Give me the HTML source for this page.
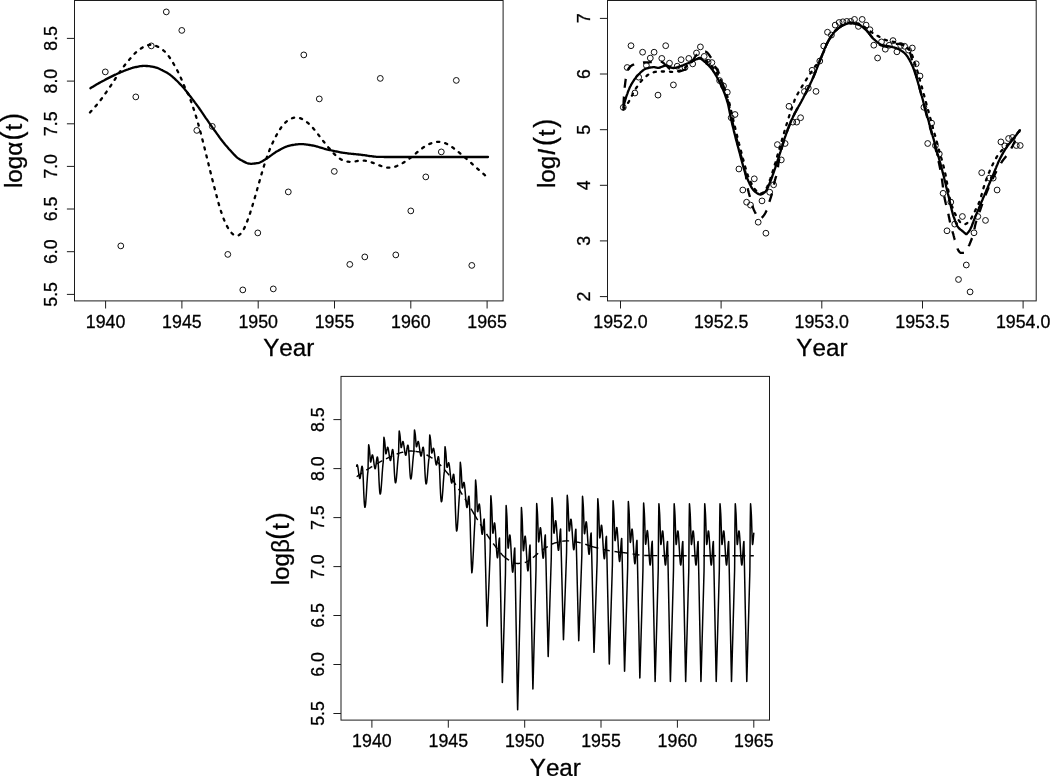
<!DOCTYPE html>
<html>
<head>
<meta charset="utf-8">
<title>Figure</title>
<style>
html,body{margin:0;padding:0;background:#fff;}
body{width:1050px;height:776px;overflow:hidden;}
svg{display:block;filter:grayscale(1);}
text{font-family:"Liberation Sans",sans-serif;fill:#000;font-kerning:none;stroke:#000;stroke-width:0.3px;}
</style>
</head>
<body>
<svg width="1050" height="776" viewBox="0 0 1050 776">
<rect x="0" y="0" width="1050" height="776" fill="#ffffff"/>
<rect x="74.5" y="0.5" width="428.6" height="300.4" fill="none" stroke="#1c1c1c" stroke-width="1.00"/>
<line x1="105.6" y1="300.9" x2="105.6" y2="308.5" stroke="#1c1c1c" stroke-width="1.00"/>
<text x="105.6" y="327.5" font-size="17.8" text-anchor="middle">1940</text>
<line x1="181.9" y1="300.9" x2="181.9" y2="308.5" stroke="#1c1c1c" stroke-width="1.00"/>
<text x="181.9" y="327.5" font-size="17.8" text-anchor="middle">1945</text>
<line x1="258.2" y1="300.9" x2="258.2" y2="308.5" stroke="#1c1c1c" stroke-width="1.00"/>
<text x="258.2" y="327.5" font-size="17.8" text-anchor="middle">1950</text>
<line x1="334.5" y1="300.9" x2="334.5" y2="308.5" stroke="#1c1c1c" stroke-width="1.00"/>
<text x="334.5" y="327.5" font-size="17.8" text-anchor="middle">1955</text>
<line x1="410.8" y1="300.9" x2="410.8" y2="308.5" stroke="#1c1c1c" stroke-width="1.00"/>
<text x="410.8" y="327.5" font-size="17.8" text-anchor="middle">1960</text>
<line x1="487.1" y1="300.9" x2="487.1" y2="308.5" stroke="#1c1c1c" stroke-width="1.00"/>
<text x="487.1" y="327.5" font-size="17.8" text-anchor="middle">1965</text>
<line x1="66.9" y1="294.4" x2="74.5" y2="294.4" stroke="#1c1c1c" stroke-width="1.00"/>
<text transform="translate(57.2 294.4) rotate(-90)" font-size="17.8" text-anchor="middle">5.5</text>
<line x1="66.9" y1="251.7" x2="74.5" y2="251.7" stroke="#1c1c1c" stroke-width="1.00"/>
<text transform="translate(57.2 251.7) rotate(-90)" font-size="17.8" text-anchor="middle">6.0</text>
<line x1="66.9" y1="209.0" x2="74.5" y2="209.0" stroke="#1c1c1c" stroke-width="1.00"/>
<text transform="translate(57.2 209.0) rotate(-90)" font-size="17.8" text-anchor="middle">6.5</text>
<line x1="66.9" y1="166.4" x2="74.5" y2="166.4" stroke="#1c1c1c" stroke-width="1.00"/>
<text transform="translate(57.2 166.4) rotate(-90)" font-size="17.8" text-anchor="middle">7.0</text>
<line x1="66.9" y1="123.8" x2="74.5" y2="123.8" stroke="#1c1c1c" stroke-width="1.00"/>
<text transform="translate(57.2 123.8) rotate(-90)" font-size="17.8" text-anchor="middle">7.5</text>
<line x1="66.9" y1="81.1" x2="74.5" y2="81.1" stroke="#1c1c1c" stroke-width="1.00"/>
<text transform="translate(57.2 81.1) rotate(-90)" font-size="17.8" text-anchor="middle">8.0</text>
<line x1="66.9" y1="38.4" x2="74.5" y2="38.4" stroke="#1c1c1c" stroke-width="1.00"/>
<text transform="translate(57.2 38.4) rotate(-90)" font-size="17.8" text-anchor="middle">8.5</text>
<text x="288.7" y="356.2" font-size="24.2" text-anchor="middle">Year</text>
<g transform="translate(22.10 188.00) rotate(-90)">
<text x="0" y="0" font-size="24.2">log</text>
<text x="32.29" y="0" font-size="24.2">α</text>
<text transform="translate(47.59 -0.50) scale(0.900 1)" font-size="30.0">(</text>
<text x="57.58" y="0" font-size="24.2">t</text>
<text transform="translate(66.01 -0.50) scale(0.900 1)" font-size="30.0">)</text>
</g>
<g fill="none" stroke="#111" stroke-width="1.00">
<circle cx="105.3" cy="71.9" r="2.90"/>
<circle cx="120.8" cy="245.9" r="2.90"/>
<circle cx="135.8" cy="96.9" r="2.90"/>
<circle cx="151.3" cy="45.9" r="2.90"/>
<circle cx="166.3" cy="11.9" r="2.90"/>
<circle cx="181.8" cy="30.4" r="2.90"/>
<circle cx="196.8" cy="130.4" r="2.90"/>
<circle cx="212.3" cy="126.4" r="2.90"/>
<circle cx="227.8" cy="254.4" r="2.90"/>
<circle cx="242.8" cy="289.9" r="2.90"/>
<circle cx="257.8" cy="232.9" r="2.90"/>
<circle cx="273.3" cy="288.9" r="2.90"/>
<circle cx="288.3" cy="191.9" r="2.90"/>
<circle cx="303.8" cy="54.9" r="2.90"/>
<circle cx="319.3" cy="98.9" r="2.90"/>
<circle cx="334.3" cy="171.4" r="2.90"/>
<circle cx="349.8" cy="264.4" r="2.90"/>
<circle cx="364.8" cy="256.9" r="2.90"/>
<circle cx="380.3" cy="78.4" r="2.90"/>
<circle cx="395.8" cy="254.9" r="2.90"/>
<circle cx="410.8" cy="210.9" r="2.90"/>
<circle cx="425.8" cy="176.9" r="2.90"/>
<circle cx="441.3" cy="151.9" r="2.90"/>
<circle cx="456.3" cy="80.4" r="2.90"/>
<circle cx="471.8" cy="265.4" r="2.90"/>
</g>
<path d="M90.4 88.2L91.4 87.6L92.4 87.0L93.4 86.4L94.4 85.8L95.4 85.2L96.4 84.6L97.4 84.0L98.4 83.4L99.4 82.9L100.4 82.3L101.4 81.8L102.4 81.2L103.4 80.7L104.4 80.2L105.3 79.6L106.3 79.1L107.3 78.6L108.3 78.1L109.3 77.6L110.3 77.1L111.3 76.6L112.3 76.1L113.3 75.6L114.3 75.1L115.3 74.6L116.3 74.2L117.3 73.7L118.3 73.3L119.3 72.9L120.3 72.4L121.3 72.0L122.3 71.6L123.3 71.2L124.3 70.8L125.3 70.4L126.3 70.0L127.3 69.6L128.3 69.3L129.3 68.9L130.3 68.6L131.3 68.2L132.3 67.9L133.2 67.6L134.2 67.4L135.2 67.2L136.2 67.0L137.2 66.8L138.2 66.6L139.2 66.4L140.2 66.2L141.2 66.1L142.2 66.0L143.2 65.9L144.2 65.9L145.2 65.9L146.2 66.0L147.2 66.0L148.2 66.1L149.2 66.2L150.2 66.3L151.2 66.5L152.2 66.6L153.2 66.8L154.2 67.0L155.2 67.3L156.2 67.6L157.2 67.9L158.2 68.3L159.2 68.7L160.2 69.2L161.2 69.7L162.1 70.1L163.1 70.7L164.1 71.2L165.1 71.7L166.1 72.2L167.1 72.8L168.1 73.4L169.1 74.1L170.1 74.8L171.1 75.6L172.1 76.4L173.1 77.3L174.1 78.2L175.1 79.1L176.1 80.1L177.1 81.0L178.1 82.0L179.1 83.1L180.1 84.1L181.1 85.1L182.1 86.2L183.1 87.3L184.1 88.4L185.1 89.7L186.1 90.9L187.1 92.2L188.1 93.5L189.1 94.8L190.0 96.1L191.0 97.3L192.0 98.6L193.0 99.9L194.0 101.2L195.0 102.6L196.0 103.9L197.0 105.3L198.0 106.6L199.0 108.0L200.0 109.5L201.0 110.9L202.0 112.4L203.0 113.8L204.0 115.3L205.0 116.8L206.0 118.3L207.0 119.7L208.0 121.2L209.0 122.7L210.0 124.1L211.0 125.5L212.0 126.9L213.0 128.3L214.0 129.7L215.0 131.0L216.0 132.4L217.0 133.8L218.0 135.2L218.9 136.5L219.9 137.9L220.9 139.2L221.9 140.5L222.9 141.8L223.9 143.0L224.9 144.3L225.9 145.5L226.9 146.6L227.9 147.7L228.9 148.9L229.9 150.0L230.9 151.1L231.9 152.2L232.9 153.3L233.9 154.4L234.9 155.4L235.9 156.4L236.9 157.3L237.9 158.1L238.9 158.8L239.9 159.4L240.9 160.0L241.9 160.5L242.9 161.1L243.9 161.6L244.9 162.1L245.9 162.6L246.8 163.0L247.8 163.3L248.8 163.6L249.8 163.7L250.8 163.8L251.8 163.8L252.8 163.7L253.8 163.7L254.8 163.5L255.8 163.4L256.8 163.2L257.8 163.1L258.8 162.9L259.8 162.5L260.8 162.0L261.8 161.5L262.8 160.9L263.8 160.3L264.8 159.7L265.8 159.1L266.8 158.5L267.8 157.8L268.8 157.1L269.8 156.3L270.8 155.6L271.8 154.9L272.8 154.1L273.8 153.4L274.8 152.8L275.7 152.1L276.7 151.5L277.7 151.0L278.7 150.4L279.7 149.9L280.7 149.3L281.7 148.8L282.7 148.3L283.7 147.8L284.7 147.3L285.7 146.9L286.7 146.5L287.7 146.2L288.7 145.9L289.7 145.6L290.7 145.4L291.7 145.2L292.7 145.0L293.7 144.8L294.7 144.7L295.7 144.5L296.7 144.4L297.7 144.3L298.7 144.2L299.7 144.1L300.7 144.1L301.7 144.1L302.7 144.2L303.6 144.2L304.6 144.3L305.6 144.4L306.6 144.6L307.6 144.7L308.6 144.9L309.6 145.0L310.6 145.2L311.6 145.4L312.6 145.5L313.6 145.7L314.6 145.9L315.6 146.2L316.6 146.5L317.6 146.7L318.6 147.0L319.6 147.3L320.6 147.6L321.6 147.9L322.6 148.2L323.6 148.5L324.6 148.8L325.6 149.1L326.6 149.3L327.6 149.6L328.6 149.8L329.6 150.0L330.6 150.2L331.6 150.5L332.5 150.7L333.5 150.9L334.5 151.1L335.5 151.3L336.5 151.5L337.5 151.7L338.5 151.9L339.5 152.1L340.5 152.3L341.5 152.5L342.5 152.6L343.5 152.8L344.5 152.9L345.5 153.1L346.5 153.2L347.5 153.3L348.5 153.5L349.5 153.6L350.5 153.7L351.5 153.8L352.5 153.9L353.5 154.0L354.5 154.1L355.5 154.2L356.5 154.3L357.5 154.4L358.5 154.5L359.5 154.6L360.4 154.7L361.4 154.9L362.4 155.0L363.4 155.1L364.4 155.2L365.4 155.4L366.4 155.5L367.4 155.7L368.4 155.8L369.4 156.0L370.4 156.1L371.4 156.2L372.4 156.4L373.4 156.5L374.4 156.6L375.4 156.7L376.4 156.8L377.4 156.8L378.4 156.9L379.4 156.9L380.4 156.9L381.4 156.9L382.4 156.9L383.4 156.9L384.4 157.0L385.4 157.0L386.4 157.0L387.4 157.0L388.4 157.0L389.3 157.0L390.3 157.0L391.3 157.0L392.3 157.0L393.3 157.0L394.3 157.0L395.3 157.0L396.3 157.0L397.3 157.0L398.3 157.0L399.3 157.0L400.3 157.0L401.3 157.0L402.3 157.0L403.3 157.0L404.3 157.0L405.3 157.0L406.3 157.0L407.3 157.0L408.3 157.0L409.3 157.0L410.3 157.0L411.3 157.0L412.3 157.0L413.3 157.0L414.3 157.0L415.3 157.0L416.3 157.0L417.2 157.0L418.2 157.0L419.2 157.0L420.2 157.0L421.2 157.0L422.2 157.0L423.2 157.0L424.2 157.0L425.2 157.0L426.2 157.0L427.2 157.0L428.2 157.0L429.2 157.0L430.2 157.0L431.2 157.0L432.2 157.0L433.2 157.0L434.2 157.0L435.2 157.0L436.2 157.0L437.2 157.0L438.2 157.0L439.2 157.0L440.2 157.0L441.2 157.0L442.2 157.0L443.2 157.0L444.2 157.0L445.2 157.0L446.1 157.0L447.1 157.0L448.1 157.0L449.1 157.0L450.1 157.0L451.1 157.0L452.1 157.0L453.1 157.0L454.1 157.0L455.1 157.0L456.1 157.0L457.1 157.0L458.1 157.0L459.1 157.0L460.1 157.0L461.1 157.0L462.1 157.0L463.1 157.0L464.1 157.0L465.1 157.0L466.1 157.0L467.1 157.0L468.1 157.0L469.1 157.0L470.1 157.0L471.1 157.0L472.1 157.0L473.1 157.0L474.0 157.0L475.0 157.0L476.0 157.0L477.0 157.0L478.0 157.0L479.0 157.0L480.0 157.0L481.0 157.0L482.0 157.0L483.0 157.0L484.0 157.0L485.0 157.0L486.0 157.0L487.0 157.0L488.0 157.0" fill="none" stroke="#000" stroke-width="2.3" stroke-linejoin="round" stroke-linecap="round"/>
<path d="M90.0 112.5L90.8 111.6L91.6 110.7L92.4 109.8L93.2 108.9L94.0 108.0L94.8 107.1L95.6 106.2L96.4 105.2L97.2 104.3L98.0 103.3L98.8 102.3L99.6 101.3L100.4 100.3L101.2 99.2L102.0 98.2L102.8 97.1L103.6 96.0L104.3 94.9L105.1 93.8L105.9 92.7L106.7 91.6L107.5 90.4L108.3 89.3L109.1 88.1L109.9 87.0L110.7 85.8L111.5 84.6L112.3 83.4L113.1 82.2L113.9 80.9L114.7 79.7L115.5 78.5L116.3 77.2L117.1 76.0L117.9 74.7L118.7 73.5L119.5 72.3L120.3 71.2L121.1 70.1L121.9 69.0L122.7 67.9L123.5 66.8L124.3 65.8L125.1 64.8L125.9 63.8L126.7 62.8L127.5 61.8L128.3 60.9L129.1 59.9L129.9 58.9L130.7 58.0L131.5 57.1L132.3 56.2L133.0 55.3L133.8 54.5L134.6 53.7L135.4 52.9L136.2 52.1L137.0 51.4L137.8 50.8L138.6 50.1L139.4 49.5L140.2 49.0L141.0 48.4L141.8 47.9L142.6 47.4L143.4 47.0L144.2 46.6L145.0 46.2L145.8 45.9L146.6 45.6L147.4 45.3L148.2 45.1L149.0 45.0L149.8 44.8L150.6 44.8L151.4 44.8L152.2 44.9L153.0 45.0L153.8 45.2L154.6 45.4L155.4 45.7L156.2 46.0L157.0 46.3L157.8 46.7L158.6 47.1L159.4 47.5L160.2 48.0L161.0 48.5L161.7 49.0L162.5 49.6L163.3 50.3L164.1 51.0L164.9 51.7L165.7 52.6L166.5 53.4L167.3 54.4L168.1 55.4L168.9 56.4L169.7 57.6L170.5 58.8L171.3 60.0L172.1 61.3L172.9 62.6L173.7 64.0L174.5 65.4L175.3 66.9L176.1 68.3L176.9 69.8L177.7 71.3L178.5 72.8L179.3 74.5L180.1 76.2L180.9 78.0L181.7 79.9L182.5 81.8L183.3 83.7L184.1 85.6L184.9 87.5L185.7 89.2L186.5 90.9L187.3 92.5L188.1 94.1L188.9 95.8L189.6 97.7L190.4 99.7L191.2 101.8L192.0 104.1L192.8 106.4L193.6 108.8L194.4 111.2L195.2 113.7L196.0 116.3L196.8 119.0L197.6 121.7L198.4 124.5L199.2 127.4L200.0 130.3L200.8 133.3L201.6 136.4L202.4 139.5L203.2 142.6L204.0 145.8L204.8 149.0L205.6 152.3L206.4 155.5L207.2 158.8L208.0 162.0L208.8 165.3L209.6 168.5L210.4 171.7L211.2 174.9L212.0 178.1L212.8 181.3L213.6 184.4L214.4 187.5L215.2 190.6L216.0 193.6L216.8 196.6L217.6 199.5L218.3 202.4L219.1 205.1L219.9 207.8L220.7 210.4L221.5 212.8L222.3 215.2L223.1 217.4L223.9 219.4L224.7 221.4L225.5 223.1L226.3 224.8L227.1 226.4L227.9 227.8L228.7 229.1L229.5 230.3L230.3 231.4L231.1 232.4L231.9 233.3L232.7 234.0L233.5 234.6L234.3 235.1L235.1 235.5L235.9 235.7L236.7 235.7L237.5 235.6L238.3 235.4L239.1 235.0L239.9 234.4L240.7 233.6L241.5 232.7L242.3 231.6L243.1 230.4L243.9 228.9L244.7 227.4L245.5 225.6L246.3 223.8L247.0 221.8L247.8 219.7L248.6 217.5L249.4 215.2L250.2 212.8L251.0 210.3L251.8 207.8L252.6 205.1L253.4 202.5L254.2 199.7L255.0 197.0L255.8 194.2L256.6 191.4L257.4 188.5L258.2 185.7L259.0 182.9L259.8 180.1L260.6 177.3L261.4 174.5L262.2 171.8L263.0 169.1L263.8 166.5L264.6 163.9L265.4 161.4L266.2 159.1L267.0 156.8L267.8 154.6L268.6 152.4L269.4 150.4L270.2 148.4L271.0 146.6L271.8 144.8L272.6 143.0L273.4 141.3L274.2 139.7L274.9 138.1L275.7 136.6L276.5 135.1L277.3 133.7L278.1 132.3L278.9 131.0L279.7 129.7L280.5 128.5L281.3 127.3L282.1 126.3L282.9 125.3L283.7 124.3L284.5 123.4L285.3 122.6L286.1 121.9L286.9 121.2L287.7 120.6L288.5 120.1L289.3 119.6L290.1 119.1L290.9 118.8L291.7 118.4L292.5 118.1L293.3 117.9L294.1 117.7L294.9 117.6L295.7 117.5L296.5 117.5L297.3 117.5L298.1 117.7L298.9 117.8L299.7 118.0L300.5 118.3L301.3 118.6L302.1 119.0L302.9 119.4L303.6 119.9L304.4 120.4L305.2 120.9L306.0 121.5L306.8 122.1L307.6 122.7L308.4 123.4L309.2 124.1L310.0 124.9L310.8 125.7L311.6 126.5L312.4 127.3L313.2 128.2L314.0 129.2L314.8 130.1L315.6 131.1L316.4 132.1L317.2 133.2L318.0 134.2L318.8 135.3L319.6 136.3L320.4 137.4L321.2 138.4L322.0 139.5L322.8 140.5L323.6 141.5L324.4 142.5L325.2 143.5L326.0 144.5L326.8 145.5L327.6 146.4L328.4 147.4L329.2 148.3L330.0 149.2L330.8 150.2L331.5 151.1L332.3 151.9L333.1 152.8L333.9 153.6L334.7 154.4L335.5 155.2L336.3 155.9L337.1 156.6L337.9 157.3L338.7 157.9L339.5 158.4L340.3 159.0L341.1 159.4L341.9 159.9L342.7 160.3L343.5 160.6L344.3 160.9L345.1 161.2L345.9 161.4L346.7 161.5L347.5 161.7L348.3 161.7L349.1 161.8L349.9 161.8L350.7 161.8L351.5 161.8L352.3 161.7L353.1 161.6L353.9 161.5L354.7 161.4L355.5 161.3L356.3 161.2L357.1 161.0L357.9 160.9L358.7 160.8L359.5 160.7L360.2 160.6L361.0 160.5L361.8 160.5L362.6 160.5L363.4 160.5L364.2 160.6L365.0 160.7L365.8 160.8L366.6 160.9L367.4 161.1L368.2 161.3L369.0 161.5L369.8 161.8L370.6 162.0L371.4 162.3L372.2 162.6L373.0 162.9L373.8 163.2L374.6 163.5L375.4 163.8L376.2 164.1L377.0 164.5L377.8 164.8L378.6 165.1L379.4 165.4L380.2 165.7L381.0 166.0L381.8 166.3L382.6 166.5L383.4 166.8L384.2 167.0L385.0 167.2L385.8 167.4L386.6 167.5L387.4 167.6L388.2 167.7L388.9 167.7L389.7 167.7L390.5 167.6L391.3 167.5L392.1 167.4L392.9 167.2L393.7 167.0L394.5 166.8L395.3 166.6L396.1 166.3L396.9 166.0L397.7 165.6L398.5 165.3L399.3 164.9L400.1 164.5L400.9 164.1L401.7 163.6L402.5 163.2L403.3 162.7L404.1 162.2L404.9 161.7L405.7 161.2L406.5 160.7L407.3 160.1L408.1 159.6L408.9 159.0L409.7 158.4L410.5 157.8L411.3 157.1L412.1 156.5L412.9 155.9L413.7 155.2L414.5 154.5L415.3 153.9L416.1 153.2L416.8 152.5L417.6 151.9L418.4 151.2L419.2 150.6L420.0 149.9L420.8 149.3L421.6 148.7L422.4 148.1L423.2 147.5L424.0 147.0L424.8 146.5L425.6 146.0L426.4 145.5L427.2 145.1L428.0 144.7L428.8 144.3L429.6 143.9L430.4 143.6L431.2 143.3L432.0 143.0L432.8 142.7L433.6 142.5L434.4 142.3L435.2 142.1L436.0 142.0L436.8 141.9L437.6 141.8L438.4 141.8L439.2 141.8L440.0 141.9L440.8 142.0L441.6 142.1L442.4 142.3L443.2 142.5L444.0 142.7L444.8 143.0L445.5 143.3L446.3 143.7L447.1 144.0L447.9 144.5L448.7 144.9L449.5 145.4L450.3 145.9L451.1 146.4L451.9 146.9L452.7 147.5L453.5 148.1L454.3 148.7L455.1 149.3L455.9 149.9L456.7 150.6L457.5 151.2L458.3 151.9L459.1 152.5L459.9 153.2L460.7 153.9L461.5 154.5L462.3 155.2L463.1 155.9L463.9 156.6L464.7 157.3L465.5 158.0L466.3 158.7L467.1 159.4L467.9 160.1L468.7 160.8L469.5 161.5L470.3 162.2L471.1 162.9L471.9 163.6L472.7 164.4L473.5 165.1L474.2 165.8L475.0 166.5L475.8 167.2L476.6 167.9L477.4 168.6L478.2 169.3L479.0 170.0L479.8 170.7L480.6 171.4L481.4 172.1L482.2 172.8L483.0 173.5L483.8 174.2L484.6 174.9L485.4 175.6L486.2 176.3L487.0 177.0L487.8 177.7" fill="none" stroke="#000" stroke-width="2.3" stroke-dasharray="2.2 6.0" stroke-linecap="round" stroke-linejoin="round"/>
<rect x="607.5" y="0.5" width="428.7" height="300.4" fill="none" stroke="#1c1c1c" stroke-width="1.00"/>
<line x1="620.5" y1="300.9" x2="620.5" y2="308.5" stroke="#1c1c1c" stroke-width="1.00"/>
<text x="620.5" y="327.5" font-size="17.8" text-anchor="middle">1952.0</text>
<line x1="721.1" y1="300.9" x2="721.1" y2="308.5" stroke="#1c1c1c" stroke-width="1.00"/>
<text x="721.1" y="327.5" font-size="17.8" text-anchor="middle">1952.5</text>
<line x1="821.8" y1="300.9" x2="821.8" y2="308.5" stroke="#1c1c1c" stroke-width="1.00"/>
<text x="821.8" y="327.5" font-size="17.8" text-anchor="middle">1953.0</text>
<line x1="922.5" y1="300.9" x2="922.5" y2="308.5" stroke="#1c1c1c" stroke-width="1.00"/>
<text x="922.5" y="327.5" font-size="17.8" text-anchor="middle">1953.5</text>
<line x1="1023.1" y1="300.9" x2="1023.1" y2="308.5" stroke="#1c1c1c" stroke-width="1.00"/>
<text x="1023.1" y="327.5" font-size="17.8" text-anchor="middle">1954.0</text>
<line x1="599.9" y1="296.6" x2="607.5" y2="296.6" stroke="#1c1c1c" stroke-width="1.00"/>
<text transform="translate(590.3 296.6) rotate(-90)" font-size="17.8" text-anchor="middle">2</text>
<line x1="599.9" y1="240.9" x2="607.5" y2="240.9" stroke="#1c1c1c" stroke-width="1.00"/>
<text transform="translate(590.3 240.9) rotate(-90)" font-size="17.8" text-anchor="middle">3</text>
<line x1="599.9" y1="185.3" x2="607.5" y2="185.3" stroke="#1c1c1c" stroke-width="1.00"/>
<text transform="translate(590.3 185.3) rotate(-90)" font-size="17.8" text-anchor="middle">4</text>
<line x1="599.9" y1="129.7" x2="607.5" y2="129.7" stroke="#1c1c1c" stroke-width="1.00"/>
<text transform="translate(590.3 129.7) rotate(-90)" font-size="17.8" text-anchor="middle">5</text>
<line x1="599.9" y1="74.0" x2="607.5" y2="74.0" stroke="#1c1c1c" stroke-width="1.00"/>
<text transform="translate(590.3 74.0) rotate(-90)" font-size="17.8" text-anchor="middle">6</text>
<line x1="599.9" y1="18.4" x2="607.5" y2="18.4" stroke="#1c1c1c" stroke-width="1.00"/>
<text transform="translate(590.3 18.4) rotate(-90)" font-size="17.8" text-anchor="middle">7</text>
<text x="821.9" y="356.2" font-size="24.2" text-anchor="middle">Year</text>
<g transform="translate(555.40 188.00) rotate(-90)">
<text x="0" y="0" font-size="24.2">log</text>
<text x="32.59" y="0" font-size="24.2" font-style="italic">I</text>
<text transform="translate(41.89 -0.50) scale(0.900 1)" font-size="30.0">(</text>
<text x="51.88" y="0" font-size="24.2">t</text>
<text transform="translate(60.31 -0.50) scale(0.900 1)" font-size="30.0">)</text>
</g>
<g fill="none" stroke="#111" stroke-width="1.00">
<circle cx="623.3" cy="107.4" r="2.90"/>
<circle cx="627.2" cy="67.5" r="2.90"/>
<circle cx="631.0" cy="45.7" r="2.90"/>
<circle cx="634.9" cy="93.0" r="2.90"/>
<circle cx="638.7" cy="77.2" r="2.90"/>
<circle cx="642.6" cy="52.2" r="2.90"/>
<circle cx="646.4" cy="65.5" r="2.90"/>
<circle cx="650.3" cy="58.1" r="2.90"/>
<circle cx="654.1" cy="52.2" r="2.90"/>
<circle cx="658.0" cy="95.1" r="2.90"/>
<circle cx="661.8" cy="58.4" r="2.90"/>
<circle cx="665.7" cy="45.7" r="2.90"/>
<circle cx="669.5" cy="63.2" r="2.90"/>
<circle cx="673.4" cy="84.9" r="2.90"/>
<circle cx="677.2" cy="66.2" r="2.90"/>
<circle cx="681.1" cy="59.7" r="2.90"/>
<circle cx="685.0" cy="67.5" r="2.90"/>
<circle cx="688.8" cy="58.4" r="2.90"/>
<circle cx="692.7" cy="63.9" r="2.90"/>
<circle cx="696.5" cy="53.0" r="2.90"/>
<circle cx="700.4" cy="46.9" r="2.90"/>
<circle cx="704.2" cy="56.4" r="2.90"/>
<circle cx="708.1" cy="62.2" r="2.90"/>
<circle cx="711.9" cy="62.6" r="2.90"/>
<circle cx="715.8" cy="70.5" r="2.90"/>
<circle cx="719.6" cy="80.6" r="2.90"/>
<circle cx="723.5" cy="85.9" r="2.90"/>
<circle cx="727.3" cy="92.3" r="2.90"/>
<circle cx="731.2" cy="117.7" r="2.90"/>
<circle cx="735.0" cy="114.5" r="2.90"/>
<circle cx="738.9" cy="169.0" r="2.90"/>
<circle cx="742.8" cy="190.0" r="2.90"/>
<circle cx="746.6" cy="202.2" r="2.90"/>
<circle cx="750.5" cy="205.1" r="2.90"/>
<circle cx="754.3" cy="178.8" r="2.90"/>
<circle cx="758.2" cy="222.2" r="2.90"/>
<circle cx="762.0" cy="200.9" r="2.90"/>
<circle cx="765.9" cy="233.2" r="2.90"/>
<circle cx="769.7" cy="192.2" r="2.90"/>
<circle cx="773.6" cy="184.8" r="2.90"/>
<circle cx="777.4" cy="144.6" r="2.90"/>
<circle cx="781.3" cy="159.9" r="2.90"/>
<circle cx="785.1" cy="143.5" r="2.90"/>
<circle cx="789.0" cy="106.3" r="2.90"/>
<circle cx="792.8" cy="122.1" r="2.90"/>
<circle cx="796.7" cy="122.1" r="2.90"/>
<circle cx="800.6" cy="117.7" r="2.90"/>
<circle cx="804.4" cy="91.5" r="2.90"/>
<circle cx="808.3" cy="88.2" r="2.90"/>
<circle cx="812.1" cy="70.3" r="2.90"/>
<circle cx="816.0" cy="91.4" r="2.90"/>
<circle cx="819.8" cy="61.0" r="2.90"/>
<circle cx="823.7" cy="46.0" r="2.90"/>
<circle cx="827.5" cy="32.2" r="2.90"/>
<circle cx="831.4" cy="35.1" r="2.90"/>
<circle cx="835.2" cy="25.1" r="2.90"/>
<circle cx="839.1" cy="22.5" r="2.90"/>
<circle cx="842.9" cy="21.8" r="2.90"/>
<circle cx="846.8" cy="21.4" r="2.90"/>
<circle cx="850.7" cy="21.4" r="2.90"/>
<circle cx="854.5" cy="19.4" r="2.90"/>
<circle cx="858.4" cy="26.4" r="2.90"/>
<circle cx="862.2" cy="19.4" r="2.90"/>
<circle cx="866.1" cy="25.1" r="2.90"/>
<circle cx="869.9" cy="29.7" r="2.90"/>
<circle cx="873.8" cy="45.2" r="2.90"/>
<circle cx="877.6" cy="58.0" r="2.90"/>
<circle cx="881.5" cy="41.9" r="2.90"/>
<circle cx="885.3" cy="49.2" r="2.90"/>
<circle cx="889.2" cy="45.3" r="2.90"/>
<circle cx="893.0" cy="40.6" r="2.90"/>
<circle cx="896.9" cy="51.8" r="2.90"/>
<circle cx="900.7" cy="45.5" r="2.90"/>
<circle cx="904.6" cy="46.3" r="2.90"/>
<circle cx="908.5" cy="50.1" r="2.90"/>
<circle cx="912.3" cy="48.0" r="2.90"/>
<circle cx="916.2" cy="63.8" r="2.90"/>
<circle cx="920.0" cy="76.0" r="2.90"/>
<circle cx="923.9" cy="107.3" r="2.90"/>
<circle cx="927.7" cy="143.5" r="2.90"/>
<circle cx="931.6" cy="123.1" r="2.90"/>
<circle cx="935.4" cy="145.5" r="2.90"/>
<circle cx="939.3" cy="153.9" r="2.90"/>
<circle cx="943.1" cy="193.3" r="2.90"/>
<circle cx="947.0" cy="230.8" r="2.90"/>
<circle cx="950.8" cy="202.1" r="2.90"/>
<circle cx="954.7" cy="224.1" r="2.90"/>
<circle cx="958.5" cy="279.5" r="2.90"/>
<circle cx="962.4" cy="216.5" r="2.90"/>
<circle cx="966.3" cy="265.0" r="2.90"/>
<circle cx="970.1" cy="291.9" r="2.90"/>
<circle cx="974.0" cy="232.8" r="2.90"/>
<circle cx="977.8" cy="216.5" r="2.90"/>
<circle cx="981.7" cy="172.7" r="2.90"/>
<circle cx="985.5" cy="220.4" r="2.90"/>
<circle cx="989.4" cy="178.1" r="2.90"/>
<circle cx="993.2" cy="178.1" r="2.90"/>
<circle cx="997.1" cy="190.0" r="2.90"/>
<circle cx="1000.9" cy="141.9" r="2.90"/>
<circle cx="1004.8" cy="145.9" r="2.90"/>
<circle cx="1008.6" cy="138.5" r="2.90"/>
<circle cx="1012.5" cy="137.5" r="2.90"/>
<circle cx="1016.3" cy="145.5" r="2.90"/>
<circle cx="1020.2" cy="145.5" r="2.90"/>
</g>
<path d="M623.3 107.4L623.9 105.1L624.4 103.0L625.0 100.9L625.6 98.9L626.1 97.1L626.7 95.4L627.3 93.8L627.8 92.3L628.4 90.8L629.0 89.4L629.5 88.1L630.1 86.8L630.7 85.7L631.2 84.6L631.8 83.6L632.4 82.7L632.9 81.8L633.5 80.9L634.1 80.0L634.6 79.2L635.2 78.4L635.8 77.6L636.3 76.9L636.9 76.2L637.5 75.6L638.1 75.0L638.6 74.4L639.2 73.8L639.8 73.3L640.3 72.7L640.9 72.2L641.5 71.7L642.0 71.2L642.6 70.7L643.2 70.3L643.7 69.8L644.3 69.5L644.9 69.1L645.4 68.8L646.0 68.6L646.6 68.4L647.1 68.3L647.7 68.1L648.3 68.0L648.8 67.9L649.4 67.7L650.0 67.6L650.5 67.5L651.1 67.4L651.7 67.4L652.2 67.3L652.8 67.2L653.4 67.2L653.9 67.2L654.5 67.2L655.1 67.3L655.6 67.4L656.2 67.6L656.8 67.7L657.3 67.8L657.9 67.9L658.5 67.9L659.0 67.8L659.6 67.6L660.2 67.5L660.7 67.2L661.3 67.0L661.9 66.8L662.4 66.5L663.0 66.3L663.6 66.1L664.2 65.9L664.7 65.7L665.3 65.6L665.9 65.6L666.4 65.6L667.0 65.8L667.6 65.9L668.1 66.1L668.7 66.4L669.3 66.6L669.8 66.9L670.4 67.2L671.0 67.4L671.5 67.6L672.1 67.8L672.7 67.9L673.2 68.0L673.8 68.0L674.4 67.9L674.9 67.9L675.5 67.8L676.1 67.6L676.6 67.5L677.2 67.3L677.8 67.1L678.3 66.9L678.9 66.7L679.5 66.5L680.0 66.3L680.6 66.1L681.2 65.9L681.7 65.7L682.3 65.5L682.9 65.3L683.4 65.1L684.0 64.9L684.6 64.7L685.1 64.4L685.7 64.2L686.3 64.0L686.8 63.7L687.4 63.5L688.0 63.2L688.5 63.0L689.1 62.7L689.7 62.5L690.3 62.2L690.8 61.9L691.4 61.6L692.0 61.3L692.5 61.0L693.1 60.7L693.7 60.4L694.2 60.1L694.8 59.9L695.4 59.6L695.9 59.4L696.5 59.2L697.1 59.1L697.6 58.9L698.2 58.7L698.8 58.6L699.3 58.5L699.9 58.5L700.5 58.7L701.0 58.9L701.6 59.3L702.2 59.7L702.7 60.1L703.3 60.6L703.9 61.1L704.4 61.5L705.0 62.0L705.6 62.4L706.1 62.9L706.7 63.5L707.3 64.0L707.8 64.6L708.4 65.2L709.0 65.8L709.5 66.4L710.1 67.0L710.7 67.7L711.2 68.4L711.8 69.1L712.4 69.9L712.9 70.6L713.5 71.5L714.1 72.3L714.6 73.2L715.2 74.1L715.8 75.1L716.4 76.1L716.9 77.1L717.5 78.1L718.1 79.2L718.6 80.3L719.2 81.5L719.8 82.6L720.3 83.8L720.9 85.0L721.5 86.2L722.0 87.4L722.6 88.7L723.2 90.0L723.7 91.4L724.3 92.8L724.9 94.3L725.4 95.9L726.0 97.5L726.6 99.2L727.1 101.1L727.7 103.0L728.3 105.3L728.8 107.9L729.4 110.8L730.0 113.7L730.5 116.5L731.1 119.2L731.7 121.7L732.2 124.1L732.8 126.5L733.4 128.8L733.9 131.1L734.5 133.4L735.1 135.6L735.6 137.9L736.2 140.1L736.8 142.2L737.3 144.4L737.9 146.5L738.5 148.6L739.0 150.7L739.6 152.8L740.2 154.9L740.7 157.1L741.3 159.3L741.9 161.4L742.5 163.6L743.0 165.7L743.6 167.7L744.2 169.7L744.7 171.5L745.3 173.3L745.9 175.0L746.4 176.5L747.0 177.9L747.6 179.2L748.1 180.5L748.7 181.8L749.3 183.0L749.8 184.2L750.4 185.3L751.0 186.4L751.5 187.4L752.1 188.3L752.7 189.2L753.2 189.9L753.8 190.5L754.4 191.1L754.9 191.5L755.5 192.0L756.1 192.4L756.6 192.9L757.2 193.3L757.8 193.6L758.3 193.9L758.9 194.2L759.5 194.3L760.0 194.5L760.6 194.5L761.2 194.4L761.7 194.3L762.3 194.0L762.9 193.7L763.4 193.3L764.0 192.9L764.6 192.4L765.1 191.8L765.7 191.3L766.3 190.6L766.8 189.7L767.4 188.6L768.0 187.3L768.5 185.9L769.1 184.5L769.7 183.1L770.3 181.8L770.8 180.3L771.4 178.8L772.0 177.3L772.5 175.7L773.1 174.1L773.7 172.4L774.2 170.8L774.8 169.1L775.4 167.4L775.9 165.6L776.5 163.9L777.1 162.2L777.6 160.5L778.2 158.8L778.8 157.0L779.3 155.2L779.9 153.4L780.5 151.6L781.0 149.7L781.6 147.9L782.2 146.0L782.7 144.2L783.3 142.4L783.9 140.6L784.4 138.9L785.0 137.2L785.6 135.6L786.1 134.0L786.7 132.5L787.3 130.9L787.8 129.4L788.4 128.0L789.0 126.5L789.5 125.1L790.1 123.7L790.7 122.3L791.2 120.9L791.8 119.6L792.4 118.3L792.9 117.1L793.5 115.9L794.1 114.7L794.6 113.5L795.2 112.4L795.8 111.4L796.4 110.3L796.9 109.3L797.5 108.3L798.1 107.3L798.6 106.3L799.2 105.3L799.8 104.3L800.3 103.3L800.9 102.3L801.5 101.2L802.0 100.1L802.6 99.1L803.2 98.0L803.7 96.9L804.3 95.8L804.9 94.7L805.4 93.6L806.0 92.5L806.6 91.3L807.1 90.2L807.7 89.1L808.3 88.0L808.8 86.8L809.4 85.6L810.0 84.5L810.5 83.3L811.1 82.1L811.7 80.8L812.2 79.6L812.8 78.3L813.4 77.0L813.9 75.7L814.5 74.3L815.1 72.9L815.6 71.5L816.2 70.1L816.8 68.6L817.3 67.2L817.9 65.7L818.5 64.3L819.0 62.9L819.6 61.4L820.2 60.0L820.7 58.6L821.3 57.2L821.9 55.8L822.5 54.3L823.0 52.9L823.6 51.4L824.2 50.0L824.7 48.5L825.3 47.2L825.9 45.9L826.4 44.6L827.0 43.5L827.6 42.4L828.1 41.4L828.7 40.4L829.3 39.4L829.8 38.4L830.4 37.5L831.0 36.6L831.5 35.8L832.1 34.9L832.7 34.2L833.2 33.4L833.8 32.7L834.4 32.1L834.9 31.5L835.5 30.9L836.1 30.3L836.6 29.8L837.2 29.3L837.8 28.8L838.3 28.3L838.9 27.9L839.5 27.4L840.0 27.0L840.6 26.7L841.2 26.3L841.7 26.0L842.3 25.7L842.9 25.4L843.4 25.2L844.0 24.9L844.6 24.6L845.1 24.4L845.7 24.1L846.3 23.9L846.8 23.7L847.4 23.5L848.0 23.3L848.6 23.2L849.1 23.1L849.7 23.0L850.3 23.0L850.8 23.0L851.4 23.0L852.0 23.1L852.5 23.1L853.1 23.2L853.7 23.3L854.2 23.4L854.8 23.5L855.4 23.7L855.9 23.8L856.5 24.0L857.1 24.1L857.6 24.3L858.2 24.4L858.8 24.6L859.3 24.9L859.9 25.2L860.5 25.5L861.0 25.9L861.6 26.3L862.2 26.7L862.7 27.2L863.3 27.6L863.9 28.1L864.4 28.6L865.0 29.1L865.6 29.6L866.1 30.1L866.7 30.7L867.3 31.3L867.8 31.9L868.4 32.6L869.0 33.3L869.5 34.1L870.1 34.8L870.7 35.6L871.2 36.3L871.8 37.0L872.4 37.7L872.9 38.3L873.5 38.8L874.1 39.3L874.7 39.9L875.2 40.4L875.8 40.9L876.4 41.4L876.9 41.9L877.5 42.3L878.1 42.8L878.6 43.2L879.2 43.6L879.8 44.0L880.3 44.3L880.9 44.6L881.5 44.8L882.0 45.0L882.6 45.1L883.2 45.3L883.7 45.4L884.3 45.5L884.9 45.6L885.4 45.7L886.0 45.8L886.6 45.9L887.1 46.0L887.7 46.1L888.3 46.2L888.8 46.3L889.4 46.4L890.0 46.5L890.5 46.7L891.1 46.8L891.7 46.9L892.2 47.0L892.8 47.2L893.4 47.3L893.9 47.4L894.5 47.6L895.1 47.8L895.6 47.9L896.2 48.1L896.8 48.3L897.3 48.5L897.9 48.8L898.5 49.0L899.0 49.3L899.6 49.6L900.2 50.0L900.7 50.3L901.3 50.7L901.9 51.1L902.5 51.5L903.0 51.9L903.6 52.4L904.2 52.8L904.7 53.3L905.3 53.9L905.9 54.5L906.4 55.2L907.0 55.9L907.6 56.7L908.1 57.6L908.7 58.6L909.3 59.6L909.8 60.6L910.4 61.7L911.0 62.8L911.5 64.0L912.1 65.2L912.7 66.4L913.2 67.8L913.8 69.3L914.4 70.9L914.9 72.6L915.5 74.3L916.1 76.2L916.6 78.0L917.2 79.9L917.8 81.9L918.3 83.8L918.9 85.7L919.5 87.6L920.0 89.6L920.6 91.6L921.2 93.7L921.7 95.8L922.3 98.0L922.9 100.1L923.4 102.3L924.0 104.5L924.6 106.6L925.1 108.7L925.7 110.8L926.3 112.8L926.8 114.9L927.4 117.0L928.0 119.0L928.6 121.0L929.1 123.1L929.7 125.1L930.3 127.2L930.8 129.2L931.4 131.2L932.0 133.3L932.5 135.3L933.1 137.3L933.7 139.4L934.2 141.4L934.8 143.5L935.4 145.5L935.9 147.6L936.5 149.6L937.1 151.6L937.6 153.6L938.2 155.7L938.8 157.7L939.3 159.7L939.9 161.8L940.5 163.9L941.0 165.9L941.6 168.1L942.2 170.2L942.7 172.4L943.3 174.6L943.9 176.8L944.4 179.1L945.0 181.5L945.6 183.8L946.1 186.2L946.7 188.6L947.3 191.0L947.8 193.3L948.4 195.6L949.0 198.0L949.5 200.4L950.1 202.9L950.7 205.4L951.2 207.8L951.8 210.1L952.4 212.4L952.9 214.4L953.5 216.3L954.1 217.9L954.7 219.5L955.2 221.1L955.8 222.6L956.4 224.0L956.9 225.2L957.5 226.3L958.1 227.2L958.6 227.9L959.2 228.5L959.8 229.0L960.3 229.5L960.9 229.9L961.5 230.3L962.0 230.8L962.6 231.2L963.2 231.7L963.7 232.2L964.3 232.7L964.9 233.1L965.4 233.6L966.0 234.1L966.6 234.2L967.1 233.6L967.7 232.9L968.3 232.3L968.8 231.6L969.4 230.8L970.0 229.8L970.5 228.8L971.1 227.5L971.7 226.2L972.2 224.7L972.8 223.2L973.4 221.7L973.9 220.2L974.5 218.7L975.1 217.3L975.6 216.0L976.2 214.6L976.8 213.2L977.3 211.9L977.9 210.5L978.5 209.1L979.0 207.8L979.6 206.4L980.2 205.1L980.8 203.7L981.3 202.4L981.9 201.0L982.5 199.7L983.0 198.3L983.6 197.0L984.2 195.6L984.7 194.3L985.3 193.0L985.9 191.7L986.4 190.3L987.0 189.0L987.6 187.7L988.1 186.4L988.7 185.1L989.3 183.8L989.8 182.5L990.4 181.2L991.0 179.9L991.5 178.6L992.1 177.2L992.7 175.9L993.2 174.6L993.8 173.2L994.4 171.8L994.9 170.4L995.5 169.0L996.1 167.6L996.6 166.2L997.2 164.9L997.8 163.5L998.3 162.2L998.9 161.0L999.5 159.8L1000.0 158.6L1000.6 157.5L1001.2 156.4L1001.7 155.4L1002.3 154.3L1002.9 153.3L1003.4 152.3L1004.0 151.4L1004.6 150.4L1005.1 149.5L1005.7 148.6L1006.3 147.8L1006.9 146.9L1007.4 146.1L1008.0 145.4L1008.6 144.6L1009.1 143.9L1009.7 143.2L1010.3 142.5L1010.8 141.9L1011.4 141.2L1012.0 140.5L1012.5 139.8L1013.1 139.1L1013.7 138.4L1014.2 137.7L1014.8 136.9L1015.4 136.2L1015.9 135.4L1016.5 134.7L1017.1 133.9L1017.6 133.2L1018.2 132.4L1018.8 131.6L1019.3 130.9L1019.9 130.1" fill="none" stroke="#000" stroke-width="2.3" stroke-linejoin="round" stroke-linecap="round"/>
<path d="M623.3 109.5L623.9 108.8L624.4 108.1L625.0 107.3L625.6 106.5L626.1 105.7L626.7 104.9L627.3 104.1L627.8 103.2L628.4 102.3L629.0 101.3L629.5 100.3L630.1 99.3L630.7 98.1L631.2 97.0L631.8 95.9L632.4 94.7L632.9 93.6L633.5 92.5L634.1 91.5L634.6 90.5L635.2 89.6L635.8 88.7L636.3 87.9L636.9 87.0L637.5 86.1L638.1 85.3L638.6 84.5L639.2 83.7L639.8 82.9L640.3 82.2L640.9 81.5L641.5 80.8L642.0 80.2L642.6 79.6L643.2 79.0L643.7 78.5L644.3 77.9L644.9 77.4L645.4 76.9L646.0 76.4L646.6 75.9L647.1 75.5L647.7 75.0L648.3 74.6L648.8 74.3L649.4 74.0L650.0 73.7L650.5 73.4L651.1 73.2L651.7 73.0L652.2 72.8L652.8 72.6L653.4 72.4L653.9 72.2L654.5 72.0L655.1 71.9L655.6 71.8L656.2 71.7L656.8 71.6L657.3 71.5L657.9 71.5L658.5 71.5L659.0 71.5L659.6 71.5L660.2 71.5L660.7 71.5L661.3 71.5L661.9 71.5L662.4 71.5L663.0 71.5L663.6 71.5L664.2 71.5L664.7 71.5L665.3 71.5L665.9 71.5L666.4 71.5L667.0 71.5L667.6 71.6L668.1 71.6L668.7 71.6L669.3 71.7L669.8 71.7L670.4 71.8L671.0 71.8L671.5 71.8L672.1 71.9L672.7 71.9L673.2 71.9L673.8 71.9L674.4 71.9L674.9 71.8L675.5 71.7L676.1 71.6L676.6 71.5L677.2 71.4L677.8 71.3L678.3 71.1L678.9 70.9L679.5 70.8L680.0 70.6L680.6 70.4L681.2 70.2L681.7 70.0L682.3 69.7L682.9 69.3L683.4 68.9L684.0 68.5L684.6 68.0L685.1 67.5L685.7 67.0L686.3 66.5L686.8 66.0L687.4 65.5L688.0 65.0L688.5 64.5L689.1 64.1L689.7 63.7L690.3 63.2L690.8 62.8L691.4 62.3L692.0 61.8L692.5 61.3L693.1 60.9L693.7 60.5L694.2 60.0L694.8 59.7L695.4 59.3L695.9 59.1L696.5 58.8L697.1 58.6L697.6 58.5L698.2 58.3L698.8 58.1L699.3 58.0L699.9 57.9L700.5 57.8L701.0 57.8L701.6 57.9L702.2 58.0L702.7 58.3L703.3 58.6L703.9 59.0L704.4 59.4L705.0 59.8L705.6 60.2L706.1 60.6L706.7 61.0L707.3 61.5L707.8 62.0L708.4 62.5L709.0 63.0L709.5 63.6L710.1 64.2L710.7 64.9L711.2 65.5L711.8 66.2L712.4 66.8L712.9 67.5L713.5 68.3L714.1 69.0L714.6 69.8L715.2 70.6L715.8 71.5L716.4 72.4L716.9 73.3L717.5 74.2L718.1 75.2L718.6 76.1L719.2 77.2L719.8 78.2L720.3 79.3L720.9 80.4L721.5 81.6L722.0 82.8L722.6 84.0L723.2 85.3L723.7 86.7L724.3 88.1L724.9 89.5L725.4 91.0L726.0 92.5L726.6 94.1L727.1 95.8L727.7 97.5L728.3 99.2L728.8 101.1L729.4 103.2L730.0 105.6L730.5 108.0L731.1 110.6L731.7 113.2L732.2 115.7L732.8 118.2L733.4 120.5L733.9 122.9L734.5 125.2L735.1 127.5L735.6 129.9L736.2 132.2L736.8 134.5L737.3 136.8L737.9 139.1L738.5 141.3L739.0 143.5L739.6 145.8L740.2 147.9L740.7 150.1L741.3 152.2L741.9 154.3L742.5 156.5L743.0 158.7L743.6 160.9L744.2 163.0L744.7 165.1L745.3 167.2L745.9 169.2L746.4 171.1L747.0 172.9L747.6 174.5L748.1 176.1L748.7 177.5L749.3 178.8L749.8 180.1L750.4 181.3L751.0 182.6L751.5 183.7L752.1 184.9L752.7 185.9L753.2 186.9L753.8 187.8L754.4 188.6L754.9 189.4L755.5 190.0L756.1 190.6L756.6 191.1L757.2 191.5L757.8 192.0L758.3 192.4L758.9 192.8L759.5 193.1L760.0 193.3L760.6 193.5L761.2 193.5L761.7 193.4L762.3 193.1L762.9 192.7L763.4 192.1L764.0 191.5L764.6 190.9L765.1 190.1L765.7 189.4L766.3 188.6L766.8 187.6L767.4 186.4L768.0 185.0L768.5 183.5L769.1 181.9L769.7 180.4L770.3 178.8L770.8 177.2L771.4 175.5L772.0 173.8L772.5 172.0L773.1 170.2L773.7 168.3L774.2 166.4L774.8 164.5L775.4 162.5L775.9 160.6L776.5 158.7L777.1 156.8L777.6 154.9L778.2 153.0L778.8 151.0L779.3 149.1L779.9 147.1L780.5 145.1L781.0 143.2L781.6 141.2L782.2 139.2L782.7 137.3L783.3 135.3L783.9 133.4L784.4 131.5L785.0 129.7L785.6 127.8L786.1 125.9L786.7 124.0L787.3 122.2L787.8 120.3L788.4 118.5L789.0 116.7L789.5 114.9L790.1 113.2L790.7 111.5L791.2 109.8L791.8 108.0L792.4 106.3L792.9 104.7L793.5 103.1L794.1 101.6L794.6 100.1L795.2 98.8L795.8 97.6L796.4 96.4L796.9 95.3L797.5 94.2L798.1 93.1L798.6 92.1L799.2 91.1L799.8 90.1L800.3 89.2L800.9 88.2L801.5 87.3L802.0 86.4L802.6 85.5L803.2 84.6L803.7 83.7L804.3 82.8L804.9 81.9L805.4 81.0L806.0 80.1L806.6 79.2L807.1 78.3L807.7 77.4L808.3 76.5L808.8 75.7L809.4 74.8L810.0 73.9L810.5 73.1L811.1 72.3L811.7 71.4L812.2 70.6L812.8 69.8L813.4 68.9L813.9 68.1L814.5 67.3L815.1 66.5L815.6 65.7L816.2 65.0L816.8 64.2L817.3 63.5L817.9 62.7L818.5 62.0L819.0 61.1L819.6 60.3L820.2 59.4L820.7 58.4L821.3 57.4L821.9 56.2L822.5 54.9L823.0 53.5L823.6 52.1L824.2 50.6L824.7 49.1L825.3 47.6L825.9 46.2L826.4 44.8L827.0 43.5L827.6 42.4L828.1 41.3L828.7 40.3L829.3 39.3L829.8 38.3L830.4 37.3L831.0 36.3L831.5 35.4L832.1 34.6L832.7 33.7L833.2 33.0L833.8 32.2L834.4 31.6L834.9 31.0L835.5 30.4L836.1 29.8L836.6 29.3L837.2 28.8L837.8 28.3L838.3 27.8L838.9 27.4L839.5 26.9L840.0 26.5L840.6 26.2L841.2 25.8L841.7 25.5L842.3 25.2L842.9 24.9L843.4 24.7L844.0 24.4L844.6 24.1L845.1 23.9L845.7 23.6L846.3 23.4L846.8 23.2L847.4 23.0L848.0 22.8L848.6 22.7L849.1 22.6L849.7 22.5L850.3 22.5L850.8 22.5L851.4 22.5L852.0 22.6L852.5 22.6L853.1 22.7L853.7 22.7L854.2 22.8L854.8 22.9L855.4 23.0L855.9 23.1L856.5 23.2L857.1 23.3L857.6 23.4L858.2 23.5L858.8 23.7L859.3 23.9L859.9 24.1L860.5 24.4L861.0 24.7L861.6 25.0L862.2 25.4L862.7 25.7L863.3 26.1L863.9 26.5L864.4 26.9L865.0 27.3L865.6 27.7L866.1 28.0L866.7 28.4L867.3 28.8L867.8 29.3L868.4 29.7L869.0 30.2L869.5 30.6L870.1 31.1L870.7 31.5L871.2 32.0L871.8 32.4L872.4 32.8L872.9 33.1L873.5 33.5L874.1 33.8L874.7 34.2L875.2 34.5L875.8 34.8L876.4 35.2L876.9 35.5L877.5 35.8L878.1 36.1L878.6 36.4L879.2 36.7L879.8 37.1L880.3 37.4L880.9 37.7L881.5 38.0L882.0 38.3L882.6 38.6L883.2 38.9L883.7 39.2L884.3 39.5L884.9 39.7L885.4 39.9L886.0 40.1L886.6 40.3L887.1 40.5L887.7 40.6L888.3 40.8L888.8 40.9L889.4 41.0L890.0 41.1L890.5 41.3L891.1 41.4L891.7 41.5L892.2 41.6L892.8 41.7L893.4 41.8L893.9 42.0L894.5 42.1L895.1 42.3L895.6 42.4L896.2 42.6L896.8 42.8L897.3 42.9L897.9 43.1L898.5 43.3L899.0 43.5L899.6 43.7L900.2 43.9L900.7 44.1L901.3 44.4L901.9 44.6L902.5 44.9L903.0 45.2L903.6 45.5L904.2 45.8L904.7 46.2L905.3 46.5L905.9 46.9L906.4 47.4L907.0 47.9L907.6 48.4L908.1 48.9L908.7 49.5L909.3 50.2L909.8 50.9L910.4 51.6L911.0 52.6L911.5 53.8L912.1 55.1L912.7 56.6L913.2 58.3L913.8 59.9L914.4 61.6L914.9 63.3L915.5 65.0L916.1 66.8L916.6 68.6L917.2 70.5L917.8 72.5L918.3 74.5L918.9 76.5L919.5 78.5L920.0 80.6L920.6 82.6L921.2 84.6L921.7 86.7L922.3 88.7L922.9 90.8L923.4 92.9L924.0 95.0L924.6 97.1L925.1 99.3L925.7 101.4L926.3 103.5L926.8 105.6L927.4 107.7L928.0 109.8L928.6 111.9L929.1 113.9L929.7 116.0L930.3 118.1L930.8 120.1L931.4 122.2L932.0 124.3L932.5 126.4L933.1 128.4L933.7 130.5L934.2 132.6L934.8 134.6L935.4 136.7L935.9 138.8L936.5 140.9L937.1 143.0L937.6 145.0L938.2 147.0L938.8 149.0L939.3 151.0L939.9 153.0L940.5 155.0L941.0 157.0L941.6 159.0L942.2 161.1L942.7 163.2L943.3 165.4L943.9 167.7L944.4 170.0L945.0 172.5L945.6 175.1L946.1 178.1L946.7 181.2L947.3 184.5L947.8 187.8L948.4 191.0L949.0 194.1L949.5 197.0L950.1 199.7L950.7 201.9L951.2 203.8L951.8 205.6L952.4 207.2L952.9 208.8L953.5 210.3L954.1 211.6L954.7 212.9L955.2 214.1L955.8 215.2L956.4 216.2L956.9 217.2L957.5 218.2L958.1 219.1L958.6 220.1L959.2 220.9L959.8 221.7L960.3 222.3L960.9 222.8L961.5 223.2L962.0 223.5L962.6 223.7L963.2 223.9L963.7 224.1L964.3 224.2L964.9 224.2L965.4 224.1L966.0 223.9L966.6 223.5L967.1 223.1L967.7 222.7L968.3 222.2L968.8 221.7L969.4 221.1L970.0 220.5L970.5 219.7L971.1 218.7L971.7 217.6L972.2 216.4L972.8 215.2L973.4 214.0L973.9 212.9L974.5 211.9L975.1 210.8L975.6 209.7L976.2 208.7L976.8 207.6L977.3 206.4L977.9 205.2L978.5 203.9L979.0 202.6L979.6 201.1L980.2 199.4L980.8 197.6L981.3 195.7L981.9 193.7L982.5 191.7L983.0 189.7L983.6 187.7L984.2 185.7L984.7 183.9L985.3 182.2L985.9 180.6L986.4 179.1L987.0 177.6L987.6 176.1L988.1 174.7L988.7 173.3L989.3 172.0L989.8 170.7L990.4 169.4L991.0 168.1L991.5 166.9L992.1 165.7L992.7 164.5L993.2 163.4L993.8 162.3L994.4 161.2L994.9 160.2L995.5 159.1L996.1 158.1L996.6 157.2L997.2 156.2L997.8 155.4L998.3 154.5L998.9 153.8L999.5 153.0L1000.0 152.3L1000.6 151.7L1001.2 151.1L1001.7 150.5L1002.3 149.9L1002.9 149.4L1003.4 148.9L1004.0 148.3L1004.6 147.8L1005.1 147.3L1005.7 146.7L1006.3 146.2L1006.9 145.6L1007.4 145.0L1008.0 144.3L1008.6 143.7L1009.1 143.1L1009.7 142.5L1010.3 141.8L1010.8 141.2L1011.4 140.5L1012.0 139.9L1012.5 139.2L1013.1 138.6L1013.7 137.9L1014.2 137.2L1014.8 136.5L1015.4 135.8L1015.9 135.1L1016.5 134.4L1017.1 133.7L1017.6 133.0L1018.2 132.3L1018.8 131.6L1019.3 130.8L1019.9 130.1" fill="none" stroke="#000" stroke-width="2.3" stroke-dasharray="2.2 6.0" stroke-linecap="round" stroke-linejoin="round"/>
<path d="M623.3 109.5L623.3 109.1L623.3 108.7L623.3 108.3L623.3 107.9L623.4 107.5L623.4 107.1L623.4 106.7L623.4 106.3L623.4 105.9L623.4 105.5L623.5 105.1L623.5 104.7L623.5 104.3L623.5 103.9L623.5 103.5L623.6 103.2L623.6 102.8L623.6 102.4L623.6 102.0L623.6 101.6L623.7 101.2L623.7 100.8L623.7 100.4L623.7 100.0L623.8 99.6L623.8 99.2L623.8 98.8L623.8 98.4L623.9 98.0L623.9 97.6L623.9 97.2L623.9 96.8L624.0 96.4L624.0 96.0L624.0 95.6L624.1 95.2L624.1 94.8L624.1 94.4L624.1 94.0L624.2 93.7L624.2 93.3L624.2 92.9L624.3 92.5L624.3 92.1L624.3 91.7L624.4 91.3L624.4 90.9L624.4 90.5L624.5 90.1L624.5 89.7L624.5 89.3L624.6 88.9L624.6 88.5L624.6 88.1L624.7 87.7L624.7 87.3L624.8 86.9L624.8 86.5L624.8 86.1L624.9 85.8L624.9 85.4L625.0 85.0L625.0 84.6L625.1 84.2L625.1 83.8L625.2 83.4L625.2 83.0L625.3 82.6L625.3 82.2L625.4 81.8L625.4 81.4L625.5 81.0L625.5 80.6L625.6 80.2L625.6 79.8L625.7 79.5L625.7 79.1L625.8 78.7L625.8 78.2L625.9 77.8L626.0 77.4L626.0 77.0L626.1 76.6L626.1 76.2L626.2 75.8L626.3 75.4L626.3 75.0L626.4 74.6L626.5 74.2L626.6 73.8L626.6 73.4L626.7 73.1L626.8 72.7L626.9 72.3L627.0 71.9L627.1 71.6L627.2 71.2L627.3 70.9L627.5 70.6L627.6 70.2L627.8 69.9L628.0 69.5L628.2 69.1L628.5 68.8L628.7 68.4L629.0 68.1L629.2 67.8L629.5 67.4L629.8 67.1L630.1 66.8L630.4 66.5L630.7 66.2L631.0 66.0L631.3 65.7L631.7 65.5L632.0 65.3L632.3 65.2L632.6 65.0L632.9 64.9L633.2 64.7L633.6 64.6L633.9 64.5L634.3 64.3L634.7 64.2L635.0 64.1L635.4 64.0L635.8 63.8L636.2 63.7L636.6 63.6L637.0 63.5L637.4 63.4L637.8 63.3L638.2 63.2L638.6 63.2L639.0 63.1L639.4 63.0L639.8 62.9L640.3 62.9L640.7 62.8L641.1 62.8L641.5 62.7L641.9 62.7L642.3 62.6L642.7 62.6L643.1 62.6L643.4 62.5L643.8 62.5L644.2 62.5L644.6 62.5L645.0 62.4L645.4 62.4L645.8 62.4L646.2 62.4L646.6 62.4L647.0 62.4L647.4 62.3L647.8 62.3L648.2 62.3L648.6 62.3L649.0 62.3L649.4 62.3L649.8 62.2L650.2 62.2L650.6 62.2L651.0 62.2L651.4 62.1L651.8 62.1L652.2 62.1L652.6 62.1L653.0 62.0L653.4 62.0L653.8 62.0L654.2 61.9L654.6 61.9L655.1 61.9L655.5 61.8L655.9 61.8L656.3 61.8L656.7 61.8L657.1 61.7L657.5 61.7L657.9 61.7L658.3 61.7L658.6 61.6L659.0 61.6L659.4 61.6L659.8 61.6L660.1 61.6L660.5 61.6L660.9 61.6L661.2 61.7L661.6 61.8L661.9 61.9L662.2 62.1L662.6 62.3L662.9 62.6L663.2 62.8L663.6 63.1L663.9 63.4L664.2 63.7L664.5 64.0L664.8 64.3L665.2 64.6L665.5 64.8L665.8 65.1" fill="none" stroke="#000" stroke-width="2.3" stroke-dasharray="8.9 9.1" stroke-dashoffset="13.97" stroke-linecap="butt" stroke-linejoin="round"/>
<path d="M665.8 65.1L666.1 65.3L666.4 65.6L666.7 65.9L667.0 66.1L667.2 66.4L667.5 66.7L667.8 67.0L668.1 67.3L668.3 67.6L668.6 67.9L668.9 68.2L669.2 68.5L669.5 68.8L669.7 69.0L670.0 69.3L670.3 69.5L670.7 69.8L671.0 70.0L671.3 70.2L671.6 70.4L672.0 70.6L672.3 70.8L672.7 71.0L673.1 71.3L673.4 71.4L673.8 71.6L674.2 71.8L674.5 71.9L674.9 72.0L675.3 72.1L675.7 72.2L676.1 72.2L676.4 72.2L676.8 72.1L677.2 72.1L677.6 72.0L678.0 71.9L678.4 71.8L678.8 71.7L679.1 71.6L679.5 71.5L679.9 71.3L680.3 71.2L680.7 71.1L681.1 71.0L681.4 70.9L681.8 70.7L682.2 70.6L682.6 70.5L683.0 70.3L683.4 70.2L683.8 70.0L684.2 69.9L684.5 69.7L684.9 69.6L685.3 69.4L685.6 69.2L686.0 69.0L686.3 68.8L686.6 68.7L686.9 68.5L687.2 68.2L687.5 68.0L687.8 67.8L688.0 67.5L688.3 67.2L688.5 67.0L688.8 66.7L689.0 66.3L689.2 66.0L689.5 65.7L689.7 65.3L689.9 65.0L690.1 64.6L690.3 64.2L690.5 63.9L690.7 63.5L690.9 63.2L691.2 62.8L691.4 62.5L691.6 62.1L691.8 61.8L692.0 61.4L692.3 61.1L692.5 60.8L692.7 60.5L692.9 60.1L693.1 59.8L693.4 59.4L693.6 59.1L693.8 58.8L694.0 58.4L694.2 58.1L694.4 57.7L694.7 57.4L694.9 57.1L695.1 56.8L695.3 56.4L695.6 56.1L695.8 55.8L696.1 55.5L696.3 55.2L696.6 54.9L696.8 54.6L697.1 54.4L697.4 54.0L697.7 53.7L698.0 53.4L698.3 53.1L698.6 52.8L698.9 52.5L699.2 52.2L699.6 52.0L699.9 51.8L700.3 51.7L700.6 51.6L701.0 51.6L701.3 51.6L701.7 51.6L702.1 51.5L702.6 51.5L703.0 51.5L703.4 51.5L703.8 51.5L704.2 51.5L704.6 51.5L704.9 51.5L705.2 51.5L705.6 51.6L705.9 51.8L706.2 51.9L706.5 52.1L706.8 52.4L707.2 52.6L707.5 52.9L707.8 53.2L708.0 53.5L708.3 53.9L708.6 54.2L708.9 54.6L709.1 55.0L709.4 55.3L709.7 55.7L709.9 56.1L710.1 56.5L710.4 56.8L710.6 57.2L710.8 57.5L711.0 57.8L711.2 58.1L711.4 58.5L711.5 58.8L711.7 59.2L711.9 59.5L712.0 59.9L712.2 60.3L712.3 60.6L712.5 61.0L712.6 61.4L712.8 61.8L712.9 62.1L713.1 62.5L713.2 62.9L713.4 63.3L713.6 63.6L713.7 64.0L713.9 64.4L714.1 64.7L714.2 65.1L714.4 65.4L714.6 65.8L714.8 66.1L715.0 66.5L715.2 66.8L715.4 67.1L715.6 67.5L715.8 67.8L716.0 68.2L716.3 68.5L716.5 68.8L716.7 69.2L716.9 69.5L717.1 69.8L717.3 70.2L717.5 70.5L717.7 70.9L717.9 71.2L718.1 71.5L718.3 71.9L718.5 72.2L718.7 72.6L718.9 72.9L719.1 73.3L719.2 73.6L719.4 74.0L719.6 74.4L719.7 74.7L719.9 75.1L720.0 75.4L720.2 75.8L720.3 76.2L720.4 76.5L720.6 76.9L720.7 77.3L720.8 77.7L721.0 78.0L721.1 78.4L721.2 78.8L721.3 79.2L721.5 79.5L721.6 79.9L721.7 80.3L721.8 80.7L721.9 81.1L722.0 81.4L722.2 81.8L722.3 82.2L722.4 82.6L722.5 83.0L722.6 83.4L722.7 83.7L722.8 84.1L722.9 84.5L723.1 84.9L723.2 85.3L723.3 85.7L723.4 86.0L723.5 86.4L723.6 86.8L723.7 87.2L723.9 87.6L724.0 87.9L724.1 88.3L724.2 88.7L724.3 89.1L724.5 89.5L724.6 89.8L724.7 90.2L724.8 90.6L724.9 91.0L725.1 91.3L725.2 91.7L725.3 92.1L725.4 92.5L725.5 92.9L725.7 93.2L725.8 93.6L725.9 94.0L726.0 94.4L726.1 94.8L726.3 95.1L726.4 95.5L726.5 95.9L726.6 96.3L726.7 96.6L726.8 97.0L727.0 97.4L727.1 97.8L727.2 98.2L727.3 98.6L727.4 98.9L727.5 99.3L727.6 99.7L727.7 100.1L727.8 100.5L727.9 100.8L728.0 101.2L728.1 101.6L728.2 102.0L728.3 102.4L728.4 102.8L728.5 103.1L728.6 103.5L728.7 103.9L728.8 104.3L728.9 104.7L729.0 105.1L729.1 105.4L729.2 105.8L729.3 106.2L729.3 106.6L729.4 107.0L729.5 107.4L729.6 107.8L729.7 108.2L729.8 108.5L729.8 108.9L729.9 109.3L730.0 109.7L730.1 110.1L730.2 110.5L730.2 110.9L730.3 111.3L730.4 111.7L730.5 112.1L730.5 112.4L730.6 112.8L730.7 113.2L730.8 113.6L730.8 114.0L730.9 114.4L731.0 114.8L731.1 115.2L731.2 115.6L731.2 115.9L731.3 116.3L731.4 116.7L731.5 117.1L731.5 117.5L731.6 117.9L731.7 118.3L731.8 118.7L731.9 119.1L732.0 119.4L732.0 119.8L732.1 120.2L732.2 120.6L732.3 121.0" fill="none" stroke="#000" stroke-width="2.3" stroke-dasharray="8.9 9.1" stroke-dashoffset="2.89" stroke-linecap="butt" stroke-linejoin="round"/>
<path d="M732.3 121.0L732.4 121.4L732.5 121.8L732.6 122.2L732.7 122.5L732.7 122.9L732.8 123.3L732.9 123.7L733.0 124.1L733.1 124.5L733.2 124.9L733.3 125.2L733.4 125.6L733.5 126.0L733.5 126.4L733.6 126.8L733.7 127.2L733.8 127.6L733.9 127.9L734.0 128.3L734.1 128.7L734.2 129.1L734.3 129.5L734.4 129.9L734.5 130.3L734.6 130.6L734.7 131.0L734.8 131.4L734.8 131.8L734.9 132.2L735.0 132.6L735.1 133.0L735.2 133.3L735.3 133.7L735.4 134.1L735.5 134.5L735.6 134.9L735.7 135.3L735.8 135.7L735.9 136.0L736.0 136.4L736.1 136.8L736.2 137.2L736.3 137.6L736.4 138.0L736.5 138.3L736.6 138.7L736.7 139.1L736.8 139.5L736.9 139.9L737.0 140.3L737.1 140.7L737.2 141.0L737.2 141.4L737.3 141.8L737.4 142.2L737.5 142.6L737.6 143.0L737.7 143.3L737.8 143.7L737.9 144.1L738.0 144.5L738.1 144.9L738.2 145.3L738.3 145.7L738.4 146.0L738.5 146.4L738.6 146.8L738.7 147.2L738.8 147.6L738.9 148.0L739.0 148.3L739.1 148.7L739.2 149.1L739.3 149.5L739.4 149.9L739.5 150.3L739.6 150.6L739.7 151.0L739.8 151.4L739.9 151.8L740.0 152.2L740.1 152.6L740.2 153.0L740.3 153.3L740.4 153.7L740.5 154.1L740.6 154.5L740.7 154.9L740.8 155.3L741.0 155.6L741.1 156.0L741.2 156.4L741.3 156.8L741.4 157.2L741.5 157.5L741.6 157.9L741.7 158.3L741.8 158.7L742.0 159.1L742.1 159.4L742.2 159.8L742.3 160.2L742.4 160.6L742.5 161.0L742.6 161.4L742.7 161.7L742.9 162.1L743.0 162.5L743.1 162.9L743.2 163.3L743.3 163.6L743.4 164.0L743.5 164.4L743.6 164.8L743.7 165.2L743.8 165.6L743.9 165.9L744.0 166.3L744.1 166.7L744.2 167.1L744.3 167.5L744.4 167.9L744.5 168.2L744.6 168.6L744.7 169.0L744.8 169.4L744.9 169.8L744.9 170.2L745.0 170.6L745.1 170.9L745.2 171.3L745.2 171.7L745.3 172.1L745.4 172.5L745.4 172.9L745.5 173.3L745.6 173.7L745.6 174.1L745.7 174.5L745.8 174.9L745.8 175.2L745.9 175.6L745.9 176.0L746.0 176.4L746.0 176.8L746.1 177.2L746.1 177.6L746.2 178.0L746.2 178.4L746.3 178.8L746.3 179.2L746.4 179.6L746.4 180.0L746.5 180.4L746.6 180.8L746.6 181.2L746.7 181.5L746.7 181.9L746.8 182.3L746.8 182.7L746.9 183.1L746.9 183.5L747.0 183.9L747.0 184.3L747.1 184.7L747.2 185.1L747.2 185.5L747.3 185.9L747.3 186.3L747.4 186.7L747.5 187.0L747.5 187.4L747.6 187.8L747.7 188.2L747.8 188.6L747.8 189.0L747.9 189.4L748.0 189.8L748.1 190.1L748.2 190.5L748.3 190.9L748.4 191.3L748.5 191.7L748.6 192.1L748.7 192.5L748.8 192.8L748.9 193.2L749.0 193.6L749.1 194.0L749.2 194.4L749.3 194.7L749.4 195.1L749.5 195.5L749.7 195.9L749.8 196.3L749.9 196.7L750.0 197.0L750.1 197.4L750.2 197.8L750.3 198.2L750.4 198.6L750.5 199.0L750.6 199.3L750.7 199.7L750.8 200.1L750.9 200.5L751.0 200.9L751.1 201.3L751.2 201.7L751.3 202.0L751.4 202.4L751.5 202.8L751.6 203.2L751.7 203.6L751.8 204.0L751.9 204.3L752.0 204.7L752.1 205.1L752.3 205.5L752.4 205.8L752.5 206.2L752.6 206.6L752.8 207.0L752.9 207.3L753.0 207.7L753.2 208.1L753.3 208.5L753.5 208.8L753.6 209.2L753.8 209.6L753.9 209.9L754.1 210.3L754.3 210.7L754.4 211.0L754.6 211.4L754.8 211.8L755.0 212.1L755.1 212.5L755.3 212.8L755.5 213.2L755.7 213.5L755.9 213.9L756.1 214.2L756.3 214.5L756.5 214.9L756.7 215.2L756.9 215.6L757.1 216.0L757.4 216.4L757.6 216.8L757.9 217.2L758.1 217.6L758.4 217.9L758.7 218.3L758.9 218.5L759.2 218.7L759.5 218.9L759.8 219.0L760.0 219.0L760.3 218.9L760.7 218.7L761.0 218.5L761.3 218.2L761.7 217.9L762.0 217.6L762.3 217.2L762.6 216.9L762.8 216.7L763.1 216.4L763.3 216.1L763.5 215.8L763.8 215.4L764.0 215.1L764.2 214.8L764.5 214.5L764.7 214.1L764.9 213.8L765.1 213.4L765.3 213.1L765.5 212.7L765.7 212.4L765.9 212.0L766.1 211.6L766.2 211.3L766.4 210.9L766.6 210.5L766.8 210.2L766.9 209.8L767.1 209.5L767.2 209.1L767.4 208.7L767.5 208.4L767.6 208.0L767.8 207.6L767.9 207.3L768.0 206.9L768.1 206.5L768.3 206.1L768.4 205.7L768.5 205.4L768.6 205.0L768.7 204.6L768.8 204.2L768.9 203.8L769.0 203.4L769.1 203.0L769.2 202.7L769.3 202.3L769.4 201.9L769.5 201.5L769.6 201.1L769.7 200.7L769.9 200.4L770.0 200.0L770.1 199.6L770.2 199.2L770.3 198.8L770.5 198.5L770.6 198.1L770.7 197.7L770.8 197.3L771.0 197.0L771.1 196.6L771.2 196.2L771.3 195.8L771.4 195.4L771.6 195.1L771.7 194.7L771.8 194.3L771.9 193.9L772.0 193.6L772.2 193.2L772.3 192.8L772.4 192.4L772.5 192.0L772.6 191.6L772.7 191.3L772.7 190.9L772.8 190.5L772.9 190.1L773.0 189.7L773.1 189.3L773.2 188.9L773.2 188.5L773.3 188.2L773.4 187.8L773.4 187.4L773.5 187.0L773.6 186.6L773.7 186.2L773.7 185.8L773.8 185.4L773.9 185.0L773.9 184.6L774.0 184.2L774.1 183.9L774.2 183.5L774.2 183.1L774.3 182.7L774.4 182.3L774.5 181.9L774.6 181.5L774.7 181.1L774.8 180.8L774.9 180.4L775.0 180.0L775.1 179.6L775.2 179.2L775.3 178.9L775.4 178.5L775.6 178.1L775.7 177.7L775.8 177.3L775.9 177.0L776.0 176.6L776.2 176.2L776.3 175.8L776.4 175.4L776.5 175.1L776.6 174.7L776.7 174.3L776.8 173.9L776.9 173.5L777.0 173.1L777.0 172.7L777.1 172.4L777.2 172.0L777.2 171.6L777.3 171.2L777.4 170.8L777.4 170.4L777.5 170.0L777.6 169.6L777.6 169.2L777.7 168.8L777.7 168.4L777.8 168.1L777.8 167.7L777.9 167.3L778.0 166.9L778.0 166.5L778.1 166.1L778.1 165.7L778.2 165.3L778.2 164.9L778.3 164.5L778.3 164.1L778.4 163.7L778.4 163.3L778.5 162.9L778.6 162.5L778.6 162.1L778.7 161.8L778.8 161.4L778.8 161.0L778.9 160.6L779.0 160.2L779.0 159.8L779.1 159.4L779.2 159.0L779.3 158.6L779.3 158.3L779.4 157.9L779.5 157.5L779.6 157.1L779.7 156.7L779.8 156.3L779.8 155.9L779.9 155.5L780.0 155.2L780.1 154.8L780.2 154.4L780.3 154.0L780.4 153.6L780.5 153.2L780.6 152.8L780.7 152.5L780.8 152.1L780.9 151.7L781.0 151.3L781.1 150.9L781.2 150.5L781.3 150.1L781.4 149.8L781.5 149.4L781.6 149.0L781.7 148.6L781.8 148.2L781.9 147.8L782.0 147.5L782.1 147.1L782.2 146.7L782.3 146.3L782.4 145.9L782.5 145.5L782.6 145.2L782.7 144.8L782.8 144.4L783.0 144.0L783.1 143.6L783.2 143.2L783.3 142.9L783.4 142.5L783.5 142.1L783.6 141.7L783.8 141.3L783.9 141.0L784.0 140.6L784.1 140.2L784.2 139.8L784.3 139.4L784.5 139.1L784.6 138.7L784.7 138.3L784.8 137.9L784.9 137.6L785.1 137.2L785.2 136.8L785.3 136.4L785.4 136.1L785.5 135.7L785.7 135.3L785.8 134.9L785.9 134.6L786.0 134.2L786.2 133.8L786.3 133.4L786.4 133.1L786.6 132.7L786.7 132.3L786.8 131.9L787.0 131.6L787.1 131.2L787.2 130.8L787.4 130.4L787.5 130.1L787.6 129.7L787.8 129.3L787.9 129.0L788.1 128.6L788.2 128.2L788.4 127.8L788.5 127.5L788.6 127.1L788.8 126.7L788.9 126.4L789.1 126.0L789.2 125.6L789.4 125.3L789.5 124.9L789.7 124.5L789.8 124.2L790.0 123.8L790.2 123.4L790.3 123.0L790.5 122.7L790.6 122.3L790.8 122.0L790.9 121.6L791.1 121.2L791.3 120.9L791.4 120.5L791.6 120.1L791.7 119.8L791.9 119.4L792.1 119.0L792.2 118.7L792.4 118.3L792.5 118.0L792.7 117.6L792.9 117.2L793.0 116.9L793.2 116.5L793.4 116.2L793.5 115.8L793.7 115.4L793.9 115.1L794.1 114.7L794.2 114.4L794.4 114.0L794.6 113.7L794.8 113.3L794.9 113.0L795.1 112.6L795.3 112.3L795.5 111.9L795.7 111.6L795.9 111.2L796.1 110.9L796.3 110.5L796.4 110.2L796.6 109.8L796.8 109.5L797.0 109.1L797.2 108.8L797.4 108.4L797.6 108.1L797.8 107.8L798.0 107.4L798.2 107.1L798.4 106.7L798.6 106.4L798.8 106.0L799.0 105.7L799.2 105.3L799.4 105.0L799.6 104.6L799.8 104.3L800.0 103.9L800.2 103.6L800.3 103.3L800.5 102.9L800.7 102.6L800.9 102.2L801.1 101.9L801.3 101.5L801.5 101.2L801.7 100.8L801.9 100.5L802.0 100.1" fill="none" stroke="#000" stroke-width="2.3" stroke-dasharray="8.9 9.1" stroke-dashoffset="2.71" stroke-linecap="butt" stroke-linejoin="round"/>
<path d="M802.0 100.1L802.2 99.8L802.4 99.4L802.6 99.1L802.8 98.7L803.0 98.3L803.1 98.0L803.3 97.6L803.5 97.3L803.7 96.9L803.9 96.6L804.1 96.2L804.2 95.9L804.4 95.5L804.6 95.2L804.8 94.8L805.0 94.5L805.1 94.1L805.3 93.8L805.5 93.4L805.7 93.1L805.9 92.7L806.0 92.3L806.2 92.0L806.4 91.6L806.6 91.3L806.8 90.9L806.9 90.6L807.1 90.2L807.3 89.9L807.5 89.5L807.7 89.2L807.8 88.8L808.0 88.5L808.2 88.1L808.4 87.7L808.5 87.4L808.7 87.0L808.9 86.7L809.1 86.3L809.2 86.0L809.4 85.6L809.6 85.2L809.8 84.9L809.9 84.5L810.1 84.2L810.3 83.8L810.4 83.5L810.6 83.1L810.8 82.7L811.0 82.4L811.1 82.0L811.3 81.7L811.5 81.3L811.6 80.9L811.8 80.6L812.0 80.2L812.1 79.9L812.3 79.5L812.4 79.1L812.6 78.8L812.8 78.4L812.9 78.1L813.1 77.7L813.2 77.3L813.4 77.0L813.5 76.6L813.7 76.2L813.9 75.9L814.0 75.5L814.2 75.1L814.3 74.8L814.5 74.4L814.6 74.0L814.8 73.7L814.9 73.3L815.1 72.9L815.2 72.6L815.4 72.2L815.5 71.8L815.7 71.5L815.8 71.1L816.0 70.7L816.1 70.4L816.2 70.0L816.4 69.6L816.5 69.3L816.7 68.9L816.8 68.5L817.0 68.1L817.1 67.8L817.3 67.4L817.4 67.0L817.6 66.7L817.7 66.3L817.8 65.9L818.0 65.6L818.1 65.2L818.3 64.8L818.4 64.4L818.6 64.1L818.7 63.7L818.9 63.3L819.0 63.0L819.1 62.6L819.3 62.2L819.4 61.9L819.6 61.5L819.7 61.1L819.9 60.8L820.0 60.4L820.2 60.0L820.3 59.7L820.5 59.3L820.6 58.9L820.8 58.6L820.9 58.2L821.1 57.8L821.2 57.4L821.4 57.1L821.5 56.7L821.7 56.3L821.8 56.0L822.0 55.6L822.1 55.2L822.2 54.8L822.4 54.5L822.5 54.1L822.7 53.7L822.8 53.4L823.0 53.0L823.1 52.6L823.2 52.2L823.4 51.9L823.5 51.5L823.7 51.1L823.8 50.7L824.0 50.4L824.1 50.0L824.3 49.6L824.4 49.3L824.6 48.9L824.7 48.5L824.9 48.2L825.0 47.8L825.2 47.4L825.3 47.1L825.5 46.7L825.6 46.3L825.8 46.0L826.0 45.6L826.1 45.3L826.3 44.9L826.5 44.6L826.6 44.2L826.8 43.9L827.0 43.5L827.2 43.2L827.3 42.8L827.5 42.5L827.7 42.1L827.9 41.8L828.1 41.4L828.3 41.1L828.5 40.7L828.7 40.4L828.9 40.0L829.1 39.7L829.3 39.3L829.5 39.0L829.7 38.6L829.9 38.3L830.1 37.9L830.3 37.6L830.5 37.2L830.8 36.9L831.0 36.6L831.2 36.2L831.4 35.9L831.6 35.6L831.9 35.2L832.1 34.9L832.3 34.6L832.6 34.3L832.8 34.0L833.1 33.6L833.3 33.3L833.6 33.0L833.8 32.7L834.1 32.4L834.3 32.1L834.6 31.9L834.8 31.6L835.1 31.3L835.4 31.0L835.6 30.7L835.9 30.5L836.2 30.2L836.5 29.9L836.8 29.6L837.1 29.4L837.4 29.1L837.7 28.8L838.0 28.6L838.3 28.3L838.6 28.1L839.0 27.8L839.3 27.6L839.6 27.3L840.0 27.1L840.3 26.9L840.6 26.7L841.0 26.4L841.3 26.2L841.6 26.0L842.0 25.9L842.3 25.7L842.7 25.5L843.0 25.4L843.4 25.2L843.7 25.0L844.1 24.8L844.5 24.7L844.8 24.5L845.2 24.3L845.6 24.2L846.0 24.0L846.3 23.9L846.7 23.7L847.1 23.6L847.5 23.5L847.9 23.4L848.3 23.3L848.7 23.2L849.1 23.1L849.4 23.1L849.8 23.0L850.2 23.0L850.6 23.0L851.0 23.0L851.4 23.0L851.8 23.1L852.2 23.1L852.6 23.1L853.0 23.2L853.4 23.3L853.8 23.3L854.2 23.4L854.6 23.5L855.0 23.6L855.4 23.7L855.8 23.8L856.2 23.9L856.5 24.0L856.9 24.1L857.3 24.2L857.7 24.3L858.0 24.4L858.4 24.5L858.7 24.6L859.1 24.8L859.4 24.9L859.8 25.1L860.1 25.3L860.5 25.5L860.8 25.7L861.1 25.9L861.5 26.1L861.8 26.4L862.1 26.6L862.4 26.9L862.8 27.1L863.1 27.4L863.4 27.7L863.7 27.9L864.0 28.2L864.3 28.5L864.6 28.8L864.9 29.0L865.2 29.3L865.5 29.6L865.8 29.8L866.1 30.1L866.4 30.4L866.7 30.6L866.9 30.9L867.2 31.2L867.5 31.5L867.7 31.8L868.0 32.1L868.3 32.4L868.5 32.7L868.8 33.0L869.0 33.3L869.3 33.6L869.5 34.0L869.7 34.3L870.0 34.6L870.2 34.9L870.5 35.2L870.7 35.6L871.0 35.9L871.2 36.2L871.5 36.5L871.7 36.8L872.0 37.1L872.2 37.4L872.5 37.7L872.7 38.0L873.0 38.3L873.3 38.6L873.6 38.9L873.8 39.1L874.1 39.4L874.4 39.7L874.7 40.0L875.0 40.3L875.3 40.6L875.6 40.9L875.9 41.2L876.1 41.5L876.4 41.8L876.7 42.1L877.0 42.4L877.3 42.7L877.6 42.9L877.9 43.2L878.3 43.5L878.6 43.7L878.9 44.0L879.2 44.2L879.5 44.4L879.8 44.7L880.2 44.9L880.5 45.0L880.8 45.2L881.2 45.4L881.5 45.5L881.9 45.6L882.2 45.7L882.6 45.8L882.9 46.0L883.3 46.1L883.7 46.2L884.1 46.3L884.5 46.4L884.9 46.5L885.3 46.6L885.7 46.6L886.1 46.7L886.5 46.8L886.9 46.9L887.3 46.9L887.7 46.9L888.1 47.0L888.5 47.0L888.9 47.0L889.3 47.0L889.6 46.9L890.0 46.8L890.4 46.7L890.8 46.6L891.2 46.4L891.5 46.3L891.9 46.1L892.3 45.9L892.6 45.8L893.0 45.6L893.4 45.4L893.7 45.2L894.1 45.0L894.4 44.8L894.8 44.5L895.1 44.3L895.5 44.1L895.8 44.0L896.2 43.9L896.6 43.8L896.9 43.8L897.3 43.8L897.7 43.8L898.1 43.9L898.5 43.9L898.9 43.9L899.3 44.0L899.7 44.0L900.1 44.1L900.5 44.2L900.9 44.2L901.3 44.3L901.7 44.3L902.1 44.4L902.5 44.5L902.9 44.6L903.3 44.7L903.7 44.8L904.1 44.9L904.5 45.1L904.9 45.2L905.3 45.4L905.7 45.5L906.0 45.7L906.3 45.9L906.6 46.1L906.9 46.3L907.1 46.5L907.3 46.7L907.6 47.0L907.8 47.3L908.0 47.7L908.2 48.1L908.4 48.4L908.5 48.8L908.7 49.2L908.9 49.6L909.0 50.0L909.2 50.4L909.3 50.8L909.5 51.2L909.6 51.6L909.8 51.9L909.9 52.3L910.0 52.7L910.1 53.0L910.3 53.4L910.4 53.8L910.5 54.2L910.6 54.5L910.7 54.9L910.8 55.3L910.9 55.7L911.0 56.1L911.1 56.5L911.2 56.9L911.3 57.2L911.4 57.6L911.5 58.0L911.6 58.4L911.7 58.8L911.7 59.2L911.8 59.6L911.9 60.0L912.0 60.4L912.1 60.7L912.2 61.1L912.3 61.5L912.4 61.9L912.5 62.3L912.6 62.7L912.7 63.1L912.8 63.4L912.9 63.8L913.0 64.2L913.1 64.6L913.2 65.0L913.3 65.3L913.5 65.7L913.6 66.1L913.7 66.5L913.8 66.9L913.9 67.3L914.0 67.6L914.1 68.0L914.2 68.4L914.3 68.8L914.4 69.2L914.5 69.6L914.6 69.9L914.7 70.3L914.8 70.7L914.9 71.1L915.0 71.5L915.1 71.8L915.2 72.2L915.3 72.6L915.5 73.0L915.6 73.4L915.7 73.8L915.8 74.1L915.9 74.5L916.0 74.9L916.1 75.3L916.2 75.7L916.3 76.1L916.4 76.4L916.5 76.8L916.6 77.2L916.7 77.6L916.8 78.0L916.9 78.4L917.0 78.7L917.1 79.1L917.2 79.5L917.3 79.9L917.5 80.3L917.6 80.6L917.7 81.0L917.8 81.4L917.9 81.8L918.0 82.2L918.1 82.6L918.2 82.9L918.3 83.3L918.4 83.7L918.5 84.1L918.6 84.5L918.7 84.9L918.8 85.2L918.9 85.6L919.0 86.0L919.1 86.4L919.2 86.8L919.3 87.2L919.4 87.5L919.5 87.9L919.6 88.3L919.7 88.7L919.8 89.1L919.9 89.5L920.0 89.8L920.1 90.2L920.2 90.6L920.3 91.0L920.4 91.4L920.5 91.8L920.6 92.1L920.7 92.5L920.8 92.9L920.9 93.3L921.0 93.7L921.1 94.1L921.2 94.5L921.3 94.8L921.4 95.2L921.5 95.6L921.6 96.0L921.7 96.4L921.8 96.8L921.9 97.1L922.0 97.5L922.1 97.9L922.2 98.3L922.3 98.7L922.4 99.1L922.5 99.4L922.6 99.8L922.7 100.2L922.8 100.6L922.9 101.0L923.0 101.4L923.1 101.8L923.2 102.1L923.3 102.5L923.4 102.9L923.5 103.3L923.6 103.7L923.7 104.1L923.8 104.4L923.9 104.8L924.0 105.2L924.1 105.6L924.2 106.0L924.3 106.4L924.4 106.7L924.5 107.1L924.6 107.5L924.7 107.9L924.8 108.3L924.9 108.7L925.0 109.0L925.1 109.4L925.2 109.8L925.3 110.2L925.4 110.6L925.5 111.0" fill="none" stroke="#000" stroke-width="2.3" stroke-dasharray="8.9 9.1" stroke-dashoffset="11.94" stroke-linecap="butt" stroke-linejoin="round"/>
<path d="M925.5 111.0L925.6 111.3L925.7 111.7L925.8 112.1L925.9 112.5L926.0 112.9L926.1 113.3L926.2 113.6L926.3 114.0L926.4 114.4L926.5 114.8L926.6 115.2L926.7 115.6L926.8 115.9L926.9 116.3L927.0 116.7L927.1 117.1L927.3 117.5L927.4 117.9L927.5 118.2L927.6 118.6L927.7 119.0L927.8 119.4L927.9 119.8L928.0 120.2L928.1 120.5L928.2 120.9L928.3 121.3L928.4 121.7L928.5 122.1L928.6 122.4L928.7 122.8L928.8 123.2L929.0 123.6L929.1 124.0L929.2 124.4L929.3 124.7L929.4 125.1L929.5 125.5L929.6 125.9L929.7 126.3L929.8 126.7L929.9 127.0L930.0 127.4L930.1 127.8L930.2 128.2L930.3 128.6L930.4 128.9L930.5 129.3L930.7 129.7L930.8 130.1L930.9 130.5L931.0 130.9L931.1 131.2L931.2 131.6L931.3 132.0L931.4 132.4L931.5 132.8L931.6 133.2L931.7 133.5L931.8 133.9L931.9 134.3L932.0 134.7L932.1 135.1L932.2 135.5L932.3 135.8L932.4 136.2L932.5 136.6L932.6 137.0L932.7 137.4L932.8 137.8L932.9 138.1L933.0 138.5L933.1 138.9L933.2 139.3L933.3 139.7L933.4 140.1L933.5 140.4L933.6 140.8L933.7 141.2L933.8 141.6L933.9 142.0L934.0 142.4L934.1 142.7L934.2 143.1L934.3 143.5L934.4 143.9L934.5 144.3L934.6 144.7L934.7 145.1L934.8 145.4L934.9 145.8L935.0 146.2L935.1 146.6L935.2 147.0L935.3 147.4L935.3 147.7L935.4 148.1L935.5 148.5L935.6 148.9L935.7 149.3L935.8 149.7L935.9 150.1L936.0 150.4L936.1 150.8L936.2 151.2L936.3 151.6L936.4 152.0L936.5 152.4L936.6 152.8L936.7 153.2L936.7 153.5L936.8 153.9L936.9 154.3L937.0 154.7L937.1 155.1L937.2 155.5L937.3 155.9L937.4 156.2L937.5 156.6L937.6 157.0L937.7 157.4L937.8 157.8L937.9 158.2L937.9 158.6L938.0 158.9L938.1 159.3L938.2 159.7L938.3 160.1L938.4 160.5L938.5 160.9L938.6 161.3L938.7 161.7L938.7 162.0L938.8 162.4L938.9 162.8L939.0 163.2L939.1 163.6L939.2 164.0L939.3 164.4L939.3 164.8L939.4 165.1L939.5 165.5L939.6 165.9L939.7 166.3L939.7 166.7L939.8 167.1L939.9 167.5L940.0 167.9L940.1 168.3L940.1 168.6L940.2 169.0L940.3 169.4L940.4 169.8L940.5 170.2L940.5 170.6L940.6 171.0L940.7 171.4L940.8 171.8L940.8 172.1L940.9 172.5L941.0 172.9L941.0 173.3L941.1 173.7L941.2 174.1L941.2 174.5L941.3 174.9L941.4 175.3L941.4 175.7L941.5 176.0L941.6 176.4L941.6 176.8L941.7 177.2L941.8 177.6L941.8 178.0L941.9 178.4L941.9 178.8L942.0 179.2L942.0 179.6L942.1 180.0L942.1 180.4L942.2 180.8L942.2 181.1L942.3 181.5L942.3 181.9L942.4 182.3L942.4 182.7L942.5 183.1L942.5 183.5L942.6 183.9L942.6 184.3L942.7 184.7L942.7 185.1L942.8 185.5L942.8 185.9L942.9 186.3L942.9 186.7L943.0 187.1L943.0 187.5L943.1 187.9L943.1 188.2L943.2 188.6L943.2 189.0L943.2 189.4L943.3 189.8L943.3 190.2L943.4 190.6L943.5 191.0L943.5 191.4L943.6 191.8L943.6 192.2L943.7 192.6L943.7 193.0L943.8 193.4L943.8 193.8L943.9 194.1L944.0 194.5L944.0 194.9L944.1 195.3L944.1 195.7L944.2 196.1L944.3 196.5L944.4 196.9L944.4 197.3L944.5 197.7L944.6 198.0L944.7 198.4L944.7 198.8L944.8 199.2L944.9 199.6L945.0 200.0L945.1 200.4L945.2 200.8L945.2 201.1L945.3 201.5L945.4 201.9L945.5 202.3L945.6 202.7L945.7 203.1L945.8 203.5L945.9 203.8L946.0 204.2L946.1 204.6L946.2 205.0L946.3 205.4L946.4 205.8L946.5 206.2L946.6 206.5L946.6 206.9L946.7 207.3L946.8 207.7L946.9 208.1L947.0 208.5L947.1 208.9L947.2 209.2L947.3 209.6L947.4 210.0L947.5 210.4L947.6 210.8L947.7 211.2L947.8 211.6L947.9 211.9L948.0 212.3L948.0 212.7L948.1 213.1L948.2 213.5L948.3 213.9L948.4 214.3L948.5 214.7L948.6 215.0L948.6 215.4L948.7 215.8L948.8 216.2L948.9 216.6L949.0 217.0L949.0 217.4L949.1 217.8L949.2 218.2L949.3 218.5L949.4 218.9L949.4 219.3L949.5 219.7L949.6 220.1L949.7 220.5L949.8 220.9L949.8 221.3L949.9 221.6L950.0 222.0L950.1 222.4L950.2 222.8L950.3 223.2L950.4 223.6L950.5 224.0L950.6 224.3L950.7 224.7L950.8 225.1L950.9 225.5L951.0 225.9L951.1 226.3L951.2 226.6L951.3 227.0L951.4 227.4L951.5 227.8L951.6 228.2L951.7 228.6L951.8 228.9L951.9 229.3L952.0 229.7L952.1 230.1L952.2 230.5L952.3 230.9L952.4 231.2L952.5 231.6L952.6 232.0L952.7 232.4L952.8 232.8L952.9 233.2L953.1 233.5L953.2 233.9L953.3 234.3L953.4 234.7L953.5 235.1L953.6 235.5L953.7 235.8L953.8 236.2L953.9 236.6L954.0 237.0L954.1 237.4L954.2 237.8L954.3 238.1L954.4 238.5L954.5 238.9L954.6 239.3L954.7 239.7L954.9 240.0L955.0 240.4L955.1 240.8L955.2 241.2L955.3 241.6L955.4 242.0L955.5 242.4L955.6 242.8L955.7 243.2L955.8 243.5L955.9 243.9L956.0 244.3L956.1 244.7L956.2 245.1L956.3 245.5L956.4 245.9L956.6 246.3L956.7 246.6L956.8 247.0L956.9 247.4L957.1 247.7L957.2 248.1L957.4 248.4L957.5 248.8L957.7 249.1L957.9 249.5L958.1 249.9L958.3 250.3L958.5 250.7L958.8 251.1L959.1 251.4L959.3 251.8L959.6 252.1L959.9 252.4L960.2 252.6L960.5 252.8L960.8 252.9L961.1 252.9L961.5 252.9L961.9 252.9L962.3 252.9L962.8 252.9L963.2 252.9L963.7 252.9L964.1 252.9L964.5 252.9L964.8 252.9L965.1 252.9L965.4 252.9L965.6 252.8L965.9 252.7L966.1 252.5L966.3 252.2L966.5 251.9L966.7 251.6L966.9 251.2L967.1 250.9L967.3 250.4L967.4 250.0L967.6 249.5L967.8 249.1L967.9 248.6L968.1 248.2L968.2 247.7L968.4 247.2L968.5 246.8L968.7 246.4L968.8 246.0L969.0 245.6L969.2 245.2L969.3 244.9L969.5 244.5L969.6 244.1L969.8 243.8L969.9 243.4L970.1 243.0L970.2 242.7L970.4 242.3L970.5 241.9L970.7 241.6L970.8 241.2L971.0 240.8L971.1 240.4L971.3 240.1L971.4 239.7L971.5 239.3L971.7 239.0L971.8 238.6L971.9 238.2L972.1 237.8L972.2 237.4L972.3 237.1L972.5 236.7L972.6 236.3L972.7 235.9L972.8 235.6L972.9 235.2L973.0 234.8L973.1 234.4L973.2 234.0L973.3 233.7L973.4 233.3L973.5 232.9L973.6 232.5L973.7 232.1L973.8 231.7L973.9 231.4L974.0 231.0L974.1 230.6L974.1 230.2L974.2 229.8L974.3 229.4L974.4 229.0L974.5 228.6L974.6 228.2L974.6 227.8L974.7 227.5L974.8 227.1L974.9 226.7L975.0 226.3L975.0 225.9L975.1 225.5L975.2 225.1L975.3 224.7L975.4 224.4L975.5 224.0L975.6 223.6L975.7 223.2L975.8 222.8L975.9 222.4L976.0 222.1L976.1 221.7L976.2 221.3L976.3 220.9L976.4 220.5L976.6 220.2L976.7 219.8L976.8 219.4L976.9 219.0L977.1 218.7L977.2 218.3L977.3 217.9L977.5 217.5L977.6 217.2L977.8 216.8L977.9 216.4L978.0 216.0L978.2 215.7L978.3 215.3L978.4 214.9L978.6 214.6L978.7 214.2L978.9 213.8L979.0 213.4L979.1 213.1L979.3 212.7L979.4 212.3L979.5 211.9L979.6 211.6L979.8 211.2L979.9 210.8L980.0 210.4L980.2 210.1L980.3 209.7L980.4 209.3L980.6 208.9L980.7 208.6L980.8 208.2L981.0 207.8L981.1 207.4L981.2 207.1L981.3 206.7L981.5 206.3L981.6 205.9L981.7 205.6L981.9 205.2L982.0 204.8L982.1 204.4L982.3 204.1L982.4 203.7L982.5 203.3L982.7 202.9L982.8 202.6L982.9 202.2L983.1 201.8L983.2 201.5L983.3 201.1L983.5 200.7L983.6 200.3L983.7 200.0L983.9 199.6L984.0 199.2L984.1 198.8L984.3 198.5L984.4 198.1L984.6 197.7L984.7 197.4L984.8 197.0L985.0 196.6L985.1 196.2L985.3 195.9L985.4 195.5L985.6 195.1L985.7 194.8L985.8 194.4L986.0 194.0L986.1 193.7L986.3 193.3L986.4 192.9L986.6 192.6L986.7 192.2L986.9 191.8L987.0 191.5L987.2 191.1L987.3 190.7L987.5 190.4L987.6 190.0L987.8 189.6L987.9 189.3L988.1 188.9L988.2 188.5L988.4 188.2L988.6 187.8L988.7 187.4L988.9 187.1L989.0 186.7L989.2 186.3L989.3 186.0L989.5 185.6L989.7 185.2L989.8 184.9L990.0 184.5L990.2 184.2L990.3 183.8L990.5 183.4L990.6 183.1L990.8 182.7L991.0 182.3L991.1 182.0L991.3 181.6L991.5 181.3L991.6 180.9L991.8 180.5L992.0 180.2L992.1 179.8L992.3 179.5L992.5 179.1L992.7 178.8L992.8 178.4L993.0 178.0L993.2 177.7L993.3 177.3L993.5 177.0L993.7 176.6L993.9 176.3L994.0 175.9L994.2 175.6L994.4 175.2L994.6 174.8L994.8 174.5L994.9 174.1L995.1 173.8L995.3 173.4L995.5 173.1L995.7 172.7L995.8 172.4L996.0 172.0L996.2 171.7L996.4 171.3L996.6 171.0L996.8 170.6L997.0 170.3L997.1 169.9L997.3 169.6L997.5 169.2L997.7 168.9L997.9 168.5L998.1 168.2L998.3 167.8L998.5 167.5L998.7 167.1L998.9 166.8L999.1 166.4L999.3 166.1L999.5 165.7L999.7 165.4L999.9 165.1L1000.1 164.7L1000.3 164.4L1000.5 164.0L1000.7 163.7L1000.9 163.4L1001.1 163.0L1001.3 162.7L1001.5 162.4L1001.8 162.0L1002.0 161.7L1002.2 161.4L1002.4 161.0L1002.6 160.7L1002.9 160.4L1003.1 160.1L1003.3 159.8L1003.6 159.4L1003.8 159.1L1004.1 158.8L1004.3 158.5L1004.6 158.2L1004.8 157.9L1005.1 157.6L1005.3 157.3L1005.6 157.0L1005.8 156.7L1006.1 156.4L1006.4 156.1L1006.6 155.7L1006.9 155.4L1007.1 155.1L1007.4 154.8L1007.6 154.5L1007.8 154.2L1008.1 153.9L1008.3 153.5L1008.5 153.2L1008.7 152.9L1008.9 152.5L1009.1 152.2L1009.3 151.9L1009.5 151.5L1009.7 151.2L1009.9 150.9L1010.1 150.5L1010.3 150.2L1010.5 149.8L1010.7 149.5L1010.9 149.1L1011.1 148.8L1011.3 148.4L1011.5 148.1L1011.6 147.7L1011.8 147.4L1012.0 147.0L1012.2 146.7L1012.4 146.3L1012.6 145.9L1012.7 145.6L1012.9 145.2L1013.1 144.9L1013.3 144.5L1013.4 144.2L1013.6 143.8L1013.8 143.4L1014.0 143.1L1014.1 142.7L1014.3 142.4L1014.5 142.0L1014.7 141.7L1014.8 141.3L1015.0 141.0L1015.2 140.6L1015.4 140.2L1015.5 139.9L1015.7 139.5L1015.9 139.2L1016.0 138.8L1016.2 138.4L1016.4 138.1L1016.5 137.7L1016.7 137.4L1016.9 137.0L1017.0 136.7L1017.2 136.3L1017.4 135.9L1017.5 135.6L1017.7 135.2L1017.9 134.8L1018.0 134.5L1018.2 134.1L1018.3 133.8L1018.5 133.4L1018.7 133.0L1018.8 132.7L1019.0 132.3L1019.1 131.9L1019.3 131.6L1019.4 131.2L1019.6 130.8L1019.7 130.5L1019.9 130.1" fill="none" stroke="#000" stroke-width="2.3" stroke-dasharray="8.9 9.1" stroke-dashoffset="2.22" stroke-linecap="butt" stroke-linejoin="round"/>
<rect x="341.0" y="376.4" width="428.5" height="343.7" fill="none" stroke="#1c1c1c" stroke-width="1.00"/>
<line x1="371.9" y1="720.1" x2="371.9" y2="727.7" stroke="#1c1c1c" stroke-width="1.00"/>
<text x="371.9" y="746.7" font-size="17.8" text-anchor="middle">1940</text>
<line x1="448.3" y1="720.1" x2="448.3" y2="727.7" stroke="#1c1c1c" stroke-width="1.00"/>
<text x="448.3" y="746.7" font-size="17.8" text-anchor="middle">1945</text>
<line x1="524.7" y1="720.1" x2="524.7" y2="727.7" stroke="#1c1c1c" stroke-width="1.00"/>
<text x="524.7" y="746.7" font-size="17.8" text-anchor="middle">1950</text>
<line x1="601.0" y1="720.1" x2="601.0" y2="727.7" stroke="#1c1c1c" stroke-width="1.00"/>
<text x="601.0" y="746.7" font-size="17.8" text-anchor="middle">1955</text>
<line x1="677.4" y1="720.1" x2="677.4" y2="727.7" stroke="#1c1c1c" stroke-width="1.00"/>
<text x="677.4" y="746.7" font-size="17.8" text-anchor="middle">1960</text>
<line x1="753.8" y1="720.1" x2="753.8" y2="727.7" stroke="#1c1c1c" stroke-width="1.00"/>
<text x="753.8" y="746.7" font-size="17.8" text-anchor="middle">1965</text>
<line x1="333.4" y1="713.5" x2="341.0" y2="713.5" stroke="#1c1c1c" stroke-width="1.00"/>
<text transform="translate(323.7 713.5) rotate(-90)" font-size="17.8" text-anchor="middle">5.5</text>
<line x1="333.4" y1="664.5" x2="341.0" y2="664.5" stroke="#1c1c1c" stroke-width="1.00"/>
<text transform="translate(323.7 664.5) rotate(-90)" font-size="17.8" text-anchor="middle">6.0</text>
<line x1="333.4" y1="615.5" x2="341.0" y2="615.5" stroke="#1c1c1c" stroke-width="1.00"/>
<text transform="translate(323.7 615.5) rotate(-90)" font-size="17.8" text-anchor="middle">6.5</text>
<line x1="333.4" y1="566.6" x2="341.0" y2="566.6" stroke="#1c1c1c" stroke-width="1.00"/>
<text transform="translate(323.7 566.6) rotate(-90)" font-size="17.8" text-anchor="middle">7.0</text>
<line x1="333.4" y1="517.6" x2="341.0" y2="517.6" stroke="#1c1c1c" stroke-width="1.00"/>
<text transform="translate(323.7 517.6) rotate(-90)" font-size="17.8" text-anchor="middle">7.5</text>
<line x1="333.4" y1="468.6" x2="341.0" y2="468.6" stroke="#1c1c1c" stroke-width="1.00"/>
<text transform="translate(323.7 468.6) rotate(-90)" font-size="17.8" text-anchor="middle">8.0</text>
<line x1="333.4" y1="419.6" x2="341.0" y2="419.6" stroke="#1c1c1c" stroke-width="1.00"/>
<text transform="translate(323.7 419.6) rotate(-90)" font-size="17.8" text-anchor="middle">8.5</text>
<text x="555.3" y="776.0" font-size="24.2" text-anchor="middle">Year</text>
<g transform="translate(288.70 585.30) rotate(-90)">
<text x="0" y="0" font-size="24.2">log</text>
<text x="32.29" y="0" font-size="24.2">β</text>
<text transform="translate(45.59 -0.50) scale(0.900 1)" font-size="30.0">(</text>
<text x="55.58" y="0" font-size="24.2">t</text>
<text transform="translate(64.01 -0.50) scale(0.900 1)" font-size="30.0">)</text>
</g>
<path d="M356.62 466.15L356.68 465.91L356.74 465.66L356.80 465.43L356.86 465.23L356.92 465.07L356.98 464.94L357.04 464.86L357.09 464.81L357.15 464.81L357.21 464.84L357.27 464.91L357.33 465.01L357.39 465.15L357.45 465.31L357.51 465.51L357.56 465.73L357.62 465.98L357.68 466.25L357.74 466.55L357.80 466.87L357.86 467.20L357.92 467.56L357.98 467.93L358.03 468.31L358.09 468.71L358.15 469.12L358.21 469.54L358.27 469.96L358.33 470.39L358.39 470.83L358.45 471.27L358.50 471.71L358.56 472.16L358.62 472.59L358.68 473.03L358.74 473.46L358.80 473.89L358.86 474.30L358.92 474.71L358.97 475.10L359.03 475.48L359.09 475.85L359.15 476.20L359.21 476.53L359.27 476.84L359.33 477.13L359.39 477.40L359.44 477.64L359.50 477.85L359.56 478.04L359.62 478.20L359.68 478.33L359.74 478.42L359.80 478.48L359.86 478.50L359.91 478.49L359.97 478.43L360.03 478.33L360.09 478.17L360.15 477.98L360.21 477.75L360.27 477.48L360.33 477.18L360.38 476.84L360.44 476.48L360.50 476.09L360.56 475.68L360.62 475.25L360.68 474.81L360.74 474.34L360.80 473.87L360.85 473.39L360.91 472.90L360.97 472.41L361.03 471.92L361.09 471.43L361.15 470.95L361.21 470.47L361.27 470.01L361.32 469.56L361.38 469.13L361.44 468.71L361.50 468.32L361.56 467.95L361.62 467.61L361.68 467.30L361.74 467.03L361.79 466.79L361.85 466.59L361.91 466.43L361.97 466.32L362.03 466.25L362.09 466.25L362.15 466.31L362.21 466.44L362.26 466.63L362.32 466.86L362.38 467.14L362.44 467.46L362.50 467.80L362.56 468.17L362.62 468.67L362.68 469.29L362.73 470.03L362.79 470.86L362.85 471.77L362.91 472.75L362.97 473.78L363.03 474.84L363.09 475.91L363.15 476.99L363.20 478.13L363.26 479.41L363.32 480.81L363.38 482.29L363.44 483.83L363.50 485.41L363.56 487.01L363.62 488.62L363.67 490.19L363.73 491.71L363.79 493.15L363.85 494.48L363.91 495.68L363.97 496.81L364.03 497.93L364.09 499.03L364.14 500.10L364.20 501.13L364.26 502.09L364.32 502.98L364.38 503.78L364.44 504.47L364.50 505.05L364.56 505.52L364.61 505.96L364.67 506.36L364.73 506.72L364.79 507.00L364.85 507.20L364.91 507.30L364.97 507.29L365.03 507.21L365.08 507.06L365.14 506.86L365.20 506.62L365.26 506.34L365.32 506.04L365.38 505.72L365.44 505.39L365.50 505.02L365.55 504.55L365.61 503.99L365.67 503.36L365.73 502.67L365.79 501.93L365.85 501.14L365.91 500.32L365.97 499.48L366.02 498.63L366.08 497.77L366.14 496.93L366.20 496.10L366.26 495.26L366.32 494.38L366.38 493.46L366.44 492.50L366.49 491.52L366.55 490.52L366.61 489.51L366.67 488.49L366.73 487.48L366.79 486.47L366.85 485.47L366.91 484.50L366.96 483.56L367.02 482.65L367.08 481.78L367.14 480.95L367.20 480.12L367.26 479.27L367.32 478.43L367.38 477.59L367.43 476.76L367.49 475.96L367.55 475.19L367.61 474.46L367.67 473.78L367.73 473.16L367.79 472.60L367.85 472.12L367.90 471.72L367.96 471.24L368.02 469.66L368.08 467.02L368.14 463.78L368.20 460.37L368.26 457.22L368.32 454.76L368.37 452.74L368.43 450.80L368.49 448.96L368.55 447.21L368.61 445.56L368.67 444.68L368.73 444.91L368.79 445.17L368.84 445.44L368.90 445.73L368.96 446.04L369.02 446.36L369.08 446.70L369.14 447.06L369.20 447.43L369.26 447.82L369.31 448.22L369.37 448.63L369.43 449.06L369.49 449.57L369.55 450.17L369.61 450.83L369.67 451.56L369.73 452.34L369.78 453.16L369.84 454.00L369.90 454.86L369.96 455.72L370.02 456.58L370.08 457.41L370.14 458.21L370.20 458.97L370.25 459.67L370.31 460.31L370.37 460.86L370.43 461.33L370.49 461.69L370.55 461.95L370.61 462.07L370.67 462.07L370.72 462.00L370.78 461.89L370.84 461.74L370.90 461.56L370.96 461.34L371.02 461.10L371.08 460.84L371.14 460.55L371.19 460.24L371.25 459.92L371.31 459.58L371.37 459.24L371.43 458.89L371.49 458.53L371.55 458.18L371.61 457.83L371.66 457.48L371.72 457.14L371.78 456.82L371.84 456.51L371.90 456.22L371.96 455.95L372.02 455.71L372.08 455.49L372.14 455.30L372.19 455.15L372.25 455.03L372.31 454.96L372.37 454.92L372.43 454.93L372.49 454.97L372.55 455.04L372.61 455.15L372.66 455.30L372.72 455.47L372.78 455.67L372.84 455.90L372.90 456.16L372.96 456.44L373.02 456.74L373.08 457.06L373.13 457.40L373.19 457.76L373.25 458.13L373.31 458.52L373.37 458.92L373.43 459.33L373.49 459.75L373.55 460.18L373.60 460.61L373.66 461.05L373.72 461.49L373.78 461.93L373.84 462.38L373.90 462.82L373.96 463.25L374.02 463.68L374.07 464.10L374.13 464.52L374.19 464.92L374.25 465.32L374.31 465.70L374.37 466.06L374.43 466.41L374.49 466.74L374.54 467.05L374.60 467.34L374.66 467.61L374.72 467.85L374.78 468.06L374.84 468.25L374.90 468.41L374.96 468.54L375.01 468.64L375.07 468.70L375.13 468.72L375.19 468.71L375.25 468.66L375.31 468.56L375.37 468.42L375.43 468.23L375.48 468.01L375.54 467.75L375.60 467.46L375.66 467.14L375.72 466.79L375.78 466.41L375.84 466.02L375.90 465.60L375.95 465.17L376.01 464.73L376.07 464.27L376.13 463.80L376.19 463.34L376.25 462.86L376.31 462.39L376.37 461.92L376.42 461.46L376.48 461.00L376.54 460.56L376.60 460.12L376.66 459.71L376.72 459.31L376.78 458.94L376.84 458.59L376.89 458.27L376.95 457.97L377.01 457.71L377.07 457.49L377.13 457.30L377.19 457.15L377.25 457.05L377.31 456.99L377.36 456.99L377.42 457.06L377.48 457.18L377.54 457.36L377.60 457.58L377.66 457.85L377.72 458.14L377.78 458.46L377.83 458.81L377.89 459.27L377.95 459.85L378.01 460.53L378.07 461.29L378.13 462.13L378.19 463.03L378.25 463.96L378.30 464.93L378.36 465.91L378.42 466.89L378.48 467.93L378.54 469.10L378.60 470.36L378.66 471.70L378.72 473.09L378.77 474.52L378.83 475.96L378.89 477.41L378.95 478.82L379.01 480.19L379.07 481.49L379.13 482.68L379.19 483.76L379.24 484.77L379.30 485.77L379.36 486.76L379.42 487.72L379.48 488.64L379.54 489.50L379.60 490.29L379.66 491.00L379.71 491.61L379.77 492.12L379.83 492.53L379.89 492.92L379.95 493.27L380.01 493.58L380.07 493.83L380.13 494.00L380.18 494.08L380.24 494.07L380.30 494.00L380.36 493.88L380.42 493.70L380.48 493.49L380.54 493.25L380.60 492.98L380.65 492.70L380.71 492.41L380.77 492.07L380.83 491.66L380.89 491.17L380.95 490.61L381.01 490.00L381.07 489.33L381.12 488.64L381.18 487.91L381.24 487.16L381.30 486.41L381.36 485.65L381.42 484.90L381.48 484.17L381.54 483.42L381.59 482.64L381.65 481.82L381.71 480.98L381.77 480.11L381.83 479.22L381.89 478.32L381.95 477.42L382.01 476.52L382.06 475.63L382.12 474.75L382.18 473.89L382.24 473.05L382.30 472.25L382.36 471.48L382.42 470.74L382.48 470.01L382.53 469.26L382.59 468.51L382.65 467.77L382.71 467.04L382.77 466.33L382.83 465.65L382.89 465.00L382.95 464.40L383.00 463.86L383.06 463.37L383.12 462.95L383.18 462.59L383.24 462.16L383.30 460.70L383.36 458.24L383.42 455.21L383.47 452.02L383.53 449.07L383.59 446.77L383.65 444.87L383.71 443.06L383.77 441.33L383.83 439.69L383.89 438.15L383.94 437.33L384.00 437.55L384.06 437.80L384.12 438.06L384.18 438.34L384.24 438.64L384.30 438.95L384.36 439.28L384.41 439.62L384.47 439.97L384.53 440.34L384.59 440.72L384.65 441.11L384.71 441.52L384.77 442.01L384.83 442.57L384.88 443.20L384.94 443.89L385.00 444.63L385.06 445.40L385.12 446.20L385.18 447.01L385.24 447.82L385.30 448.63L385.35 449.42L385.41 450.17L385.47 450.89L385.53 451.55L385.59 452.15L385.65 452.68L385.71 453.13L385.77 453.47L385.82 453.72L385.88 453.84L385.94 453.84L386.00 453.78L386.06 453.68L386.12 453.55L386.18 453.38L386.24 453.18L386.29 452.96L386.35 452.72L386.41 452.45L386.47 452.17L386.53 451.87L386.59 451.56L386.65 451.24L386.71 450.91L386.76 450.59L386.82 450.26L386.88 449.93L386.94 449.61L387.00 449.30L387.06 449.00L387.12 448.71L387.18 448.45L387.23 448.20L387.29 447.97L387.35 447.77L387.41 447.60L387.47 447.46L387.53 447.35L387.59 447.28L387.65 447.26L387.70 447.26L387.76 447.31L387.82 447.38L387.88 447.49L387.94 447.63L388.00 447.80L388.06 447.99L388.12 448.21L388.17 448.46L388.23 448.73L388.29 449.01L388.35 449.32L388.41 449.65L388.47 449.99L388.53 450.35L388.59 450.72L388.64 451.10L388.70 451.49L388.76 451.90L388.82 452.31L388.88 452.72L388.94 453.14L389.00 453.56L389.06 453.99L389.11 454.41L389.17 454.83L389.23 455.25L389.29 455.66L389.35 456.07L389.41 456.47L389.47 456.86L389.53 457.24L389.58 457.60L389.64 457.96L389.70 458.29L389.76 458.61L389.82 458.91L389.88 459.19L389.94 459.45L390.00 459.69L390.05 459.90L390.11 460.09L390.17 460.24L390.23 460.37L390.29 460.47L390.35 460.54L390.41 460.57L390.47 460.57L390.52 460.52L390.58 460.43L390.64 460.30L390.70 460.13L390.76 459.93L390.82 459.69L390.88 459.42L390.94 459.11L390.99 458.79L391.05 458.44L391.11 458.06L391.17 457.67L391.23 457.27L391.29 456.85L391.35 456.41L391.41 455.98L391.47 455.53L391.52 455.08L391.58 454.64L391.64 454.19L391.70 453.75L391.76 453.32L391.82 452.90L391.88 452.49L391.94 452.10L391.99 451.72L392.05 451.37L392.11 451.03L392.17 450.73L392.23 450.45L392.29 450.21L392.35 449.99L392.41 449.82L392.46 449.68L392.52 449.59L392.58 449.53L392.64 449.54L392.70 449.60L392.76 449.71L392.82 449.87L392.88 450.08L392.93 450.31L392.99 450.58L393.05 450.88L393.11 451.20L393.17 451.61L393.23 452.13L393.29 452.73L393.35 453.42L393.40 454.17L393.46 454.96L393.52 455.80L393.58 456.66L393.64 457.54L393.70 458.41L393.76 459.33L393.82 460.37L393.87 461.49L393.93 462.68L393.99 463.91L394.05 465.17L394.11 466.45L394.17 467.73L394.23 468.99L394.29 470.21L394.34 471.36L394.40 472.43L394.46 473.40L394.52 474.30L394.58 475.21L394.64 476.09L394.70 476.96L394.76 477.78L394.81 478.56L394.87 479.28L394.93 479.93L394.99 480.49L395.05 480.96L395.11 481.35L395.17 481.71L395.23 482.04L395.28 482.33L395.34 482.57L395.40 482.73L395.46 482.83L395.52 482.84L395.58 482.80L395.64 482.71L395.70 482.57L395.75 482.40L395.81 482.21L395.87 481.99L395.93 481.76L395.99 481.53L396.05 481.25L396.11 480.91L396.17 480.49L396.22 480.02L396.28 479.49L396.34 478.93L396.40 478.33L396.46 477.71L396.52 477.06L396.58 476.41L396.64 475.76L396.69 475.11L396.75 474.48L396.81 473.83L396.87 473.16L396.93 472.45L396.99 471.71L397.05 470.95L397.11 470.18L397.16 469.40L397.22 468.61L397.28 467.82L397.34 467.04L397.40 466.27L397.46 465.51L397.52 464.78L397.58 464.07L397.63 463.40L397.69 462.76L397.75 462.11L397.81 461.45L397.87 460.79L397.93 460.14L397.99 459.50L398.05 458.87L398.10 458.27L398.16 457.70L398.22 457.17L398.28 456.69L398.34 456.26L398.40 455.89L398.46 455.58L398.52 455.19L398.57 453.78L398.63 451.40L398.69 448.45L398.75 445.33L398.81 442.45L398.87 440.20L398.93 438.34L398.99 436.57L399.04 434.87L399.10 433.27L399.16 431.76L399.22 430.96L399.28 431.20L399.34 431.45L399.40 431.72L399.46 432.00L399.51 432.31L399.57 432.62L399.63 432.96L399.69 433.30L399.75 433.66L399.81 434.04L399.87 434.42L399.93 434.82L399.98 435.24L400.04 435.72L400.10 436.29L400.16 436.93L400.22 437.62L400.28 438.35L400.34 439.13L400.40 439.92L400.45 440.73L400.51 441.55L400.57 442.35L400.63 443.14L400.69 443.89L400.75 444.61L400.81 445.28L400.87 445.88L400.92 446.41L400.98 446.86L401.04 447.22L401.10 447.47L401.16 447.60L401.22 447.61L401.28 447.57L401.34 447.48L401.39 447.36L401.45 447.21L401.51 447.03L401.57 446.83L401.63 446.60L401.69 446.35L401.75 446.09L401.81 445.81L401.86 445.52L401.92 445.22L401.98 444.92L402.04 444.61L402.10 444.30L402.16 443.99L402.22 443.69L402.28 443.40L402.33 443.12L402.39 442.86L402.45 442.61L402.51 442.38L402.57 442.17L402.63 441.99L402.69 441.84L402.75 441.72L402.80 441.63L402.86 441.57L402.92 441.56L402.98 441.58L403.04 441.64L403.10 441.73L403.16 441.85L403.22 442.00L403.27 442.18L403.33 442.39L403.39 442.62L403.45 442.87L403.51 443.15L403.57 443.45L403.63 443.76L403.69 444.10L403.74 444.45L403.80 444.81L403.86 445.19L403.92 445.58L403.98 445.98L404.04 446.38L404.10 446.80L404.16 447.22L404.21 447.64L404.27 448.07L404.33 448.50L404.39 448.93L404.45 449.35L404.51 449.78L404.57 450.19L404.63 450.60L404.68 451.01L404.74 451.40L404.80 451.79L404.86 452.16L404.92 452.51L404.98 452.86L405.04 453.18L405.10 453.49L405.15 453.78L405.21 454.04L405.27 454.29L405.33 454.51L405.39 454.70L405.45 454.87L405.51 455.01L405.57 455.12L405.62 455.20L405.68 455.24L405.74 455.25L405.80 455.23L405.86 455.16L405.92 455.04L405.98 454.89L406.04 454.71L406.09 454.49L406.15 454.24L406.21 453.96L406.27 453.66L406.33 453.33L406.39 452.99L406.45 452.62L406.51 452.24L406.56 451.85L406.62 451.45L406.68 451.04L406.74 450.62L406.80 450.21L406.86 449.79L406.92 449.38L406.98 448.97L407.03 448.56L407.09 448.17L407.15 447.79L407.21 447.43L407.27 447.08L407.33 446.76L407.39 446.45L407.45 446.18L407.50 445.93L407.56 445.71L407.62 445.52L407.68 445.37L407.74 445.26L407.80 445.18L407.86 445.15L407.92 445.17L407.97 445.25L408.03 445.38L408.09 445.56L408.15 445.78L408.21 446.03L408.27 446.31L408.33 446.61L408.39 446.94L408.44 447.37L408.50 447.89L408.56 448.51L408.62 449.19L408.68 449.95L408.74 450.75L408.80 451.59L408.86 452.45L408.91 453.33L408.97 454.20L409.03 455.13L409.09 456.17L409.15 457.29L409.21 458.48L409.27 459.71L409.33 460.97L409.38 462.25L409.44 463.53L409.50 464.79L409.56 466.01L409.62 467.17L409.68 468.24L409.74 469.21L409.80 470.13L409.85 471.04L409.91 471.94L409.97 472.81L410.03 473.65L410.09 474.44L410.15 475.17L410.21 475.84L410.27 476.42L410.33 476.91L410.38 477.31L410.44 477.69L410.50 478.04L410.56 478.36L410.62 478.61L410.68 478.81L410.74 478.92L410.80 478.96L410.85 478.95L410.91 478.88L410.97 478.78L411.03 478.64L411.09 478.47L411.15 478.29L411.21 478.09L411.27 477.88L411.32 477.64L411.38 477.32L411.44 476.94L411.50 476.50L411.56 476.01L411.62 475.48L411.68 474.92L411.74 474.33L411.79 473.72L411.85 473.10L411.91 472.48L411.97 471.87L412.03 471.27L412.09 470.67L412.15 470.02L412.21 469.35L412.26 468.65L412.32 467.92L412.38 467.19L412.44 466.44L412.50 465.69L412.56 464.94L412.62 464.19L412.68 463.45L412.73 462.73L412.79 462.03L412.85 461.36L412.91 460.72L412.97 460.11L413.03 459.49L413.09 458.87L413.15 458.24L413.20 457.62L413.26 457.01L413.32 456.41L413.38 455.84L413.44 455.31L413.50 454.81L413.56 454.35L413.62 453.95L413.67 453.61L413.73 453.33L413.79 452.98L413.85 451.64L413.91 449.37L413.97 446.56L414.03 443.59L414.09 440.84L414.14 438.71L414.20 436.95L414.26 435.27L414.32 433.67L414.38 432.16L414.44 430.73L414.50 429.99L414.56 430.24L414.61 430.50L414.67 430.78L414.73 431.08L414.79 431.39L414.85 431.72L414.91 432.06L414.97 432.41L415.03 432.78L415.08 433.16L415.14 433.56L415.20 433.96L415.26 434.38L415.32 434.87L415.38 435.44L415.44 436.07L415.50 436.76L415.55 437.49L415.61 438.25L415.67 439.04L415.73 439.84L415.79 440.65L415.85 441.44L415.91 442.22L415.97 442.97L416.02 443.68L416.08 444.35L416.14 444.95L416.20 445.48L416.26 445.94L416.32 446.30L416.38 446.56L416.44 446.72L416.49 446.75L416.55 446.73L416.61 446.67L416.67 446.57L416.73 446.45L416.79 446.30L416.85 446.12L416.91 445.92L416.96 445.71L417.02 445.47L417.08 445.22L417.14 444.96L417.20 444.69L417.26 444.42L417.32 444.14L417.38 443.86L417.43 443.58L417.49 443.31L417.55 443.05L417.61 442.80L417.67 442.56L417.73 442.34L417.79 442.13L417.85 441.95L417.90 441.80L417.96 441.67L418.02 441.57L418.08 441.50L418.14 441.47L418.20 441.48L418.26 441.52L418.32 441.59L418.37 441.70L418.43 441.84L418.49 442.01L418.55 442.20L418.61 442.42L418.67 442.67L418.73 442.94L418.79 443.23L418.84 443.54L418.90 443.87L418.96 444.22L419.02 444.58L419.08 444.96L419.14 445.35L419.20 445.75L419.26 446.17L419.31 446.59L419.37 447.02L419.43 447.45L419.49 447.89L419.55 448.33L419.61 448.78L419.67 449.22L419.73 449.66L419.78 450.10L419.84 450.54L419.90 450.97L419.96 451.39L420.02 451.80L420.08 452.20L420.14 452.60L420.20 452.97L420.25 453.34L420.31 453.69L420.37 454.02L420.43 454.33L420.49 454.62L420.55 454.89L420.61 455.13L420.67 455.35L420.72 455.55L420.78 455.72L420.84 455.85L420.90 455.96L420.96 456.04L421.02 456.08L421.08 456.08L421.14 456.04L421.19 455.97L421.25 455.85L421.31 455.70L421.37 455.51L421.43 455.30L421.49 455.06L421.55 454.79L421.61 454.50L421.66 454.19L421.72 453.86L421.78 453.52L421.84 453.16L421.90 452.80L421.96 452.42L422.02 452.05L422.08 451.66L422.13 451.28L422.19 450.90L422.25 450.53L422.31 450.16L422.37 449.81L422.43 449.46L422.49 449.13L422.55 448.82L422.60 448.53L422.66 448.26L422.72 448.01L422.78 447.79L422.84 447.60L422.90 447.45L422.96 447.33L423.02 447.25L423.07 447.20L423.13 447.20L423.19 447.25L423.25 447.36L423.31 447.53L423.37 447.74L423.43 447.99L423.49 448.28L423.54 448.60L423.60 448.94L423.66 449.31L423.72 449.77L423.78 450.34L423.84 451.00L423.90 451.74L423.96 452.55L424.01 453.41L424.07 454.30L424.13 455.23L424.19 456.17L424.25 457.10L424.31 458.10L424.37 459.20L424.43 460.40L424.48 461.66L424.54 462.97L424.60 464.32L424.66 465.68L424.72 467.05L424.78 468.39L424.84 469.69L424.90 470.93L424.95 472.08L425.01 473.12L425.07 474.11L425.13 475.09L425.19 476.06L425.25 477.01L425.31 477.92L425.37 478.77L425.42 479.57L425.48 480.30L425.54 480.94L425.60 481.48L425.66 481.94L425.72 482.37L425.78 482.78L425.84 483.14L425.89 483.45L425.95 483.68L426.01 483.84L426.07 483.92L426.13 483.94L426.19 483.91L426.25 483.84L426.31 483.73L426.36 483.59L426.42 483.43L426.48 483.26L426.54 483.08L426.60 482.86L426.66 482.56L426.72 482.20L426.78 481.77L426.83 481.29L426.89 480.77L426.95 480.21L427.01 479.63L427.07 479.02L427.13 478.41L427.19 477.79L427.25 477.18L427.30 476.58L427.36 475.97L427.42 475.33L427.48 474.65L427.54 473.94L427.60 473.21L427.66 472.47L427.72 471.71L427.77 470.95L427.83 470.18L427.89 469.42L427.95 468.67L428.01 467.94L428.07 467.23L428.13 466.55L428.19 465.90L428.24 465.28L428.30 464.66L428.36 464.02L428.42 463.39L428.48 462.75L428.54 462.13L428.60 461.53L428.66 460.95L428.71 460.40L428.77 459.90L428.83 459.44L428.89 459.04L428.95 458.71L429.01 458.44L429.07 458.09L429.13 456.74L429.18 454.45L429.24 451.59L429.30 448.58L429.36 445.80L429.42 443.64L429.48 441.88L429.54 440.19L429.60 438.58L429.66 437.06L429.71 435.63L429.77 434.90L429.83 435.18L429.89 435.47L429.95 435.79L430.01 436.11L430.07 436.46L430.13 436.82L430.18 437.19L430.24 437.58L430.30 437.99L430.36 438.40L430.42 438.83L430.48 439.27L430.54 439.73L430.60 440.25L430.65 440.86L430.71 441.53L430.77 442.26L430.83 443.04L430.89 443.85L430.95 444.68L431.01 445.53L431.07 446.38L431.12 447.22L431.18 448.05L431.24 448.84L431.30 449.60L431.36 450.31L431.42 450.95L431.48 451.53L431.54 452.02L431.59 452.42L431.65 452.72L431.71 452.90L431.77 452.97L431.83 452.97L431.89 452.94L431.95 452.87L432.01 452.77L432.06 452.64L432.12 452.49L432.18 452.31L432.24 452.11L432.30 451.90L432.36 451.67L432.42 451.43L432.48 451.18L432.53 450.92L432.59 450.66L432.65 450.40L432.71 450.15L432.77 449.90L432.83 449.65L432.89 449.42L432.95 449.20L433.00 449.00L433.06 448.81L433.12 448.65L433.18 448.52L433.24 448.41L433.30 448.34L433.36 448.30L433.42 448.29L433.47 448.33L433.53 448.40L433.59 448.50L433.65 448.64L433.71 448.81L433.77 449.01L433.83 449.24L433.89 449.50L433.94 449.78L434.00 450.08L434.06 450.41L434.12 450.76L434.18 451.13L434.24 451.52L434.30 451.92L434.36 452.34L434.41 452.78L434.47 453.22L434.53 453.68L434.59 454.14L434.65 454.62L434.71 455.10L434.77 455.58L434.83 456.07L434.88 456.56L434.94 457.05L435.00 457.54L435.06 458.02L435.12 458.50L435.18 458.98L435.24 459.45L435.30 459.91L435.35 460.36L435.41 460.79L435.47 461.22L435.53 461.63L435.59 462.02L435.65 462.39L435.71 462.75L435.77 463.08L435.82 463.39L435.88 463.68L435.94 463.94L436.00 464.17L436.06 464.38L436.12 464.56L436.18 464.70L436.24 464.81L436.29 464.88L436.35 464.92L436.41 464.91L436.47 464.86L436.53 464.77L436.59 464.65L436.65 464.48L436.71 464.29L436.76 464.07L436.82 463.82L436.88 463.55L436.94 463.26L437.00 462.95L437.06 462.62L437.12 462.28L437.18 461.93L437.23 461.57L437.29 461.21L437.35 460.84L437.41 460.47L437.47 460.11L437.53 459.74L437.59 459.39L437.65 459.05L437.70 458.72L437.76 458.40L437.82 458.10L437.88 457.83L437.94 457.58L438.00 457.35L438.06 457.15L438.12 456.98L438.17 456.85L438.23 456.75L438.29 456.70L438.35 456.68L438.41 456.71L438.47 456.80L438.53 456.95L438.59 457.17L438.64 457.43L438.70 457.75L438.76 458.11L438.82 458.50L438.88 458.91L438.94 459.36L439.00 459.93L439.06 460.61L439.11 461.41L439.17 462.29L439.23 463.26L439.29 464.29L439.35 465.37L439.41 466.47L439.47 467.60L439.53 468.73L439.58 469.92L439.64 471.25L439.70 472.69L439.76 474.22L439.82 475.80L439.88 477.43L439.94 479.08L440.00 480.73L440.05 482.36L440.11 483.93L440.17 485.43L440.23 486.84L440.29 488.11L440.35 489.31L440.41 490.52L440.47 491.70L440.52 492.86L440.58 493.98L440.64 495.03L440.70 496.02L440.76 496.92L440.82 497.72L440.88 498.41L440.94 498.99L440.99 499.54L441.05 500.07L441.11 500.54L441.17 500.95L441.23 501.28L441.29 501.51L441.35 501.65L441.41 501.71L441.46 501.71L441.52 501.66L441.58 501.57L441.64 501.44L441.70 501.28L441.76 501.11L441.82 500.93L441.88 500.70L441.93 500.38L441.99 499.97L442.05 499.49L442.11 498.94L442.17 498.34L442.23 497.69L442.29 497.01L442.35 496.31L442.40 495.59L442.46 494.87L442.52 494.16L442.58 493.46L442.64 492.76L442.70 492.00L442.76 491.20L442.82 490.37L442.87 489.50L442.93 488.62L442.99 487.72L443.05 486.82L443.11 485.91L443.17 485.01L443.23 484.12L443.29 483.25L443.34 482.41L443.40 481.60L443.46 480.83L443.52 480.10L443.58 479.36L443.64 478.61L443.70 477.85L443.76 477.10L443.81 476.36L443.87 475.65L443.93 474.96L443.99 474.32L444.05 473.72L444.11 473.19L444.17 472.72L444.23 472.34L444.28 472.03L444.34 471.64L444.40 470.17L444.46 467.68L444.52 464.58L444.58 461.32L444.64 458.32L444.70 456.01L444.75 454.12L444.81 452.32L444.87 450.60L444.93 448.97L444.99 447.44L445.05 446.67L445.11 447.00L445.17 447.34L445.22 447.70L445.28 448.09L445.34 448.48L445.40 448.90L445.46 449.33L445.52 449.78L445.58 450.24L445.64 450.72L445.69 451.21L445.75 451.71L445.81 452.23L445.87 452.83L445.93 453.52L445.99 454.28L446.05 455.10L446.11 455.97L446.16 456.88L446.22 457.82L446.28 458.77L446.34 459.72L446.40 460.67L446.46 461.60L446.52 462.50L446.58 463.36L446.63 464.16L446.69 464.90L446.75 465.56L446.81 466.13L446.87 466.60L446.93 466.95L446.99 467.18L447.05 467.28L447.10 467.31L447.16 467.30L447.22 467.26L447.28 467.17L447.34 467.06L447.40 466.92L447.46 466.75L447.52 466.56L447.57 466.35L447.63 466.12L447.69 465.88L447.75 465.63L447.81 465.38L447.87 465.12L447.93 464.85L447.99 464.60L448.04 464.34L448.10 464.10L448.16 463.86L448.22 463.64L448.28 463.44L448.34 463.27L448.40 463.11L448.46 462.99L448.52 462.89L448.57 462.83L448.63 462.81L448.69 462.83L448.75 462.89L448.81 462.99L448.87 463.13L448.93 463.31L448.99 463.53L449.04 463.77L449.10 464.05L449.16 464.36L449.22 464.70L449.28 465.07L449.34 465.46L449.40 465.88L449.46 466.32L449.51 466.78L449.57 467.26L449.63 467.75L449.69 468.27L449.75 468.79L449.81 469.33L449.87 469.88L449.93 470.44L449.98 471.01L450.04 471.58L450.10 472.16L450.16 472.74L450.22 473.32L450.28 473.90L450.34 474.48L450.40 475.05L450.45 475.61L450.51 476.17L450.57 476.72L450.63 477.26L450.69 477.78L450.75 478.29L450.81 478.79L450.87 479.26L450.92 479.72L450.98 480.15L451.04 480.56L451.10 480.94L451.16 481.30L451.22 481.63L451.28 481.93L451.34 482.19L451.39 482.42L451.45 482.61L451.51 482.77L451.57 482.89L451.63 482.96L451.69 482.97L451.75 482.95L451.81 482.87L451.86 482.76L451.92 482.60L451.98 482.41L452.04 482.18L452.10 481.92L452.16 481.64L452.22 481.33L452.28 481.00L452.33 480.64L452.39 480.28L452.45 479.90L452.51 479.51L452.57 479.11L452.63 478.71L452.69 478.30L452.75 477.90L452.80 477.51L452.86 477.12L452.92 476.74L452.98 476.38L453.04 476.03L453.10 475.71L453.16 475.41L453.22 475.13L453.27 474.89L453.33 474.68L453.39 474.50L453.45 474.36L453.51 474.27L453.57 474.22L453.63 474.22L453.69 474.27L453.74 474.47L453.80 474.75L453.86 475.10L453.92 475.51L453.98 475.98L454.04 476.50L454.10 477.06L454.16 477.65L454.21 478.27L454.27 479.03L454.33 479.93L454.39 480.95L454.45 482.08L454.51 483.29L454.57 484.58L454.63 485.92L454.68 487.30L454.74 488.70L454.80 490.10L454.86 491.57L454.92 493.20L454.98 494.95L455.04 496.79L455.10 498.70L455.15 500.66L455.21 502.64L455.27 504.62L455.33 506.58L455.39 508.48L455.45 510.29L455.51 512.00L455.57 513.56L455.62 515.05L455.68 516.53L455.74 518.00L455.80 519.43L455.86 520.82L455.92 522.14L455.98 523.38L456.04 524.53L456.09 525.57L456.15 526.49L456.21 527.28L456.27 528.05L456.33 528.78L456.39 529.47L456.45 530.07L456.51 530.59L456.56 530.87L456.62 530.95L456.68 530.95L456.74 530.88L456.80 530.76L456.86 530.58L456.92 530.37L456.98 530.13L457.03 529.86L457.09 529.59L457.15 529.26L457.21 528.83L457.27 528.30L457.33 527.70L457.39 527.02L457.45 526.28L457.50 525.50L457.56 524.67L457.62 523.82L457.68 522.96L457.74 522.09L457.80 521.23L457.86 520.39L457.92 519.53L457.97 518.62L458.03 517.66L458.09 516.67L458.15 515.65L458.21 514.60L458.27 513.54L458.33 512.47L458.39 511.39L458.44 510.33L458.50 509.27L458.56 508.24L458.62 507.23L458.68 506.26L458.74 505.33L458.80 504.45L458.86 503.55L458.91 502.65L458.97 501.73L459.03 500.82L459.09 499.92L459.15 499.05L459.21 498.21L459.27 497.41L459.33 496.66L459.38 495.98L459.44 495.36L459.50 494.83L459.56 494.38L459.62 493.83L459.68 491.95L459.74 488.79L459.80 484.88L459.85 480.75L459.91 476.92L459.97 473.94L460.03 471.60L460.09 469.37L460.15 467.24L460.21 465.23L460.27 463.33L460.32 462.37L460.38 462.76L460.44 463.18L460.50 463.63L460.56 464.09L460.62 464.58L460.68 465.09L460.74 465.62L460.79 466.16L460.85 466.73L460.91 467.32L460.97 467.92L461.03 468.54L461.09 469.19L461.15 469.93L461.21 470.78L461.26 471.72L461.32 472.73L461.38 473.81L461.44 474.94L461.50 476.11L461.56 477.29L461.62 478.48L461.68 479.67L461.73 480.83L461.79 481.95L461.85 483.02L461.91 484.02L461.97 484.94L462.03 485.76L462.09 486.47L462.15 487.06L462.20 487.51L462.26 487.79L462.32 487.92L462.38 487.96L462.44 487.95L462.50 487.89L462.56 487.79L462.62 487.65L462.67 487.47L462.73 487.27L462.79 487.03L462.85 486.77L462.91 486.48L462.97 486.19L463.03 485.87L463.09 485.55L463.14 485.23L463.20 484.90L463.26 484.58L463.32 484.26L463.38 483.95L463.44 483.66L463.50 483.39L463.56 483.14L463.61 482.92L463.67 482.72L463.73 482.56L463.79 482.45L463.85 482.37L463.91 482.34L463.97 482.36L464.03 482.44L464.08 482.57L464.14 482.75L464.20 482.97L464.26 483.24L464.32 483.55L464.38 483.90L464.44 484.29L464.50 484.71L464.55 485.17L464.61 485.66L464.67 486.19L464.73 486.74L464.79 487.31L464.85 487.91L464.91 488.54L464.97 489.18L465.02 489.84L465.08 490.51L465.14 491.20L465.20 491.91L465.26 492.62L465.32 493.33L465.38 494.06L465.44 494.78L465.49 495.51L465.55 496.24L465.61 496.96L465.67 497.68L465.73 498.39L465.79 499.09L465.85 499.77L465.91 500.45L465.96 501.10L466.02 501.74L466.08 502.36L466.14 502.95L466.20 503.52L466.26 504.06L466.32 504.57L466.38 505.05L466.43 505.49L466.49 505.90L466.55 506.27L466.61 506.59L466.67 506.88L466.73 507.11L466.79 507.30L466.85 507.44L466.90 507.52L466.96 507.53L467.02 507.49L467.08 507.39L467.14 507.23L467.20 507.02L467.26 506.77L467.32 506.48L467.37 506.14L467.43 505.77L467.49 505.37L467.55 504.94L467.61 504.49L467.67 504.01L467.73 503.52L467.79 503.02L467.85 502.51L467.90 501.99L467.96 501.47L468.02 500.95L468.08 500.44L468.14 499.94L468.20 499.45L468.26 498.98L468.32 498.54L468.37 498.11L468.43 497.72L468.49 497.36L468.55 497.04L468.61 496.76L468.67 496.53L468.73 496.35L468.79 496.22L468.84 496.14L468.90 496.13L468.96 496.19L469.02 496.76L469.08 497.43L469.14 498.18L469.20 499.00L469.26 499.87L469.31 500.81L469.37 501.78L469.43 502.80L469.49 503.86L469.55 505.04L469.61 506.36L469.67 507.81L469.73 509.35L469.78 510.98L469.84 512.69L469.90 514.44L469.96 516.23L470.02 518.04L470.08 519.85L470.14 521.73L470.20 523.75L470.25 525.89L470.31 528.10L470.37 530.38L470.43 532.69L470.49 535.03L470.55 537.38L470.61 539.70L470.67 541.98L470.72 544.17L470.78 546.27L470.84 548.24L470.90 550.14L470.96 552.04L471.02 553.93L471.08 555.78L471.14 557.59L471.19 559.35L471.25 561.03L471.31 562.63L471.37 564.12L471.43 565.51L471.49 566.78L471.55 568.03L471.61 569.25L471.66 570.41L471.72 571.51L471.78 572.52L471.84 572.81L471.90 572.58L471.96 572.27L472.02 571.90L472.08 571.47L472.13 571.00L472.19 570.49L472.25 569.95L472.31 569.39L472.37 568.82L472.43 568.20L472.49 567.48L472.55 566.68L472.60 565.81L472.66 564.87L472.72 563.88L472.78 562.85L472.84 561.78L472.90 560.69L472.96 559.58L473.02 558.47L473.07 557.37L473.13 556.28L473.19 555.17L473.25 554.02L473.31 552.83L473.37 551.60L473.43 550.35L473.49 549.08L473.54 547.79L473.60 546.50L473.66 545.20L473.72 543.90L473.78 542.62L473.84 541.35L473.90 540.11L473.96 538.89L474.01 537.71L474.07 536.56L474.13 535.41L474.19 534.24L474.25 533.06L474.31 531.88L474.37 530.72L474.43 529.57L474.48 528.45L474.54 527.36L474.60 526.31L474.66 525.31L474.72 524.36L474.78 523.48L474.84 522.66L474.90 521.71L474.95 519.06L475.01 514.80L475.07 509.58L475.13 504.03L475.19 498.83L475.25 494.68L475.31 491.73L475.37 488.90L475.42 486.21L475.48 483.66L475.54 481.26L475.60 480.03L475.66 480.51L475.72 481.03L475.78 481.57L475.84 482.14L475.89 482.74L475.95 483.37L476.01 484.02L476.07 484.70L476.13 485.40L476.19 486.12L476.25 486.87L476.31 487.63L476.36 488.43L476.42 489.35L476.48 490.40L476.54 491.57L476.60 492.83L476.66 494.17L476.72 495.58L476.78 497.03L476.83 498.50L476.89 499.99L476.95 501.46L477.01 502.90L477.07 504.29L477.13 505.62L477.19 506.86L477.25 508.00L477.30 509.02L477.36 509.90L477.42 510.62L477.48 511.16L477.54 511.50L477.60 511.64L477.66 511.67L477.72 511.64L477.77 511.55L477.83 511.40L477.89 511.20L477.95 510.96L478.01 510.68L478.07 510.36L478.13 510.01L478.19 509.63L478.24 509.24L478.30 508.83L478.36 508.40L478.42 507.97L478.48 507.54L478.54 507.11L478.60 506.69L478.66 506.29L478.71 505.90L478.77 505.53L478.83 505.20L478.89 504.89L478.95 504.63L479.01 504.41L479.07 504.24L479.13 504.12L479.18 504.06L479.24 504.07L479.30 504.14L479.36 504.28L479.42 504.48L479.48 504.74L479.54 505.05L479.60 505.42L479.65 505.83L479.71 506.30L479.77 506.81L479.83 507.36L479.89 507.95L479.95 508.58L480.01 509.25L480.07 509.95L480.12 510.67L480.18 511.43L480.24 512.21L480.30 513.01L480.36 513.83L480.42 514.67L480.48 515.53L480.54 516.39L480.59 517.26L480.65 518.14L480.71 519.03L480.77 519.91L480.83 520.79L480.89 521.67L480.95 522.54L481.01 523.40L481.06 524.25L481.12 525.08L481.18 525.90L481.24 526.69L481.30 527.46L481.36 528.20L481.42 528.92L481.48 529.60L481.53 530.24L481.59 530.85L481.65 531.42L481.71 531.95L481.77 532.43L481.83 532.86L481.89 533.24L481.95 533.56L482.00 533.83L482.06 534.03L482.12 534.17L482.18 534.25L482.24 534.24L482.30 534.15L482.36 533.99L482.42 533.77L482.47 533.48L482.53 533.14L482.59 532.74L482.65 532.29L482.71 531.80L482.77 531.27L482.83 530.70L482.89 530.11L482.94 529.49L483.00 528.85L483.06 528.19L483.12 527.52L483.18 526.85L483.24 526.17L483.30 525.50L483.36 524.83L483.41 524.18L483.47 523.54L483.53 522.93L483.59 522.34L483.65 521.79L483.71 521.27L483.77 520.80L483.83 520.37L483.88 519.99L483.94 519.67L484.00 519.41L484.06 519.22L484.12 519.10L484.18 519.06L484.24 519.10L484.30 520.67L484.35 522.37L484.41 524.13L484.47 525.94L484.53 527.81L484.59 529.72L484.65 531.67L484.71 533.66L484.77 535.68L484.82 537.76L484.88 539.90L484.94 542.09L485.00 544.33L485.06 546.60L485.12 548.90L485.18 551.22L485.24 553.55L485.29 555.89L485.35 558.23L485.41 560.59L485.47 562.98L485.53 565.38L485.59 567.80L485.65 570.21L485.71 572.63L485.76 575.06L485.82 577.49L485.88 579.93L485.94 582.36L486.00 584.78L486.06 587.18L486.12 589.55L486.18 591.92L486.23 594.29L486.29 596.65L486.35 599.01L486.41 601.35L486.47 603.69L486.53 606.00L486.59 608.30L486.65 610.58L486.71 612.83L486.76 615.06L486.82 617.28L486.88 619.48L486.94 621.67L487.00 623.84L487.06 625.98L487.12 626.11L487.18 624.88L487.23 623.63L487.29 622.37L487.35 621.09L487.41 619.80L487.47 618.50L487.53 617.18L487.59 615.86L487.65 614.52L487.70 613.18L487.76 611.82L487.82 610.45L487.88 609.07L487.94 607.69L488.00 606.30L488.06 604.90L488.12 603.50L488.17 602.11L488.23 600.73L488.29 599.34L488.35 597.94L488.41 596.54L488.47 595.13L488.53 593.72L488.59 592.30L488.64 590.88L488.70 589.44L488.76 588.01L488.82 586.56L488.88 585.11L488.94 583.65L489.00 582.19L489.06 580.72L489.11 579.25L489.17 577.76L489.23 576.27L489.29 574.78L489.35 573.28L489.41 571.77L489.47 570.25L489.53 568.73L489.58 567.20L489.64 565.66L489.70 564.12L489.76 562.57L489.82 561.01L489.88 559.45L489.94 557.88L490.00 556.30L490.05 554.72L490.11 553.12L490.17 551.35L490.23 547.50L490.29 541.63L490.35 534.53L490.41 526.99L490.47 519.78L490.52 513.86L490.58 510.22L490.64 506.72L490.70 503.39L490.76 500.23L490.82 497.27L490.88 495.73L490.94 496.29L490.99 496.89L491.05 497.52L491.11 498.19L491.17 498.89L491.23 499.63L491.29 500.39L491.35 501.19L491.41 502.01L491.46 502.86L491.52 503.74L491.58 504.64L491.64 505.58L491.70 506.67L491.76 507.92L491.82 509.31L491.88 510.82L491.93 512.43L491.99 514.11L492.05 515.85L492.11 517.62L492.17 519.39L492.23 521.15L492.29 522.88L492.35 524.54L492.40 526.13L492.46 527.61L492.52 528.96L492.58 530.17L492.64 531.20L492.70 532.05L492.76 532.67L492.82 533.05L492.87 533.18L492.93 533.18L492.99 533.11L493.05 532.96L493.11 532.74L493.17 532.47L493.23 532.13L493.29 531.75L493.34 531.33L493.40 530.86L493.46 530.37L493.52 529.85L493.58 529.31L493.64 528.76L493.70 528.19L493.76 527.63L493.81 527.07L493.87 526.52L493.93 525.99L493.99 525.48L494.05 525.00L494.11 524.55L494.17 524.14L494.23 523.79L494.28 523.48L494.34 523.23L494.40 523.05L494.46 522.95L494.52 522.92L494.58 522.97L494.64 523.10L494.70 523.31L494.75 523.59L494.81 523.93L494.87 524.34L494.93 524.81L494.99 525.34L495.05 525.92L495.11 526.56L495.17 527.24L495.22 527.98L495.28 528.75L495.34 529.56L495.40 530.41L495.46 531.30L495.52 532.21L495.58 533.15L495.64 534.12L495.69 535.10L495.75 536.10L495.81 537.12L495.87 538.15L495.93 539.18L495.99 540.22L496.05 541.26L496.11 542.30L496.16 543.33L496.22 544.36L496.28 545.37L496.34 546.36L496.40 547.34L496.46 548.29L496.52 549.22L496.58 550.12L496.63 550.99L496.69 551.82L496.75 552.62L496.81 553.37L496.87 554.07L496.93 554.73L496.99 555.33L497.05 555.88L497.10 556.36L497.16 556.79L497.22 557.14L497.28 557.43L497.34 557.64L497.40 557.78L497.46 557.83L497.52 557.78L497.57 557.63L497.63 557.40L497.69 557.09L497.75 556.71L497.81 556.25L497.87 555.73L497.93 555.14L497.99 554.51L498.04 553.83L498.10 553.10L498.16 552.34L498.22 551.55L498.28 550.73L498.34 549.89L498.40 549.04L498.46 548.18L498.51 547.32L498.57 546.47L498.63 545.62L498.69 544.79L498.75 543.98L498.81 543.19L498.87 542.44L498.93 541.73L498.98 541.07L499.04 540.45L499.10 539.89L499.16 539.40L499.22 538.97L499.28 538.62L499.34 538.35L499.40 538.16L499.45 538.07L499.51 538.08L499.57 540.62L499.63 543.31L499.69 546.04L499.75 548.81L499.81 551.63L499.87 554.48L499.92 557.36L499.98 560.28L500.04 563.22L500.10 566.19L500.16 569.18L500.22 572.19L500.28 575.22L500.34 578.26L500.39 581.32L500.45 584.38L500.51 587.45L500.57 590.52L500.63 593.59L500.69 596.66L500.75 599.72L500.81 602.78L500.86 605.82L500.92 608.85L500.98 611.88L501.04 614.92L501.10 617.98L501.16 621.06L501.22 624.15L501.28 627.25L501.33 630.36L501.39 633.48L501.45 636.60L501.51 639.72L501.57 642.85L501.63 645.97L501.69 649.09L501.75 652.20L501.80 655.30L501.86 658.40L501.92 661.48L501.98 664.54L502.04 667.59L502.10 670.62L502.16 673.63L502.22 676.61L502.27 679.57L502.33 682.50L502.39 682.50L502.45 680.55L502.51 678.59L502.57 676.63L502.63 674.67L502.69 672.69L502.74 670.72L502.80 668.74L502.86 666.75L502.92 664.76L502.98 662.77L503.04 660.77L503.10 658.76L503.16 656.75L503.21 654.73L503.27 652.71L503.33 650.69L503.39 648.65L503.45 646.62L503.51 644.57L503.57 642.53L503.63 640.47L503.68 638.41L503.74 636.35L503.80 634.28L503.86 632.20L503.92 630.12L503.98 628.04L504.04 625.94L504.10 623.85L504.15 621.74L504.21 619.63L504.27 617.52L504.33 615.40L504.39 613.27L504.45 611.14L504.51 609.00L504.57 606.85L504.62 604.70L504.68 602.55L504.74 600.39L504.80 598.22L504.86 596.04L504.92 593.86L504.98 591.68L505.04 589.48L505.09 587.28L505.15 585.08L505.21 582.87L505.27 580.65L505.33 578.43L505.39 576.20L505.45 573.76L505.51 568.84L505.56 561.53L505.62 552.77L505.68 543.49L505.74 534.61L505.80 527.30L505.86 522.93L505.92 518.74L505.98 514.75L506.04 510.96L506.09 507.41L506.15 505.55L506.21 506.17L506.27 506.84L506.33 507.55L506.39 508.31L506.45 509.09L506.51 509.92L506.56 510.78L506.62 511.68L506.68 512.61L506.74 513.58L506.80 514.57L506.86 515.60L506.92 516.66L506.98 517.90L507.03 519.34L507.09 520.94L507.15 522.67L507.21 524.52L507.27 526.45L507.33 528.45L507.39 530.48L507.45 532.52L507.50 534.54L507.56 536.52L507.62 538.42L507.68 540.23L507.74 541.92L507.80 543.46L507.86 544.82L507.92 545.98L507.97 546.92L508.03 547.60L508.09 548.00L508.15 548.10L508.21 548.05L508.27 547.92L508.33 547.69L508.39 547.40L508.44 547.03L508.50 546.59L508.56 546.10L508.62 545.56L508.68 544.98L508.74 544.36L508.80 543.71L508.86 543.04L508.91 542.35L508.97 541.66L509.03 540.96L509.09 540.27L509.15 539.59L509.21 538.94L509.27 538.30L509.33 537.71L509.38 537.15L509.44 536.64L509.50 536.19L509.56 535.80L509.62 535.48L509.68 535.23L509.74 535.07L509.80 534.99L509.85 535.02L509.91 535.13L509.97 535.33L510.03 535.60L510.09 535.96L510.15 536.39L510.21 536.89L510.27 537.46L510.32 538.08L510.38 538.77L510.44 539.52L510.50 540.31L510.56 541.15L510.62 542.04L510.68 542.97L510.74 543.94L510.79 544.93L510.85 545.96L510.91 547.02L510.97 548.09L511.03 549.19L511.09 550.30L511.15 551.42L511.21 552.55L511.26 553.68L511.32 554.81L511.38 555.94L511.44 557.06L511.50 558.16L511.56 559.26L511.62 560.33L511.68 561.39L511.73 562.41L511.79 563.41L511.85 564.37L511.91 565.29L511.97 566.17L512.03 567.01L512.09 567.80L512.15 568.54L512.20 569.22L512.26 569.83L512.32 570.39L512.38 570.87L512.44 571.29L512.50 571.63L512.56 571.89L512.62 572.06L512.67 572.15L512.73 572.14L512.79 572.03L512.85 571.80L512.91 571.48L512.97 571.07L513.03 570.57L513.09 570.00L513.14 569.35L513.20 568.64L513.26 567.86L513.32 567.04L513.38 566.16L513.44 565.25L513.50 564.31L513.56 563.33L513.61 562.34L513.67 561.33L513.73 560.31L513.79 559.29L513.85 558.28L513.91 557.28L513.97 556.30L514.03 555.34L514.08 554.41L514.14 553.52L514.20 552.68L514.26 551.88L514.32 551.14L514.38 550.47L514.44 549.86L514.50 549.33L514.55 548.89L514.61 548.53L514.67 548.27L514.73 548.12L514.79 548.07L514.85 551.02L514.91 554.15L514.97 557.32L515.02 560.53L515.08 563.78L515.14 567.06L515.20 570.38L515.26 573.72L515.32 577.10L515.38 580.49L515.44 583.91L515.49 587.34L515.55 590.79L515.61 594.25L515.67 597.71L515.73 601.18L515.79 604.66L515.85 608.13L515.91 611.59L515.96 615.05L516.02 618.50L516.08 621.93L516.14 625.35L516.20 628.75L516.26 632.13L516.32 635.53L516.38 638.95L516.43 642.38L516.49 645.82L516.55 649.26L516.61 652.71L516.67 656.16L516.73 659.62L516.79 663.07L516.85 666.51L516.90 669.95L516.96 673.38L517.02 676.80L517.08 680.21L517.14 683.59L517.20 686.96L517.26 690.31L517.32 693.64L517.37 696.94L517.43 700.21L517.49 703.45L517.55 706.66L517.61 709.83L517.67 709.65L517.73 707.22L517.79 704.80L517.84 702.37L517.90 699.94L517.96 697.50L518.02 695.07L518.08 692.63L518.14 690.19L518.20 687.74L518.26 685.30L518.31 682.85L518.37 680.40L518.43 677.95L518.49 675.50L518.55 673.04L518.61 670.58L518.67 668.12L518.73 665.66L518.78 663.19L518.84 660.73L518.90 658.26L518.96 655.79L519.02 653.31L519.08 650.84L519.14 648.36L519.20 645.88L519.25 643.40L519.31 640.92L519.37 638.44L519.43 635.95L519.49 633.46L519.55 630.97L519.61 628.48L519.67 625.99L519.72 623.49L519.78 620.99L519.84 618.50L519.90 616.00L519.96 613.49L520.02 610.99L520.08 608.48L520.14 605.98L520.19 603.47L520.25 600.96L520.31 598.45L520.37 595.93L520.43 593.42L520.49 590.90L520.55 588.38L520.61 585.86L520.66 583.34L520.72 580.61L520.78 575.25L520.84 567.38L520.90 557.98L520.96 548.03L521.02 538.53L521.08 530.68L521.13 526.03L521.19 521.57L521.25 517.31L521.31 513.29L521.37 509.50L521.43 507.51L521.49 508.13L521.55 508.81L521.60 509.52L521.66 510.28L521.72 511.08L521.78 511.92L521.84 512.80L521.90 513.71L521.96 514.66L522.02 515.64L522.07 516.65L522.13 517.69L522.19 518.78L522.25 520.05L522.31 521.52L522.37 523.16L522.43 524.95L522.49 526.85L522.54 528.84L522.60 530.89L522.66 532.98L522.72 535.07L522.78 537.15L522.84 539.17L522.90 541.13L522.96 542.97L523.01 544.69L523.07 546.26L523.13 547.63L523.19 548.80L523.25 549.73L523.31 550.39L523.37 550.76L523.43 550.82L523.48 550.73L523.54 550.54L523.60 550.27L523.66 549.91L523.72 549.49L523.78 548.99L523.84 548.44L523.90 547.83L523.95 547.19L524.01 546.50L524.07 545.79L524.13 545.05L524.19 544.30L524.25 543.54L524.31 542.78L524.37 542.03L524.42 541.29L524.48 540.57L524.54 539.88L524.60 539.23L524.66 538.62L524.72 538.06L524.78 537.56L524.84 537.11L524.90 536.74L524.95 536.45L525.01 536.25L525.07 536.13L525.13 536.12L525.19 536.19L525.25 536.35L525.31 536.60L525.37 536.92L525.42 537.32L525.48 537.78L525.54 538.32L525.60 538.92L525.66 539.57L525.72 540.28L525.78 541.05L525.84 541.86L525.89 542.71L525.95 543.61L526.01 544.54L526.07 545.50L526.13 546.49L526.19 547.51L526.25 548.55L526.31 549.60L526.36 550.67L526.42 551.75L526.48 552.83L526.54 553.92L526.60 555.01L526.66 556.08L526.72 557.15L526.78 558.21L526.83 559.25L526.89 560.27L526.95 561.26L527.01 562.23L527.07 563.17L527.13 564.07L527.19 564.93L527.25 565.75L527.30 566.52L527.36 567.24L527.42 567.91L527.48 568.52L527.54 569.06L527.60 569.55L527.66 569.96L527.72 570.31L527.77 570.57L527.83 570.76L527.89 570.86L527.95 570.88L528.01 570.80L528.07 570.61L528.13 570.32L528.19 569.93L528.24 569.45L528.30 568.88L528.36 568.24L528.42 567.53L528.48 566.76L528.54 565.92L528.60 565.04L528.66 564.11L528.71 563.14L528.77 562.14L528.83 561.12L528.89 560.08L528.95 559.02L529.01 557.96L529.07 556.90L529.13 555.84L529.18 554.80L529.24 553.77L529.30 552.78L529.36 551.81L529.42 550.88L529.48 550.00L529.54 549.17L529.60 548.40L529.65 547.68L529.71 547.04L529.77 546.48L529.83 545.99L529.89 545.60L529.95 545.30L530.01 545.10L530.07 545.01L530.12 547.70L530.18 550.55L530.24 553.44L530.30 556.36L530.36 559.32L530.42 562.31L530.48 565.32L530.54 568.36L530.59 571.42L530.65 574.50L530.71 577.59L530.77 580.70L530.83 583.81L530.89 586.93L530.95 590.05L531.01 593.17L531.06 596.29L531.12 599.41L531.18 602.51L531.24 605.61L531.30 608.69L531.36 611.75L531.42 614.79L531.48 617.81L531.53 620.82L531.59 623.83L531.65 626.86L531.71 629.90L531.77 632.94L531.83 635.98L531.89 639.03L531.95 642.07L532.00 645.11L532.06 648.15L532.12 651.18L532.18 654.20L532.24 657.21L532.30 660.21L532.36 663.19L532.42 666.15L532.47 669.09L532.53 672.01L532.59 674.90L532.65 677.77L532.71 680.61L532.77 683.42L532.83 686.20L532.89 688.94L532.94 688.67L533.00 686.39L533.06 684.11L533.12 681.83L533.18 679.55L533.24 677.27L533.30 674.99L533.36 672.72L533.41 670.44L533.47 668.16L533.53 665.88L533.59 663.61L533.65 661.33L533.71 659.05L533.77 656.78L533.83 654.50L533.88 652.23L533.94 649.95L534.00 647.68L534.06 645.40L534.12 643.13L534.18 640.86L534.24 638.58L534.30 636.31L534.35 634.04L534.41 631.77L534.47 629.49L534.53 627.22L534.59 624.95L534.65 622.68L534.71 620.41L534.77 618.14L534.82 615.87L534.88 613.61L534.94 611.34L535.00 609.07L535.06 606.80L535.12 604.54L535.18 602.27L535.24 600.00L535.29 597.74L535.35 595.47L535.41 593.21L535.47 590.94L535.53 588.68L535.59 586.42L535.65 584.15L535.71 581.89L535.76 579.63L535.82 577.37L535.88 575.10L535.94 572.84L536.00 570.39L536.06 565.52L536.12 558.36L536.18 549.79L536.23 540.73L536.29 532.08L536.35 524.96L536.41 520.66L536.47 516.54L536.53 512.61L536.59 508.90L536.65 505.41L536.70 503.56L536.76 504.11L536.82 504.70L536.88 505.33L536.94 506.00L537.00 506.70L537.06 507.44L537.12 508.22L537.17 509.02L537.23 509.86L537.29 510.73L537.35 511.62L537.41 512.55L537.47 513.51L537.53 514.64L537.59 515.94L537.64 517.41L537.70 519.00L537.76 520.70L537.82 522.48L537.88 524.32L537.94 526.18L538.00 528.05L538.06 529.90L538.11 531.71L538.17 533.45L538.23 535.09L538.29 536.62L538.35 538.00L538.41 539.21L538.47 540.24L538.53 541.04L538.58 541.61L538.64 541.91L538.70 541.93L538.76 541.81L538.82 541.60L538.88 541.32L538.94 540.96L539.00 540.53L539.05 540.05L539.11 539.52L539.17 538.94L539.23 538.32L539.29 537.66L539.35 536.98L539.41 536.28L539.47 535.57L539.52 534.85L539.58 534.13L539.64 533.42L539.70 532.72L539.76 532.04L539.82 531.39L539.88 530.76L539.94 530.18L539.99 529.64L540.05 529.16L540.11 528.73L540.17 528.37L540.23 528.08L540.29 527.86L540.35 527.73L540.41 527.69L540.46 527.73L540.52 527.85L540.58 528.05L540.64 528.31L540.70 528.65L540.76 529.04L540.82 529.50L540.88 530.02L540.93 530.59L540.99 531.20L541.05 531.87L541.11 532.58L541.17 533.33L541.23 534.11L541.29 534.93L541.35 535.78L541.40 536.65L541.46 537.55L541.52 538.46L541.58 539.40L541.64 540.34L541.70 541.29L541.76 542.25L541.82 543.21L541.87 544.17L541.93 545.13L541.99 546.07L542.05 547.01L542.11 547.93L542.17 548.83L542.23 549.71L542.29 550.57L542.34 551.40L542.40 552.19L542.46 552.96L542.52 553.68L542.58 554.36L542.64 555.00L542.70 555.59L542.76 556.13L542.81 556.62L542.87 557.04L542.93 557.41L542.99 557.71L543.05 557.94L543.11 558.11L543.17 558.19L543.23 558.21L543.28 558.13L543.34 557.96L543.40 557.69L543.46 557.34L543.52 556.90L543.58 556.40L543.64 555.82L543.70 555.18L543.75 554.48L543.81 553.73L543.87 552.94L543.93 552.10L543.99 551.24L544.05 550.34L544.11 549.42L544.17 548.48L544.23 547.53L544.28 546.58L544.34 545.63L544.40 544.68L544.46 543.74L544.52 542.82L544.58 541.93L544.64 541.06L544.70 540.23L544.75 539.43L544.81 538.68L544.87 537.99L544.93 537.35L544.99 536.77L545.05 536.26L545.11 535.82L545.17 535.47L545.22 535.20L545.28 535.01L545.34 534.93L545.40 537.19L545.46 539.59L545.52 542.02L545.58 544.49L545.64 546.98L545.69 549.50L545.75 552.05L545.81 554.62L545.87 557.20L545.93 559.80L545.99 562.42L546.05 565.04L546.11 567.68L546.16 570.32L546.22 572.96L546.28 575.60L546.34 578.24L546.40 580.88L546.46 583.50L546.52 586.12L546.58 588.73L546.63 591.32L546.69 593.89L546.75 596.44L546.81 598.98L546.87 601.53L546.93 604.09L546.99 606.65L547.05 609.23L547.10 611.80L547.16 614.38L547.22 616.96L547.28 619.53L547.34 622.10L547.40 624.67L547.46 627.22L547.52 629.77L547.57 632.31L547.63 634.83L547.69 637.33L547.75 639.82L547.81 642.29L547.87 644.74L547.93 647.16L547.99 649.56L548.04 651.93L548.10 654.27L548.16 656.59L548.22 656.36L548.28 654.46L548.34 652.55L548.40 650.64L548.46 648.73L548.51 646.82L548.57 644.92L548.63 643.01L548.69 641.11L548.75 639.20L548.81 637.30L548.87 635.39L548.93 633.49L548.98 631.59L549.04 629.69L549.10 627.78L549.16 625.88L549.22 623.98L549.28 622.08L549.34 620.18L549.40 618.28L549.45 616.38L549.51 614.48L549.57 612.59L549.63 610.69L549.69 608.79L549.75 606.89L549.81 605.00L549.87 603.10L549.92 601.20L549.98 599.31L550.04 597.41L550.10 595.52L550.16 593.62L550.22 591.73L550.28 589.83L550.34 587.94L550.39 586.05L550.45 584.15L550.51 582.26L550.57 580.37L550.63 578.48L550.69 576.58L550.75 574.69L550.81 572.80L550.86 570.91L550.92 569.02L550.98 567.13L551.04 565.23L551.10 563.34L551.16 561.45L551.22 559.56L551.28 557.49L551.33 553.24L551.39 546.88L551.45 539.25L551.51 531.17L551.57 523.45L551.63 517.11L551.69 513.21L551.75 509.46L551.80 505.90L551.86 502.52L551.92 499.35L551.98 497.67L552.04 498.18L552.10 498.72L552.16 499.30L552.22 499.92L552.27 500.57L552.33 501.25L552.39 501.97L552.45 502.71L552.51 503.49L552.57 504.29L552.63 505.12L552.69 505.97L552.74 506.86L552.80 507.90L552.86 509.11L552.92 510.46L552.98 511.93L553.04 513.50L553.10 515.14L553.16 516.84L553.21 518.56L553.27 520.29L553.33 522.00L553.39 523.67L553.45 525.28L553.51 526.81L553.57 528.23L553.63 529.51L553.68 530.65L553.74 531.61L553.80 532.37L553.86 532.90L553.92 533.20L553.98 533.24L554.04 533.15L554.10 532.98L554.15 532.74L554.21 532.43L554.27 532.06L554.33 531.64L554.39 531.16L554.45 530.65L554.51 530.10L554.57 529.51L554.62 528.91L554.68 528.28L554.74 527.65L554.80 527.00L554.86 526.36L554.92 525.72L554.98 525.09L555.04 524.49L555.09 523.90L555.15 523.35L555.21 522.83L555.27 522.35L555.33 521.92L555.39 521.54L555.45 521.23L555.51 520.98L555.56 520.80L555.62 520.70L555.68 520.68L555.74 520.74L555.80 520.87L555.86 521.08L555.92 521.34L555.98 521.67L556.03 522.07L556.09 522.51L556.15 523.01L556.21 523.56L556.27 524.16L556.33 524.80L556.39 525.49L556.45 526.20L556.50 526.96L556.56 527.74L556.62 528.56L556.68 529.39L556.74 530.25L556.80 531.13L556.86 532.02L556.92 532.93L556.97 533.84L557.03 534.76L557.09 535.68L557.15 536.60L557.21 537.52L557.27 538.43L557.33 539.33L557.39 540.21L557.44 541.08L557.50 541.94L557.56 542.76L557.62 543.57L557.68 544.34L557.74 545.08L557.80 545.78L557.86 546.45L557.91 547.08L557.97 547.66L558.03 548.19L558.09 548.67L558.15 549.10L558.21 549.47L558.27 549.78L558.33 550.02L558.38 550.20L558.44 550.31L558.50 550.34L558.56 550.30L558.62 550.16L558.68 549.93L558.74 549.62L558.80 549.24L558.85 548.78L558.91 548.26L558.97 547.68L559.03 547.04L559.09 546.36L559.15 545.63L559.21 544.86L559.27 544.07L559.32 543.24L559.38 542.39L559.44 541.52L559.50 540.65L559.56 539.76L559.62 538.88L559.68 538.00L559.74 537.14L559.79 536.28L559.85 535.45L559.91 534.65L559.97 533.88L560.03 533.15L560.09 532.45L560.15 531.81L560.21 531.22L560.26 530.69L560.32 530.23L560.38 529.83L560.44 529.51L560.50 529.27L560.56 529.12L560.62 529.06L560.68 531.06L560.73 533.18L560.79 535.34L560.85 537.53L560.91 539.75L560.97 542.00L561.03 544.27L561.09 546.57L561.15 548.89L561.20 551.22L561.26 553.57L561.32 555.93L561.38 558.31L561.44 560.69L561.50 563.07L561.56 565.46L561.62 567.85L561.67 570.23L561.73 572.61L561.79 574.99L561.85 577.35L561.91 579.70L561.97 582.04L562.03 584.36L562.09 586.67L562.14 588.99L562.20 591.33L562.26 593.67L562.32 596.02L562.38 598.38L562.44 600.74L562.50 603.10L562.56 605.47L562.61 607.83L562.67 610.19L562.73 612.54L562.79 614.89L562.85 617.23L562.91 619.55L562.97 621.87L563.03 624.17L563.09 626.45L563.14 628.72L563.20 630.96L563.26 633.18L563.32 635.38L563.38 637.56L563.44 639.70L563.50 639.59L563.56 637.96L563.61 636.33L563.67 634.70L563.73 633.07L563.79 631.43L563.85 629.80L563.91 628.17L563.97 626.53L564.03 624.89L564.08 623.25L564.14 621.61L564.20 619.97L564.26 618.33L564.32 616.69L564.38 615.04L564.44 613.40L564.50 611.75L564.55 610.10L564.61 608.45L564.67 606.80L564.73 605.14L564.79 603.49L564.85 601.83L564.91 600.17L564.97 598.51L565.02 596.85L565.08 595.19L565.14 593.53L565.20 591.86L565.26 590.19L565.32 588.53L565.38 586.86L565.44 585.18L565.49 583.51L565.55 581.84L565.61 580.16L565.67 578.48L565.73 576.80L565.79 575.12L565.85 573.44L565.91 571.75L565.96 570.06L566.02 568.37L566.08 566.68L566.14 564.99L566.20 563.30L566.26 561.60L566.32 559.90L566.38 558.20L566.43 556.50L566.49 554.80L566.55 552.92L566.61 548.89L566.67 542.81L566.73 535.47L566.79 527.68L566.85 520.26L566.90 514.16L566.96 510.35L567.02 506.71L567.08 503.23L567.14 499.94L567.20 496.85L567.26 495.22L567.32 495.75L567.37 496.30L567.43 496.90L567.49 497.53L567.55 498.19L567.61 498.88L567.67 499.60L567.73 500.36L567.79 501.14L567.84 501.95L567.90 502.79L567.96 503.65L568.02 504.54L568.08 505.59L568.14 506.80L568.20 508.15L568.26 509.62L568.31 511.19L568.37 512.83L568.43 514.52L568.49 516.24L568.55 517.96L568.61 519.67L568.67 521.34L568.73 522.95L568.78 524.48L568.84 525.90L568.90 527.19L568.96 528.33L569.02 529.30L569.08 530.08L569.14 530.63L569.20 530.95L569.25 531.01L569.31 530.94L569.37 530.80L569.43 530.59L569.49 530.31L569.55 529.97L569.61 529.57L569.67 529.13L569.72 528.64L569.78 528.12L569.84 527.57L569.90 526.99L569.96 526.40L570.02 525.79L570.08 525.17L570.14 524.56L570.19 523.95L570.25 523.35L570.31 522.77L570.37 522.21L570.43 521.68L570.49 521.19L570.55 520.73L570.61 520.33L570.66 519.97L570.72 519.68L570.78 519.45L570.84 519.29L570.90 519.21L570.96 519.21L571.02 519.29L571.08 519.44L571.13 519.65L571.19 519.94L571.25 520.28L571.31 520.69L571.37 521.15L571.43 521.67L571.49 522.23L571.55 522.84L571.60 523.50L571.66 524.19L571.72 524.93L571.78 525.70L571.84 526.50L571.90 527.32L571.96 528.18L572.02 529.05L572.07 529.95L572.13 530.85L572.19 531.78L572.25 532.71L572.31 533.64L572.37 534.58L572.43 535.52L572.49 536.46L572.54 537.39L572.60 538.31L572.66 539.21L572.72 540.11L572.78 540.98L572.84 541.83L572.90 542.65L572.96 543.45L573.01 544.21L573.07 544.94L573.13 545.63L573.19 546.28L573.25 546.88L573.31 547.44L573.37 547.95L573.43 548.40L573.48 548.79L573.54 549.13L573.60 549.40L573.66 549.60L573.72 549.74L573.78 549.80L573.84 549.78L573.90 549.66L573.95 549.46L574.01 549.18L574.07 548.82L574.13 548.39L574.19 547.89L574.25 547.33L574.31 546.72L574.37 546.05L574.42 545.35L574.48 544.60L574.54 543.82L574.60 543.01L574.66 542.19L574.72 541.34L574.78 540.48L574.84 539.62L574.89 538.75L574.95 537.89L575.01 537.04L575.07 536.20L575.13 535.39L575.19 534.60L575.25 533.85L575.31 533.13L575.36 532.45L575.42 531.82L575.48 531.25L575.54 530.74L575.60 530.29L575.66 529.91L575.72 529.61L575.78 529.38L575.83 529.25L575.89 529.20L575.95 531.21L576.01 533.33L576.07 535.49L576.13 537.69L576.19 539.91L576.25 542.17L576.30 544.45L576.36 546.76L576.42 549.08L576.48 551.43L576.54 553.79L576.60 556.16L576.66 558.55L576.72 560.95L576.77 563.35L576.83 565.75L576.89 568.16L576.95 570.56L577.01 572.96L577.07 575.35L577.13 577.74L577.19 580.11L577.24 582.46L577.30 584.80L577.36 587.13L577.42 589.48L577.48 591.83L577.54 594.20L577.60 596.57L577.66 598.95L577.71 601.34L577.77 603.73L577.83 606.11L577.89 608.50L577.95 610.88L578.01 613.26L578.07 615.63L578.13 617.99L578.18 620.34L578.24 622.68L578.30 625.00L578.36 627.31L578.42 629.59L578.48 631.86L578.54 634.10L578.60 636.32L578.65 638.51L578.71 640.68L578.77 640.58L578.83 638.99L578.89 637.39L578.95 635.79L579.01 634.18L579.07 632.58L579.12 630.98L579.18 629.37L579.24 627.77L579.30 626.16L579.36 624.56L579.42 622.95L579.48 621.34L579.54 619.73L579.59 618.11L579.65 616.50L579.71 614.88L579.77 613.27L579.83 611.65L579.89 610.03L579.95 608.41L580.01 606.79L580.06 605.16L580.12 603.54L580.18 601.91L580.24 600.28L580.30 598.65L580.36 597.02L580.42 595.38L580.48 593.74L580.53 592.11L580.59 590.47L580.65 588.82L580.71 587.18L580.77 585.53L580.83 583.88L580.89 582.23L580.95 580.58L581.00 578.93L581.06 577.27L581.12 575.61L581.18 573.95L581.24 572.28L581.30 570.62L581.36 568.95L581.42 567.28L581.47 565.60L581.53 563.93L581.59 562.25L581.65 560.57L581.71 558.88L581.77 557.20L581.83 555.33L581.89 551.24L581.94 545.03L582.00 537.52L582.06 529.55L582.12 521.94L582.18 515.71L582.24 511.79L582.30 508.03L582.36 504.46L582.42 501.07L582.47 497.88L582.53 496.21L582.59 496.76L582.65 497.35L582.71 497.98L582.77 498.64L582.83 499.33L582.89 500.06L582.94 500.82L583.00 501.61L583.06 502.43L583.12 503.28L583.18 504.16L583.24 505.06L583.30 506.00L583.36 507.10L583.41 508.37L583.47 509.78L583.53 511.31L583.59 512.95L583.65 514.66L583.71 516.43L583.77 518.22L583.83 520.02L583.88 521.81L583.94 523.55L584.00 525.24L584.06 526.84L584.12 528.32L584.18 529.68L584.24 530.88L584.30 531.90L584.35 532.71L584.41 533.31L584.47 533.65L584.53 533.73L584.59 533.67L584.65 533.54L584.71 533.33L584.77 533.05L584.82 532.71L584.88 532.32L584.94 531.87L585.00 531.38L585.06 530.85L585.12 530.29L585.18 529.70L585.24 529.09L585.29 528.47L585.35 527.85L585.41 527.22L585.47 526.60L585.53 525.99L585.59 525.39L585.65 524.83L585.71 524.29L585.76 523.78L585.82 523.32L585.88 522.91L585.94 522.56L586.00 522.26L586.06 522.03L586.12 521.88L586.18 521.81L586.23 521.82L586.29 521.91L586.35 522.08L586.41 522.31L586.47 522.62L586.53 522.99L586.59 523.43L586.65 523.92L586.70 524.47L586.76 525.07L586.82 525.71L586.88 526.41L586.94 527.15L587.00 527.92L587.06 528.74L587.12 529.58L587.17 530.46L587.23 531.36L587.29 532.28L587.35 533.22L587.41 534.18L587.47 535.16L587.53 536.14L587.59 537.13L587.64 538.12L587.70 539.11L587.76 540.10L587.82 541.08L587.88 542.05L587.94 543.01L588.00 543.95L588.06 544.87L588.11 545.77L588.17 546.64L588.23 547.49L588.29 548.30L588.35 549.07L588.41 549.80L588.47 550.49L588.53 551.13L588.58 551.73L588.64 552.27L588.70 552.75L588.76 553.17L588.82 553.53L588.88 553.83L588.94 554.05L589.00 554.20L589.05 554.28L589.11 554.27L589.17 554.16L589.23 553.96L589.29 553.67L589.35 553.30L589.41 552.86L589.47 552.35L589.52 551.77L589.58 551.14L589.64 550.46L589.70 549.73L589.76 548.96L589.82 548.15L589.88 547.31L589.94 546.45L589.99 545.58L590.05 544.69L590.11 543.79L590.17 542.89L590.23 542.00L590.29 541.12L590.35 540.25L590.41 539.41L590.46 538.59L590.52 537.81L590.58 537.06L590.64 536.36L590.70 535.71L590.76 535.12L590.82 534.59L590.88 534.12L590.93 533.73L590.99 533.42L591.05 533.20L591.11 533.06L591.17 533.02L591.23 535.14L591.29 537.39L591.35 539.68L591.40 542.01L591.46 544.37L591.52 546.76L591.58 549.18L591.64 551.63L591.70 554.10L591.76 556.59L591.82 559.10L591.87 561.63L591.93 564.17L591.99 566.72L592.05 569.28L592.11 571.84L592.17 574.40L592.23 576.97L592.29 579.53L592.34 582.08L592.40 584.63L592.46 587.17L592.52 589.69L592.58 592.19L592.64 594.69L592.70 597.20L592.76 599.73L592.81 602.26L592.87 604.81L592.93 607.36L592.99 609.92L593.05 612.49L593.11 615.05L593.17 617.62L593.23 620.18L593.28 622.74L593.34 625.29L593.40 627.84L593.46 630.37L593.52 632.89L593.58 635.40L593.64 637.89L593.70 640.36L593.75 642.81L593.81 645.24L593.87 647.64L593.93 650.01L593.99 652.36L594.05 652.29L594.11 650.61L594.17 648.92L594.22 647.23L594.28 645.54L594.34 643.85L594.40 642.16L594.46 640.46L594.52 638.76L594.58 637.06L594.64 635.35L594.69 633.64L594.75 631.93L594.81 630.22L594.87 628.51L594.93 626.79L594.99 625.07L595.05 623.34L595.11 621.62L595.16 619.89L595.22 618.16L595.28 616.43L595.34 614.69L595.40 612.95L595.46 611.21L595.52 609.46L595.58 607.72L595.63 605.96L595.69 604.21L595.75 602.45L595.81 600.70L595.87 598.93L595.93 597.17L595.99 595.40L596.05 593.63L596.10 591.85L596.16 590.08L596.22 588.30L596.28 586.51L596.34 584.73L596.40 582.94L596.46 581.14L596.52 579.35L596.57 577.55L596.63 575.74L596.69 573.94L596.75 572.13L596.81 570.32L596.87 568.50L596.93 566.68L596.99 564.86L597.04 563.03L597.10 561.01L597.16 556.67L597.22 550.10L597.28 542.17L597.34 533.75L597.40 525.72L597.46 519.12L597.51 515.01L597.57 511.07L597.63 507.32L597.69 503.77L597.75 500.42L597.81 498.67L597.87 499.25L597.93 499.86L597.98 500.51L598.04 501.20L598.10 501.93L598.16 502.69L598.22 503.48L598.28 504.31L598.34 505.17L598.40 506.05L598.45 506.97L598.51 507.91L598.57 508.90L598.63 510.04L598.69 511.37L598.75 512.84L598.81 514.45L598.87 516.16L598.92 517.95L598.98 519.79L599.04 521.67L599.10 523.55L599.16 525.42L599.22 527.24L599.28 529.00L599.34 530.67L599.39 532.22L599.45 533.63L599.51 534.89L599.57 535.95L599.63 536.80L599.69 537.41L599.75 537.76L599.81 537.84L599.86 537.78L599.92 537.64L599.98 537.41L600.04 537.12L600.10 536.75L600.16 536.33L600.22 535.86L600.28 535.34L600.33 534.78L600.39 534.19L600.45 533.57L600.51 532.93L600.57 532.28L600.63 531.62L600.69 530.95L600.75 530.30L600.80 529.65L600.86 529.03L600.92 528.43L600.98 527.86L601.04 527.33L601.10 526.84L601.16 526.41L601.22 526.03L601.28 525.72L601.33 525.48L601.39 525.31L601.45 525.23L601.51 525.23L601.57 525.32L601.63 525.49L601.69 525.74L601.75 526.05L601.80 526.43L601.86 526.88L601.92 527.39L601.98 527.95L602.04 528.58L602.10 529.25L602.16 529.97L602.22 530.73L602.27 531.53L602.33 532.38L602.39 533.25L602.45 534.16L602.51 535.09L602.57 536.05L602.63 537.02L602.69 538.02L602.74 539.03L602.80 540.04L602.86 541.07L602.92 542.09L602.98 543.12L603.04 544.14L603.10 545.16L603.16 546.16L603.21 547.15L603.27 548.13L603.33 549.08L603.39 550.01L603.45 550.91L603.51 551.78L603.57 552.61L603.63 553.41L603.68 554.16L603.74 554.87L603.80 555.53L603.86 556.14L603.92 556.70L603.98 557.19L604.04 557.62L604.10 557.99L604.15 558.29L604.21 558.51L604.27 558.66L604.33 558.73L604.39 558.70L604.45 558.58L604.51 558.36L604.57 558.06L604.62 557.67L604.68 557.20L604.74 556.66L604.80 556.06L604.86 555.39L604.92 554.67L604.98 553.91L605.04 553.10L605.09 552.25L605.15 551.38L605.21 550.48L605.27 549.56L605.33 548.63L605.39 547.69L605.45 546.75L605.51 545.82L605.56 544.89L605.62 543.99L605.68 543.10L605.74 542.25L605.80 541.43L605.86 540.65L605.92 539.92L605.98 539.24L606.03 538.62L606.09 538.06L606.15 537.58L606.21 537.17L606.27 536.84L606.33 536.60L606.39 536.46L606.45 536.41L606.50 538.69L606.56 541.11L606.62 543.58L606.68 546.08L606.74 548.61L606.80 551.18L606.86 553.78L606.92 556.40L606.97 559.05L607.03 561.72L607.09 564.41L607.15 567.11L607.21 569.83L607.27 572.56L607.33 575.29L607.39 578.03L607.44 580.78L607.50 583.52L607.56 586.26L607.62 588.99L607.68 591.71L607.74 594.42L607.80 597.12L607.86 599.79L607.91 602.46L607.97 605.15L608.03 607.85L608.09 610.56L608.15 613.28L608.21 616.01L608.27 618.74L608.33 621.48L608.38 624.22L608.44 626.96L608.50 629.69L608.56 632.42L608.62 635.15L608.68 637.86L608.74 640.56L608.80 643.26L608.85 645.93L608.91 648.59L608.97 651.23L609.03 653.84L609.09 656.44L609.15 659.00L609.21 661.54L609.27 664.05L609.32 663.96L609.38 662.13L609.44 660.30L609.50 658.46L609.56 656.63L609.62 654.79L609.68 652.94L609.74 651.10L609.79 649.25L609.85 647.40L609.91 645.55L609.97 643.70L610.03 641.84L610.09 639.98L610.15 638.12L610.21 636.26L610.26 634.39L610.32 632.52L610.38 630.65L610.44 628.77L610.50 626.90L610.56 625.02L610.62 623.13L610.68 621.25L610.73 619.36L610.79 617.47L610.85 615.58L610.91 613.68L610.97 611.78L611.03 609.88L611.09 607.98L611.15 606.07L611.20 604.16L611.26 602.25L611.32 600.33L611.38 598.42L611.44 596.50L611.50 594.57L611.56 592.64L611.62 590.71L611.67 588.78L611.73 586.85L611.79 584.91L611.85 582.97L611.91 581.02L611.97 579.08L612.03 577.12L612.09 575.17L612.14 573.22L612.20 571.26L612.26 569.29L612.32 567.33L612.38 565.16L612.44 560.62L612.50 553.78L612.56 545.55L612.61 536.82L612.67 528.49L612.73 521.64L612.79 517.42L612.85 513.37L612.91 509.52L612.97 505.87L613.03 502.44L613.08 500.63L613.14 501.22L613.20 501.84L613.26 502.51L613.32 503.21L613.38 503.95L613.44 504.73L613.50 505.54L613.55 506.38L613.61 507.25L613.67 508.16L613.73 509.09L613.79 510.06L613.85 511.06L613.91 512.23L613.97 513.58L614.02 515.09L614.08 516.73L614.14 518.47L614.20 520.30L614.26 522.19L614.32 524.11L614.38 526.03L614.44 527.94L614.49 529.80L614.55 531.60L614.61 533.30L614.67 534.89L614.73 536.33L614.79 537.60L614.85 538.69L614.91 539.55L614.96 540.17L615.02 540.53L615.08 540.60L615.14 540.53L615.20 540.38L615.26 540.14L615.32 539.83L615.38 539.45L615.43 539.02L615.49 538.53L615.55 537.99L615.61 537.41L615.67 536.79L615.73 536.15L615.79 535.49L615.85 534.82L615.90 534.13L615.96 533.45L616.02 532.77L616.08 532.11L616.14 531.46L616.20 530.84L616.26 530.25L616.32 529.70L616.37 529.20L616.43 528.75L616.49 528.35L616.55 528.03L616.61 527.77L616.67 527.60L616.73 527.51L616.79 527.51L616.84 527.59L616.90 527.76L616.96 528.00L617.02 528.32L617.08 528.70L617.14 529.16L617.20 529.67L617.26 530.24L617.31 530.87L617.37 531.55L617.43 532.28L617.49 533.06L617.55 533.87L617.61 534.73L617.67 535.62L617.73 536.54L617.78 537.49L617.84 538.46L617.90 539.45L617.96 540.46L618.02 541.49L618.08 542.52L618.14 543.56L618.20 544.61L618.25 545.65L618.31 546.69L618.37 547.72L618.43 548.74L618.49 549.75L618.55 550.74L618.61 551.71L618.67 552.65L618.72 553.56L618.78 554.44L618.84 555.29L618.90 556.10L618.96 556.86L619.02 557.58L619.08 558.25L619.14 558.87L619.19 559.42L619.25 559.92L619.31 560.36L619.37 560.73L619.43 561.02L619.49 561.25L619.55 561.39L619.61 561.45L619.66 561.43L619.72 561.29L619.78 561.07L619.84 560.75L619.90 560.34L619.96 559.86L620.02 559.30L620.08 558.67L620.13 557.99L620.19 557.25L620.25 556.46L620.31 555.62L620.37 554.75L620.43 553.85L620.49 552.93L620.55 551.98L620.61 551.03L620.66 550.06L620.72 549.10L620.78 548.14L620.84 547.19L620.90 546.26L620.96 545.35L621.02 544.47L621.08 543.63L621.13 542.83L621.19 542.08L621.25 541.38L621.31 540.74L621.37 540.16L621.43 539.66L621.49 539.24L621.55 538.90L621.60 538.65L621.66 538.49L621.72 538.44L621.78 540.83L621.84 543.36L621.90 545.93L621.96 548.54L622.02 551.18L622.07 553.86L622.13 556.57L622.19 559.31L622.25 562.06L622.31 564.85L622.37 567.65L622.43 570.46L622.49 573.29L622.54 576.13L622.60 578.97L622.66 581.82L622.72 584.68L622.78 587.53L622.84 590.37L622.90 593.21L622.96 596.04L623.01 598.86L623.07 601.66L623.13 604.45L623.19 607.22L623.25 610.01L623.31 612.81L623.37 615.63L623.43 618.46L623.48 621.29L623.54 624.13L623.60 626.97L623.66 629.81L623.72 632.66L623.78 635.49L623.84 638.33L623.90 641.16L623.95 643.97L624.01 646.78L624.07 649.57L624.13 652.35L624.19 655.11L624.25 657.85L624.31 660.56L624.37 663.26L624.42 665.92L624.48 668.56L624.54 671.17L624.60 671.06L624.66 669.13L624.72 667.21L624.78 665.28L624.84 663.35L624.89 661.42L624.95 659.48L625.01 657.55L625.07 655.61L625.13 653.67L625.19 651.72L625.25 649.78L625.31 647.83L625.36 645.88L625.42 643.93L625.48 641.97L625.54 640.02L625.60 638.06L625.66 636.10L625.72 634.13L625.78 632.17L625.83 630.20L625.89 628.23L625.95 626.25L626.01 624.28L626.07 622.30L626.13 620.32L626.19 618.33L626.25 616.35L626.30 614.36L626.36 612.37L626.42 610.37L626.48 608.38L626.54 606.38L626.60 604.38L626.66 602.37L626.72 600.36L626.77 598.35L626.83 596.34L626.89 594.33L626.95 592.31L627.01 590.29L627.07 588.26L627.13 586.23L627.19 584.20L627.24 582.17L627.30 580.14L627.36 578.10L627.42 576.06L627.48 574.01L627.54 571.96L627.60 569.91L627.66 567.66L627.71 562.98L627.77 555.97L627.83 547.53L627.89 538.59L627.95 530.05L628.01 523.03L628.07 518.73L628.13 514.60L628.18 510.67L628.24 506.95L628.30 503.45L628.36 501.62L628.42 502.21L628.48 502.85L628.54 503.53L628.60 504.24L628.65 505.00L628.71 505.79L628.77 506.61L628.83 507.47L628.89 508.36L628.95 509.29L629.01 510.24L629.07 511.22L629.12 512.24L629.18 513.43L629.24 514.81L629.30 516.34L629.36 518.02L629.42 519.79L629.48 521.66L629.54 523.58L629.59 525.53L629.65 527.49L629.71 529.44L629.77 531.34L629.83 533.17L629.89 534.90L629.95 536.52L630.01 537.99L630.06 539.29L630.12 540.39L630.18 541.27L630.24 541.91L630.30 542.27L630.36 542.34L630.42 542.27L630.48 542.12L630.53 541.88L630.59 541.56L630.65 541.18L630.71 540.73L630.77 540.24L630.83 539.69L630.89 539.10L630.95 538.48L631.00 537.83L631.06 537.15L631.12 536.47L631.18 535.77L631.24 535.08L631.30 534.39L631.36 533.71L631.42 533.06L631.47 532.43L631.53 531.83L631.59 531.27L631.65 530.76L631.71 530.30L631.77 529.90L631.83 529.57L631.89 529.32L631.94 529.14L632.00 529.05L632.06 529.05L632.12 529.14L632.18 529.31L632.24 529.56L632.30 529.88L632.36 530.28L632.41 530.74L632.47 531.27L632.53 531.85L632.59 532.49L632.65 533.19L632.71 533.94L632.77 534.73L632.83 535.56L632.88 536.43L632.94 537.34L633.00 538.28L633.06 539.25L633.12 540.24L633.18 541.26L633.24 542.29L633.30 543.33L633.35 544.39L633.41 545.45L633.47 546.51L633.53 547.58L633.59 548.64L633.65 549.69L633.71 550.74L633.77 551.76L633.82 552.77L633.88 553.76L633.94 554.72L634.00 555.66L634.06 556.56L634.12 557.42L634.18 558.25L634.24 559.03L634.29 559.76L634.35 560.45L634.41 561.08L634.47 561.65L634.53 562.16L634.59 562.60L634.65 562.98L634.71 563.29L634.76 563.51L634.82 563.67L634.88 563.73L634.94 563.71L635.00 563.57L635.06 563.34L635.12 563.02L635.18 562.61L635.23 562.12L635.29 561.56L635.35 560.92L635.41 560.23L635.47 559.48L635.53 558.67L635.59 557.83L635.65 556.95L635.70 556.03L635.76 555.09L635.82 554.13L635.88 553.16L635.94 552.18L636.00 551.20L636.06 550.23L636.12 549.26L636.17 548.32L636.23 547.40L636.29 546.51L636.35 545.65L636.41 544.84L636.47 544.07L636.53 543.36L636.59 542.72L636.64 542.13L636.70 541.63L636.76 541.20L636.82 540.85L636.88 540.60L636.94 540.45L637.00 540.40L637.06 542.88L637.11 545.51L637.17 548.18L637.23 550.89L637.29 553.64L637.35 556.42L637.41 559.23L637.47 562.06L637.53 564.92L637.58 567.81L637.64 570.71L637.70 573.63L637.76 576.56L637.82 579.50L637.88 582.45L637.94 585.40L638.00 588.36L638.05 591.31L638.11 594.26L638.17 597.20L638.23 600.13L638.29 603.05L638.35 605.96L638.41 608.84L638.47 611.71L638.52 614.60L638.58 617.51L638.64 620.42L638.70 623.35L638.76 626.28L638.82 629.22L638.88 632.16L638.94 635.10L638.99 638.05L639.05 640.98L639.11 643.92L639.17 646.84L639.23 649.76L639.29 652.66L639.35 655.55L639.41 658.42L639.47 661.28L639.52 664.11L639.58 666.92L639.64 669.70L639.70 672.46L639.76 675.19L639.82 677.89L639.88 677.77L639.94 675.77L639.99 673.76L640.05 671.76L640.11 669.75L640.17 667.74L640.23 665.73L640.29 663.71L640.35 661.70L640.41 659.68L640.46 657.66L640.52 655.63L640.58 653.61L640.64 651.58L640.70 649.55L640.76 647.52L640.82 645.49L640.88 643.45L640.93 641.41L640.99 639.37L641.05 637.33L641.11 635.28L641.17 633.24L641.23 631.19L641.29 629.13L641.35 627.08L641.40 625.02L641.46 622.96L641.52 620.90L641.58 618.83L641.64 616.76L641.70 614.69L641.76 612.62L641.82 610.54L641.87 608.47L641.93 606.38L641.99 604.30L642.05 602.21L642.11 600.12L642.17 598.03L642.23 595.94L642.29 593.84L642.34 591.74L642.40 589.64L642.46 587.53L642.52 585.42L642.58 583.31L642.64 581.19L642.70 579.08L642.76 576.96L642.81 574.83L642.87 572.71L642.93 570.37L642.99 565.58L643.05 558.41L643.11 549.81L643.17 540.69L643.23 531.98L643.28 524.82L643.34 520.45L643.40 516.27L643.46 512.28L643.52 508.50L643.58 504.95L643.64 503.09L643.70 503.69L643.75 504.34L643.81 505.02L643.87 505.75L643.93 506.51L643.99 507.31L644.05 508.15L644.11 509.02L644.17 509.92L644.22 510.85L644.28 511.82L644.34 512.81L644.40 513.84L644.46 515.04L644.52 516.44L644.58 517.99L644.64 519.68L644.69 521.48L644.75 523.37L644.81 525.31L644.87 527.28L644.93 529.26L644.99 531.23L645.05 533.15L645.11 534.99L645.16 536.74L645.22 538.37L645.28 539.86L645.34 541.17L645.40 542.28L645.46 543.16L645.52 543.80L645.58 544.16L645.63 544.23L645.69 544.15L645.75 543.98L645.81 543.73L645.87 543.41L645.93 543.01L645.99 542.56L646.05 542.05L646.10 541.49L646.16 540.88L646.22 540.25L646.28 539.58L646.34 538.90L646.40 538.20L646.46 537.49L646.52 536.78L646.57 536.08L646.63 535.39L646.69 534.72L646.75 534.07L646.81 533.46L646.87 532.89L646.93 532.37L646.99 531.90L647.04 531.50L647.10 531.16L647.16 530.89L647.22 530.70L647.28 530.61L647.34 530.60L647.40 530.69L647.46 530.85L647.51 531.10L647.57 531.42L647.63 531.81L647.69 532.27L647.75 532.79L647.81 533.38L647.87 534.02L647.93 534.71L647.98 535.45L648.04 536.24L648.10 537.08L648.16 537.95L648.22 538.86L648.28 539.79L648.34 540.76L648.40 541.75L648.45 542.76L648.51 543.79L648.57 544.84L648.63 545.89L648.69 546.95L648.75 548.01L648.81 549.08L648.87 550.13L648.92 551.19L648.98 552.22L649.04 553.25L649.10 554.25L649.16 555.24L649.22 556.19L649.28 557.12L649.34 558.02L649.39 558.87L649.45 559.69L649.51 560.47L649.57 561.19L649.63 561.87L649.69 562.49L649.75 563.06L649.81 563.56L649.86 564.00L649.92 564.36L649.98 564.66L650.04 564.88L650.10 565.02L650.16 565.07L650.22 565.04L650.28 564.90L650.33 564.65L650.39 564.32L650.45 563.90L650.51 563.40L650.57 562.82L650.63 562.18L650.69 561.47L650.75 560.71L650.80 559.89L650.86 559.04L650.92 558.14L650.98 557.22L651.04 556.27L651.10 555.30L651.16 554.32L651.22 553.33L651.27 552.34L651.33 551.36L651.39 550.38L651.45 549.43L651.51 548.50L651.57 547.60L651.63 546.74L651.69 545.92L651.74 545.14L651.80 544.43L651.86 543.77L651.92 543.18L651.98 542.67L652.04 542.23L652.10 541.88L652.16 541.62L652.21 541.46L652.27 541.40L652.33 543.95L652.39 546.64L652.45 549.38L652.51 552.15L652.57 554.96L652.63 557.80L652.68 560.67L652.74 563.57L652.80 566.49L652.86 569.43L652.92 572.40L652.98 575.37L653.04 578.36L653.10 581.36L653.15 584.37L653.21 587.38L653.27 590.39L653.33 593.40L653.39 596.40L653.45 599.40L653.51 602.39L653.57 605.36L653.62 608.32L653.68 611.25L653.74 614.18L653.80 617.12L653.86 620.08L653.92 623.04L653.98 626.02L654.04 629.00L654.09 631.99L654.15 634.98L654.21 637.97L654.27 640.96L654.33 643.94L654.39 646.92L654.45 649.89L654.51 652.85L654.56 655.80L654.62 658.73L654.68 661.64L654.74 664.54L654.80 667.42L654.86 670.27L654.92 673.09L654.98 675.89L655.03 678.66L655.09 681.40L655.15 681.25L655.21 679.18L655.27 677.10L655.33 675.03L655.39 672.95L655.45 670.87L655.50 668.79L655.56 666.70L655.62 664.62L655.68 662.53L655.74 660.44L655.80 658.35L655.86 656.26L655.92 654.17L655.97 652.08L656.03 649.98L656.09 647.88L656.15 645.78L656.21 643.68L656.27 641.58L656.33 639.47L656.39 637.36L656.44 635.25L656.50 633.14L656.56 631.03L656.62 628.92L656.68 626.80L656.74 624.68L656.80 622.56L656.86 620.44L656.91 618.31L656.97 616.19L657.03 614.06L657.09 611.93L657.15 609.79L657.21 607.66L657.27 605.52L657.33 603.38L657.38 601.24L657.44 599.10L657.50 596.95L657.56 594.80L657.62 592.65L657.68 590.50L657.74 588.35L657.80 586.19L657.85 584.03L657.91 581.87L657.97 579.70L658.03 577.54L658.09 575.37L658.15 573.20L658.21 570.82L658.27 566.01L658.32 558.85L658.38 550.26L658.44 541.16L658.50 532.48L658.56 525.32L658.62 520.99L658.68 516.84L658.74 512.89L658.80 509.14L658.85 505.62L658.91 503.77L658.97 504.37L659.03 505.00L659.09 505.68L659.15 506.39L659.21 507.14L659.27 507.93L659.32 508.76L659.38 509.62L659.44 510.51L659.50 511.43L659.56 512.38L659.62 513.36L659.68 514.38L659.74 515.57L659.79 516.95L659.85 518.48L659.91 520.15L659.97 521.93L660.03 523.80L660.09 525.72L660.15 527.67L660.21 529.64L660.26 531.58L660.32 533.48L660.38 535.31L660.44 537.04L660.50 538.65L660.56 540.12L660.62 541.42L660.68 542.51L660.73 543.39L660.79 544.02L660.85 544.37L660.91 544.44L660.97 544.36L661.03 544.20L661.09 543.95L661.15 543.62L661.20 543.23L661.26 542.78L661.32 542.27L661.38 541.71L661.44 541.12L661.50 540.48L661.56 539.82L661.62 539.14L661.67 538.44L661.73 537.74L661.79 537.04L661.85 536.34L661.91 535.65L661.97 534.99L662.03 534.35L662.09 533.74L662.14 533.18L662.20 532.66L662.26 532.19L662.32 531.78L662.38 531.44L662.44 531.18L662.50 530.99L662.56 530.90L662.61 530.89L662.67 530.97L662.73 531.14L662.79 531.38L662.85 531.69L662.91 532.08L662.97 532.53L663.03 533.05L663.08 533.63L663.14 534.26L663.20 534.95L663.26 535.69L663.32 536.47L663.38 537.29L663.44 538.16L663.50 539.06L663.55 539.99L663.61 540.95L663.67 541.93L663.73 542.93L663.79 543.95L663.85 544.99L663.91 546.03L663.97 547.09L664.02 548.14L664.08 549.20L664.14 550.25L664.20 551.29L664.26 552.32L664.32 553.34L664.38 554.33L664.44 555.31L664.49 556.26L664.55 557.18L664.61 558.07L664.67 558.92L664.73 559.74L664.79 560.51L664.85 561.23L664.91 561.90L664.96 562.52L665.02 563.08L665.08 563.58L665.14 564.01L665.20 564.38L665.26 564.67L665.32 564.89L665.38 565.03L665.43 565.08L665.49 565.05L665.55 564.90L665.61 564.66L665.67 564.33L665.73 563.91L665.79 563.41L665.85 562.84L665.90 562.20L665.96 561.49L666.02 560.74L666.08 559.93L666.14 559.07L666.20 558.18L666.26 557.26L666.32 556.32L666.37 555.35L666.43 554.37L666.49 553.39L666.55 552.40L666.61 551.42L666.67 550.46L666.73 549.51L666.79 548.58L666.84 547.68L666.90 546.82L666.96 546.00L667.02 545.23L667.08 544.52L667.14 543.86L667.20 543.28L667.26 542.76L667.31 542.33L667.37 541.98L667.43 541.72L667.49 541.55L667.55 541.50L667.61 544.04L667.67 546.74L667.73 549.47L667.78 552.25L667.84 555.05L667.90 557.90L667.96 560.77L668.02 563.66L668.08 566.59L668.14 569.53L668.20 572.49L668.25 575.46L668.31 578.45L668.37 581.45L668.43 584.45L668.49 587.46L668.55 590.47L668.61 593.48L668.67 596.48L668.72 599.47L668.78 602.46L668.84 605.43L668.90 608.38L668.96 611.31L669.02 614.24L669.08 617.18L669.14 620.13L669.19 623.09L669.25 626.06L669.31 629.04L669.37 632.03L669.43 635.01L669.49 638.00L669.55 640.99L669.61 643.97L669.66 646.94L669.72 649.91L669.78 652.87L669.84 655.81L669.90 658.74L669.96 661.66L670.02 664.55L670.08 667.42L670.13 670.27L670.19 673.10L670.25 675.90L670.31 678.66L670.37 681.40L670.43 681.25L670.49 679.18L670.55 677.10L670.60 675.02L670.66 672.95L670.72 670.87L670.78 668.78L670.84 666.70L670.90 664.62L670.96 662.53L671.02 660.44L671.07 658.35L671.13 656.26L671.19 654.17L671.25 652.07L671.31 649.98L671.37 647.88L671.43 645.78L671.49 643.68L671.54 641.57L671.60 639.47L671.66 637.36L671.72 635.25L671.78 633.14L671.84 631.03L671.90 628.92L671.96 626.80L672.01 624.68L672.07 622.56L672.13 620.44L672.19 618.31L672.25 616.19L672.31 614.06L672.37 611.93L672.43 609.79L672.48 607.66L672.54 605.52L672.60 603.38L672.66 601.24L672.72 599.10L672.78 596.95L672.84 594.81L672.90 592.66L672.95 590.50L673.01 588.35L673.07 586.19L673.13 584.03L673.19 581.87L673.25 579.71L673.31 577.54L673.37 575.37L673.42 573.20L673.48 570.83L673.54 566.01L673.60 558.85L673.66 550.26L673.72 541.17L673.78 532.48L673.84 525.33L673.89 520.99L673.95 516.84L674.01 512.89L674.07 509.14L674.13 505.62L674.19 503.77L674.25 504.37L674.31 505.00L674.36 505.68L674.42 506.39L674.48 507.14L674.54 507.93L674.60 508.76L674.66 509.62L674.72 510.51L674.78 511.43L674.83 512.38L674.89 513.36L674.95 514.38L675.01 515.57L675.07 516.94L675.13 518.48L675.19 520.15L675.25 521.93L675.30 523.80L675.36 525.72L675.42 527.67L675.48 529.63L675.54 531.58L675.60 533.48L675.66 535.30L675.72 537.04L675.77 538.65L675.83 540.12L675.89 541.42L675.95 542.51L676.01 543.39L676.07 544.02L676.13 544.37L676.19 544.44L676.24 544.36L676.30 544.20L676.36 543.95L676.42 543.62L676.48 543.23L676.54 542.78L676.60 542.27L676.66 541.71L676.71 541.11L676.77 540.48L676.83 539.82L676.89 539.14L676.95 538.44L677.01 537.74L677.07 537.04L677.13 536.34L677.18 535.65L677.24 534.99L677.30 534.35L677.36 533.74L677.42 533.17L677.48 532.66L677.54 532.19L677.60 531.78L677.66 531.44L677.71 531.18L677.77 530.99L677.83 530.90L677.89 530.89L677.95 530.97L678.01 531.14L678.07 531.38L678.13 531.69L678.18 532.08L678.24 532.53L678.30 533.05L678.36 533.63L678.42 534.26L678.48 534.95L678.54 535.69L678.60 536.47L678.65 537.29L678.71 538.16L678.77 539.06L678.83 539.99L678.89 540.95L678.95 541.93L679.01 542.93L679.07 543.95L679.12 544.99L679.18 546.03L679.24 547.09L679.30 548.14L679.36 549.20L679.42 550.25L679.48 551.29L679.54 552.32L679.59 553.34L679.65 554.33L679.71 555.31L679.77 556.26L679.83 557.18L679.89 558.07L679.95 558.92L680.01 559.74L680.06 560.51L680.12 561.23L680.18 561.90L680.24 562.52L680.30 563.08L680.36 563.58L680.42 564.01L680.48 564.38L680.53 564.67L680.59 564.89L680.65 565.03L680.71 565.08L680.77 565.05L680.83 564.90L680.89 564.66L680.95 564.33L681.00 563.91L681.06 563.41L681.12 562.84L681.18 562.20L681.24 561.49L681.30 560.74L681.36 559.93L681.42 559.07L681.47 558.18L681.53 557.26L681.59 556.32L681.65 555.35L681.71 554.37L681.77 553.39L681.83 552.40L681.89 551.42L681.94 550.46L682.00 549.50L682.06 548.58L682.12 547.68L682.18 546.82L682.24 546.00L682.30 545.23L682.36 544.52L682.41 543.86L682.47 543.28L682.53 542.76L682.59 542.33L682.65 541.98L682.71 541.72L682.77 541.55L682.83 541.50L682.88 544.04L682.94 546.74L683.00 549.47L683.06 552.24L683.12 555.05L683.18 557.90L683.24 560.77L683.30 563.66L683.35 566.59L683.41 569.53L683.47 572.49L683.53 575.46L683.59 578.45L683.65 581.45L683.71 584.45L683.77 587.46L683.82 590.47L683.88 593.48L683.94 596.48L684.00 599.47L684.06 602.46L684.12 605.43L684.18 608.38L684.24 611.31L684.29 614.24L684.35 617.18L684.41 620.13L684.47 623.09L684.53 626.06L684.59 629.04L684.65 632.03L684.71 635.01L684.76 638.00L684.82 640.99L684.88 643.97L684.94 646.94L685.00 649.91L685.06 652.87L685.12 655.81L685.18 658.74L685.23 661.66L685.29 664.55L685.35 667.42L685.41 670.27L685.47 673.10L685.53 675.90L685.59 678.66L685.65 681.40L685.70 681.25L685.76 679.18L685.82 677.10L685.88 675.02L685.94 672.95L686.00 670.87L686.06 668.78L686.12 666.70L686.17 664.62L686.23 662.53L686.29 660.44L686.35 658.35L686.41 656.26L686.47 654.17L686.53 652.07L686.59 649.98L686.64 647.88L686.70 645.78L686.76 643.68L686.82 641.57L686.88 639.47L686.94 637.36L687.00 635.25L687.06 633.14L687.11 631.03L687.17 628.92L687.23 626.80L687.29 624.68L687.35 622.56L687.41 620.44L687.47 618.31L687.53 616.19L687.58 614.06L687.64 611.93L687.70 609.79L687.76 607.66L687.82 605.52L687.88 603.38L687.94 601.24L688.00 599.10L688.05 596.95L688.11 594.81L688.17 592.66L688.23 590.50L688.29 588.35L688.35 586.19L688.41 584.03L688.47 581.87L688.52 579.71L688.58 577.54L688.64 575.37L688.70 573.20L688.76 570.83L688.82 566.01L688.88 558.85L688.94 550.26L688.99 541.17L689.05 532.48L689.11 525.33L689.17 520.99L689.23 516.84L689.29 512.89L689.35 509.14L689.41 505.62L689.46 503.77L689.52 504.37L689.58 505.00L689.64 505.68L689.70 506.39L689.76 507.14L689.82 507.93L689.88 508.76L689.93 509.62L689.99 510.51L690.05 511.43L690.11 512.38L690.17 513.36L690.23 514.38L690.29 515.57L690.35 516.94L690.40 518.48L690.46 520.15L690.52 521.93L690.58 523.80L690.64 525.72L690.70 527.67L690.76 529.63L690.82 531.58L690.87 533.48L690.93 535.30L690.99 537.04L691.05 538.65L691.11 540.12L691.17 541.42L691.23 542.51L691.29 543.39L691.34 544.02L691.40 544.37L691.46 544.44L691.52 544.36L691.58 544.20L691.64 543.95L691.70 543.62L691.76 543.23L691.81 542.78L691.87 542.27L691.93 541.71L691.99 541.11L692.05 540.48L692.11 539.82L692.17 539.14L692.23 538.44L692.28 537.74L692.34 537.04L692.40 536.34L692.46 535.65L692.52 534.99L692.58 534.35L692.64 533.74L692.70 533.17L692.75 532.66L692.81 532.19L692.87 531.78L692.93 531.44L692.99 531.18L693.05 530.99L693.11 530.90L693.17 530.89L693.22 530.97L693.28 531.14L693.34 531.38L693.40 531.69L693.46 532.08L693.52 532.53L693.58 533.05L693.64 533.63L693.69 534.26L693.75 534.95L693.81 535.69L693.87 536.47L693.93 537.29L693.99 538.16L694.05 539.06L694.11 539.99L694.16 540.95L694.22 541.93L694.28 542.93L694.34 543.95L694.40 544.99L694.46 546.03L694.52 547.09L694.58 548.14L694.63 549.20L694.69 550.25L694.75 551.29L694.81 552.32L694.87 553.34L694.93 554.33L694.99 555.31L695.05 556.26L695.10 557.18L695.16 558.07L695.22 558.92L695.28 559.74L695.34 560.51L695.40 561.23L695.46 561.90L695.52 562.52L695.57 563.08L695.63 563.58L695.69 564.01L695.75 564.38L695.81 564.67L695.87 564.89L695.93 565.03L695.99 565.08L696.04 565.05L696.10 564.90L696.16 564.66L696.22 564.33L696.28 563.91L696.34 563.41L696.40 562.84L696.46 562.20L696.51 561.49L696.57 560.74L696.63 559.93L696.69 559.07L696.75 558.18L696.81 557.26L696.87 556.32L696.93 555.35L696.99 554.37L697.04 553.39L697.10 552.40L697.16 551.42L697.22 550.46L697.28 549.50L697.34 548.58L697.40 547.68L697.46 546.82L697.51 546.00L697.57 545.23L697.63 544.52L697.69 543.86L697.75 543.28L697.81 542.76L697.87 542.33L697.93 541.98L697.98 541.72L698.04 541.55L698.10 541.50L698.16 544.04L698.22 546.74L698.28 549.47L698.34 552.24L698.40 555.05L698.45 557.90L698.51 560.77L698.57 563.66L698.63 566.59L698.69 569.53L698.75 572.49L698.81 575.46L698.87 578.45L698.92 581.45L698.98 584.45L699.04 587.46L699.10 590.47L699.16 593.48L699.22 596.48L699.28 599.47L699.34 602.46L699.39 605.43L699.45 608.38L699.51 611.31L699.57 614.24L699.63 617.18L699.69 620.13L699.75 623.09L699.81 626.06L699.86 629.04L699.92 632.03L699.98 635.01L700.04 638.00L700.10 640.99L700.16 643.97L700.22 646.94L700.28 649.91L700.33 652.87L700.39 655.81L700.45 658.74L700.51 661.66L700.57 664.55L700.63 667.42L700.69 670.27L700.75 673.10L700.80 675.90L700.86 678.66L700.92 681.40L700.98 681.25L701.04 679.18L701.10 677.10L701.16 675.02L701.22 672.95L701.27 670.87L701.33 668.78L701.39 666.70L701.45 664.62L701.51 662.53L701.57 660.44L701.63 658.35L701.69 656.26L701.74 654.17L701.80 652.07L701.86 649.98L701.92 647.88L701.98 645.78L702.04 643.68L702.10 641.57L702.16 639.47L702.21 637.36L702.27 635.25L702.33 633.14L702.39 631.03L702.45 628.92L702.51 626.80L702.57 624.68L702.63 622.56L702.68 620.44L702.74 618.31L702.80 616.19L702.86 614.06L702.92 611.93L702.98 609.79L703.04 607.66L703.10 605.52L703.15 603.38L703.21 601.24L703.27 599.10L703.33 596.95L703.39 594.81L703.45 592.66L703.51 590.50L703.57 588.35L703.62 586.19L703.68 584.03L703.74 581.87L703.80 579.71L703.86 577.54L703.92 575.37L703.98 573.20L704.04 570.83L704.09 566.01L704.15 558.85L704.21 550.26L704.27 541.17L704.33 532.48L704.39 525.33L704.45 520.99L704.51 516.84L704.56 512.89L704.62 509.14L704.68 505.62L704.74 503.77L704.80 504.37L704.86 505.00L704.92 505.68L704.98 506.39L705.03 507.14L705.09 507.93L705.15 508.76L705.21 509.62L705.27 510.51L705.33 511.43L705.39 512.38L705.45 513.36L705.50 514.38L705.56 515.57L705.62 516.94L705.68 518.48L705.74 520.15L705.80 521.93L705.86 523.80L705.92 525.72L705.97 527.67L706.03 529.63L706.09 531.58L706.15 533.48L706.21 535.30L706.27 537.04L706.33 538.65L706.39 540.12L706.44 541.42L706.50 542.51L706.56 543.39L706.62 544.02L706.68 544.37L706.74 544.44L706.80 544.36L706.86 544.20L706.91 543.95L706.97 543.62L707.03 543.23L707.09 542.78L707.15 542.27L707.21 541.71L707.27 541.11L707.33 540.48L707.38 539.82L707.44 539.14L707.50 538.44L707.56 537.74L707.62 537.04L707.68 536.34L707.74 535.65L707.80 534.99L707.85 534.35L707.91 533.74L707.97 533.17L708.03 532.66L708.09 532.19L708.15 531.78L708.21 531.44L708.27 531.18L708.32 530.99L708.38 530.90L708.44 530.89L708.50 530.97L708.56 531.14L708.62 531.38L708.68 531.69L708.74 532.08L708.79 532.53L708.85 533.05L708.91 533.63L708.97 534.26L709.03 534.95L709.09 535.69L709.15 536.47L709.21 537.29L709.26 538.16L709.32 539.06L709.38 539.99L709.44 540.95L709.50 541.93L709.56 542.93L709.62 543.95L709.68 544.99L709.73 546.03L709.79 547.09L709.85 548.14L709.91 549.20L709.97 550.25L710.03 551.29L710.09 552.32L710.15 553.34L710.20 554.33L710.26 555.31L710.32 556.26L710.38 557.18L710.44 558.07L710.50 558.92L710.56 559.74L710.62 560.51L710.67 561.23L710.73 561.90L710.79 562.52L710.85 563.08L710.91 563.58L710.97 564.01L711.03 564.38L711.09 564.67L711.14 564.89L711.20 565.03L711.26 565.08L711.32 565.05L711.38 564.90L711.44 564.66L711.50 564.33L711.56 563.91L711.61 563.41L711.67 562.84L711.73 562.20L711.79 561.49L711.85 560.74L711.91 559.93L711.97 559.07L712.03 558.18L712.08 557.26L712.14 556.32L712.20 555.35L712.26 554.37L712.32 553.39L712.38 552.40L712.44 551.42L712.50 550.46L712.55 549.50L712.61 548.58L712.67 547.68L712.73 546.82L712.79 546.00L712.85 545.23L712.91 544.52L712.97 543.86L713.02 543.28L713.08 542.76L713.14 542.33L713.20 541.98L713.26 541.72L713.32 541.55L713.38 541.50L713.44 544.04L713.49 546.74L713.55 549.47L713.61 552.24L713.67 555.05L713.73 557.90L713.79 560.77L713.85 563.66L713.91 566.59L713.96 569.53L714.02 572.49L714.08 575.46L714.14 578.45L714.20 581.45L714.26 584.45L714.32 587.46L714.38 590.47L714.43 593.48L714.49 596.48L714.55 599.47L714.61 602.46L714.67 605.43L714.73 608.38L714.79 611.31L714.85 614.24L714.90 617.18L714.96 620.13L715.02 623.09L715.08 626.06L715.14 629.04L715.20 632.03L715.26 635.01L715.32 638.00L715.37 640.99L715.43 643.97L715.49 646.94L715.55 649.91L715.61 652.87L715.67 655.81L715.73 658.74L715.79 661.66L715.85 664.55L715.90 667.42L715.96 670.27L716.02 673.10L716.08 675.90L716.14 678.66L716.20 681.40L716.26 681.25L716.32 679.18L716.37 677.10L716.43 675.02L716.49 672.95L716.55 670.87L716.61 668.78L716.67 666.70L716.73 664.62L716.79 662.53L716.84 660.44L716.90 658.35L716.96 656.26L717.02 654.17L717.08 652.07L717.14 649.98L717.20 647.88L717.26 645.78L717.31 643.68L717.37 641.57L717.43 639.47L717.49 637.36L717.55 635.25L717.61 633.14L717.67 631.03L717.73 628.92L717.78 626.80L717.84 624.68L717.90 622.56L717.96 620.44L718.02 618.31L718.08 616.19L718.14 614.06L718.20 611.93L718.25 609.79L718.31 607.66L718.37 605.52L718.43 603.38L718.49 601.24L718.55 599.10L718.61 596.95L718.67 594.81L718.72 592.66L718.78 590.50L718.84 588.35L718.90 586.19L718.96 584.03L719.02 581.87L719.08 579.71L719.14 577.54L719.19 575.37L719.25 573.20L719.31 570.83L719.37 566.01L719.43 558.85L719.49 550.26L719.55 541.17L719.61 532.48L719.66 525.33L719.72 520.99L719.78 516.84L719.84 512.89L719.90 509.14L719.96 505.62L720.02 503.77L720.08 504.37L720.13 505.00L720.19 505.68L720.25 506.39L720.31 507.14L720.37 507.93L720.43 508.76L720.49 509.62L720.55 510.51L720.60 511.43L720.66 512.38L720.72 513.36L720.78 514.38L720.84 515.57L720.90 516.94L720.96 518.48L721.02 520.15L721.07 521.93L721.13 523.80L721.19 525.72L721.25 527.67L721.31 529.63L721.37 531.58L721.43 533.48L721.49 535.30L721.54 537.04L721.60 538.65L721.66 540.12L721.72 541.42L721.78 542.51L721.84 543.39L721.90 544.02L721.96 544.37L722.01 544.44L722.07 544.36L722.13 544.20L722.19 543.95L722.25 543.62L722.31 543.23L722.37 542.78L722.43 542.27L722.48 541.71L722.54 541.11L722.60 540.48L722.66 539.82L722.72 539.14L722.78 538.44L722.84 537.74L722.90 537.04L722.95 536.34L723.01 535.65L723.07 534.99L723.13 534.35L723.19 533.74L723.25 533.17L723.31 532.66L723.37 532.19L723.42 531.78L723.48 531.44L723.54 531.18L723.60 530.99L723.66 530.90L723.72 530.89L723.78 530.97L723.84 531.14L723.89 531.38L723.95 531.69L724.01 532.08L724.07 532.53L724.13 533.05L724.19 533.63L724.25 534.26L724.31 534.95L724.36 535.69L724.42 536.47L724.48 537.29L724.54 538.16L724.60 539.06L724.66 539.99L724.72 540.95L724.78 541.93L724.83 542.93L724.89 543.95L724.95 544.99L725.01 546.03L725.07 547.09L725.13 548.14L725.19 549.20L725.25 550.25L725.30 551.29L725.36 552.32L725.42 553.34L725.48 554.33L725.54 555.31L725.60 556.26L725.66 557.18L725.72 558.07L725.77 558.92L725.83 559.74L725.89 560.51L725.95 561.23L726.01 561.90L726.07 562.52L726.13 563.08L726.19 563.58L726.24 564.01L726.30 564.38L726.36 564.67L726.42 564.89L726.48 565.03L726.54 565.08L726.60 565.05L726.66 564.90L726.71 564.66L726.77 564.33L726.83 563.91L726.89 563.41L726.95 562.84L727.01 562.20L727.07 561.49L727.13 560.74L727.18 559.93L727.24 559.07L727.30 558.18L727.36 557.26L727.42 556.32L727.48 555.35L727.54 554.37L727.60 553.39L727.65 552.40L727.71 551.42L727.77 550.46L727.83 549.50L727.89 548.58L727.95 547.68L728.01 546.82L728.07 546.00L728.12 545.23L728.18 544.52L728.24 543.86L728.30 543.28L728.36 542.76L728.42 542.33L728.48 541.98L728.54 541.72L728.59 541.55L728.65 541.50L728.71 544.04L728.77 546.74L728.83 549.47L728.89 552.24L728.95 555.05L729.01 557.90L729.06 560.77L729.12 563.66L729.18 566.59L729.24 569.53L729.30 572.49L729.36 575.46L729.42 578.45L729.48 581.45L729.53 584.45L729.59 587.46L729.65 590.47L729.71 593.48L729.77 596.48L729.83 599.47L729.89 602.46L729.95 605.43L730.00 608.38L730.06 611.31L730.12 614.24L730.18 617.18L730.24 620.13L730.30 623.09L730.36 626.06L730.42 629.04L730.47 632.03L730.53 635.01L730.59 638.00L730.65 640.99L730.71 643.97L730.77 646.94L730.83 649.91L730.89 652.87L730.94 655.81L731.00 658.74L731.06 661.66L731.12 664.55L731.18 667.42L731.24 670.27L731.30 673.10L731.36 675.90L731.41 678.66L731.47 681.40L731.53 681.25L731.59 679.18L731.65 677.10L731.71 675.02L731.77 672.95L731.83 670.87L731.88 668.78L731.94 666.70L732.00 664.62L732.06 662.53L732.12 660.44L732.18 658.35L732.24 656.26L732.30 654.17L732.35 652.07L732.41 649.98L732.47 647.88L732.53 645.78L732.59 643.68L732.65 641.57L732.71 639.47L732.77 637.36L732.82 635.25L732.88 633.14L732.94 631.03L733.00 628.92L733.06 626.80L733.12 624.68L733.18 622.56L733.24 620.44L733.29 618.31L733.35 616.19L733.41 614.06L733.47 611.93L733.53 609.79L733.59 607.66L733.65 605.52L733.71 603.38L733.76 601.24L733.82 599.10L733.88 596.95L733.94 594.81L734.00 592.66L734.06 590.50L734.12 588.35L734.18 586.19L734.23 584.03L734.29 581.87L734.35 579.71L734.41 577.54L734.47 575.37L734.53 573.20L734.59 570.83L734.65 566.01L734.70 558.85L734.76 550.26L734.82 541.17L734.88 532.48L734.94 525.33L735.00 520.99L735.06 516.84L735.12 512.89L735.18 509.14L735.23 505.62L735.29 503.77L735.35 504.37L735.41 505.00L735.47 505.68L735.53 506.39L735.59 507.14L735.65 507.93L735.70 508.76L735.76 509.62L735.82 510.51L735.88 511.43L735.94 512.38L736.00 513.36L736.06 514.38L736.12 515.57L736.17 516.94L736.23 518.48L736.29 520.15L736.35 521.93L736.41 523.80L736.47 525.72L736.53 527.67L736.59 529.63L736.64 531.58L736.70 533.48L736.76 535.30L736.82 537.04L736.88 538.65L736.94 540.12L737.00 541.42L737.06 542.51L737.11 543.39L737.17 544.02L737.23 544.37L737.29 544.44L737.35 544.36L737.41 544.20L737.47 543.95L737.53 543.62L737.58 543.23L737.64 542.78L737.70 542.27L737.76 541.71L737.82 541.11L737.88 540.48L737.94 539.82L738.00 539.14L738.05 538.44L738.11 537.74L738.17 537.04L738.23 536.34L738.29 535.65L738.35 534.99L738.41 534.35L738.47 533.74L738.52 533.17L738.58 532.66L738.64 532.19L738.70 531.78L738.76 531.44L738.82 531.18L738.88 530.99L738.94 530.90L738.99 530.89L739.05 530.97L739.11 531.14L739.17 531.38L739.23 531.69L739.29 532.08L739.35 532.53L739.41 533.05L739.46 533.63L739.52 534.26L739.58 534.95L739.64 535.69L739.70 536.47L739.76 537.29L739.82 538.16L739.88 539.06L739.93 539.99L739.99 540.95L740.05 541.93L740.11 542.93L740.17 543.95L740.23 544.99L740.29 546.03L740.35 547.09L740.40 548.14L740.46 549.20L740.52 550.25L740.58 551.29L740.64 552.32L740.70 553.34L740.76 554.33L740.82 555.31L740.87 556.26L740.93 557.18L740.99 558.07L741.05 558.92L741.11 559.74L741.17 560.51L741.23 561.23L741.29 561.90L741.34 562.52L741.40 563.08L741.46 563.58L741.52 564.01L741.58 564.38L741.64 564.67L741.70 564.89L741.76 565.03L741.81 565.08L741.87 565.05L741.93 564.90L741.99 564.66L742.05 564.33L742.11 563.91L742.17 563.41L742.23 562.84L742.28 562.20L742.34 561.49L742.40 560.74L742.46 559.93L742.52 559.07L742.58 558.18L742.64 557.26L742.70 556.32L742.75 555.35L742.81 554.37L742.87 553.39L742.93 552.40L742.99 551.42L743.05 550.46L743.11 549.50L743.17 548.58L743.22 547.68L743.28 546.82L743.34 546.00L743.40 545.23L743.46 544.52L743.52 543.86L743.58 543.28L743.64 542.76L743.69 542.33L743.75 541.98L743.81 541.72L743.87 541.55L743.93 541.50L743.99 544.04L744.05 546.74L744.11 549.47L744.16 552.24L744.22 555.05L744.28 557.90L744.34 560.77L744.40 563.66L744.46 566.59L744.52 569.53L744.58 572.49L744.63 575.46L744.69 578.45L744.75 581.45L744.81 584.45L744.87 587.46L744.93 590.47L744.99 593.48L745.05 596.48L745.10 599.47L745.16 602.46L745.22 605.43L745.28 608.38L745.34 611.31L745.40 614.24L745.46 617.18L745.52 620.13L745.57 623.09L745.63 626.06L745.69 629.04L745.75 632.03L745.81 635.01L745.87 638.00L745.93 640.99L745.99 643.97L746.04 646.94L746.10 649.91L746.16 652.87L746.22 655.81L746.28 658.74L746.34 661.66L746.40 664.55L746.46 667.42L746.51 670.27L746.57 673.10L746.63 675.90L746.69 678.66L746.75 681.40L746.81 681.25L746.87 679.18L746.93 677.10L746.98 675.02L747.04 672.95L747.10 670.87L747.16 668.78L747.22 666.70L747.28 664.62L747.34 662.53L747.40 660.44L747.45 658.35L747.51 656.26L747.57 654.17L747.63 652.07L747.69 649.98L747.75 647.88L747.81 645.78L747.87 643.68L747.92 641.57L747.98 639.47L748.04 637.36L748.10 635.25L748.16 633.14L748.22 631.03L748.28 628.92L748.34 626.80L748.39 624.68L748.45 622.56L748.51 620.44L748.57 618.31L748.63 616.19L748.69 614.06L748.75 611.93L748.81 609.79L748.86 607.66L748.92 605.52L748.98 603.38L749.04 601.24L749.10 599.10L749.16 596.95L749.22 594.81L749.28 592.66L749.33 590.50L749.39 588.35L749.45 586.19L749.51 584.03L749.57 581.87L749.63 579.71L749.69 577.54L749.75 575.37L749.80 573.20L749.86 570.83L749.92 566.01L749.98 558.85L750.04 550.26L750.10 541.17L750.16 532.48L750.22 525.33L750.27 520.99L750.33 516.84L750.39 512.89L750.45 509.14L750.51 505.62L750.57 503.77L750.63 504.37L750.69 505.00L750.74 505.68L750.80 506.39L750.86 507.14L750.92 507.93L750.98 508.76L751.04 509.62L751.10 510.51L751.16 511.43L751.21 512.38L751.27 513.36L751.33 514.38L751.39 515.57L751.45 516.94L751.51 518.48L751.57 520.15L751.63 521.93L751.68 523.80L751.74 525.72L751.80 527.67L751.86 529.63L751.92 531.58L751.98 533.48L752.04 535.30L752.10 537.04L752.15 538.65L752.21 540.12L752.27 541.42L752.33 542.51L752.39 543.39L752.45 544.02L752.51 544.37L752.57 544.44L752.62 544.36L752.68 544.20L752.74 543.95L752.80 543.62L752.86 543.23L752.92 542.78L752.98 542.27L753.04 541.71L753.09 541.11L753.15 540.48L753.21 539.82L753.27 539.14L753.33 538.44L753.39 537.74L753.45 537.04L753.51 536.34L753.56 535.65L753.62 534.99L753.68 534.35L753.74 533.74L753.80 533.17" fill="none" stroke="#000" stroke-width="1.5" stroke-linejoin="round" stroke-linecap="round"/>
<path d="M356.62 476.65L357.12 476.34L357.62 475.99L358.12 475.64L358.62 475.29L359.11 474.94L359.61 474.60L360.11 474.26L360.61 473.91L361.11 473.57L361.60 473.24L362.10 472.90L362.60 472.57L363.10 472.23L363.59 471.90L364.09 471.57L364.59 471.24L365.09 470.92L365.59 470.60L366.08 470.27L366.58 469.95L367.08 469.64L367.58 469.32L368.08 469.01L368.57 468.69L369.07 468.38L369.57 468.08L370.07 467.77L370.57 467.47L371.06 467.17L371.56 466.87L372.06 466.57L372.56 466.27L373.06 465.97L373.55 465.68L374.05 465.38L374.55 465.09L375.05 464.80L375.54 464.50L376.04 464.21L376.54 463.92L377.04 463.64L377.54 463.35L378.03 463.07L378.53 462.78L379.03 462.50L379.53 462.22L380.03 461.95L380.52 461.67L381.02 461.40L381.52 461.13L382.02 460.87L382.52 460.60L383.01 460.34L383.51 460.09L384.01 459.83L384.51 459.58L385.01 459.33L385.50 459.09L386.00 458.85" fill="none" stroke="#000" stroke-width="1.45" stroke-dasharray="6.9 4.8" stroke-linecap="butt"/>
<path d="M386.00 458.85L386.50 458.61L387.00 458.38L387.49 458.15L387.99 457.92L388.49 457.69L388.99 457.46L389.49 457.23L389.98 456.99L390.48 456.76L390.98 456.53L391.48 456.30L391.98 456.07L392.47 455.85L392.97 455.62L393.47 455.40L393.97 455.18L394.47 454.97L394.96 454.76L395.46 454.55L395.96 454.35L396.46 454.15L396.96 453.95L397.45 453.77L397.95 453.59L398.45 453.41L398.95 453.24L399.44 453.08L399.94 452.93L400.44 452.78L400.94 452.65L401.44 452.52L401.93 452.40L402.43 452.29L402.93 452.18L403.43 452.07L403.93 451.96L404.42 451.85L404.92 451.74L405.42 451.64L405.92 451.54L406.42 451.45L406.91 451.36L407.41 451.28L407.91 451.21L408.41 451.15L408.90 451.11L409.40 451.07L409.90 451.05L410.40 451.05L410.90 451.05L411.39 451.06L411.89 451.09L412.39 451.11L412.89 451.15L413.39 451.19L413.88 451.24L414.38 451.29L414.88 451.34L415.38 451.40" fill="none" stroke="#000" stroke-width="1.45" stroke-dasharray="6.9 4.8" stroke-linecap="butt"/>
<path d="M415.38 451.40L415.88 451.46L416.37 451.53L416.87 451.60L417.37 451.67L417.87 451.74L418.37 451.82L418.86 451.91L419.36 452.02L419.86 452.14L420.36 452.27L420.85 452.42L421.35 452.58L421.85 452.75L422.35 452.93L422.85 453.12L423.34 453.32L423.84 453.54L424.34 453.76L424.84 453.99L425.34 454.23L425.83 454.47L426.33 454.73L426.83 454.99L427.33 455.26L427.83 455.54L428.32 455.82L428.82 456.10L429.32 456.39L429.82 456.69L430.32 456.99L430.81 457.29L431.31 457.59L431.81 457.90L432.31 458.21L432.80 458.52L433.30 458.84L433.80 459.18L434.30 459.53L434.80 459.90L435.29 460.28L435.79 460.68L436.29 461.10L436.79 461.53L437.29 461.98L437.78 462.44L438.28 462.91L438.78 463.39L439.28 463.89L439.78 464.39L440.27 464.91L440.77 465.44L441.27 465.97L441.77 466.52L442.27 467.07L442.76 467.63L443.26 468.19L443.76 468.77L444.26 469.34L444.75 469.92" fill="none" stroke="#000" stroke-width="1.45" stroke-dasharray="6.9 4.8" stroke-linecap="butt"/>
<path d="M444.75 469.92L445.25 470.51L445.75 471.10L446.25 471.69L446.75 472.29L447.24 472.88L447.74 473.48L448.24 474.08L448.74 474.69L449.24 475.32L449.73 475.96L450.23 476.63L450.73 477.31L451.23 478.01L451.73 478.72L452.22 479.44L452.72 480.17L453.22 480.90L453.72 481.64L454.22 482.38L454.71 483.13L455.21 483.87L455.71 484.61L456.21 485.34L456.70 486.07L457.20 486.81L457.70 487.54L458.20 488.28L458.70 489.02L459.19 489.76L459.69 490.51L460.19 491.26L460.69 492.02L461.19 492.78L461.68 493.54L462.18 494.31L462.68 495.08L463.18 495.86L463.68 496.64L464.17 497.43L464.67 498.23L465.17 499.03L465.67 499.85L466.17 500.66L466.66 501.49L467.16 502.31L467.66 503.14L468.16 503.98L468.65 504.82L469.15 505.66L469.65 506.51L470.15 507.35L470.65 508.20L471.14 509.05L471.64 509.89L472.14 510.74L472.64 511.59L473.14 512.43L473.63 513.27L474.13 514.11" fill="none" stroke="#000" stroke-width="1.45" stroke-dasharray="6.9 4.8" stroke-linecap="butt"/>
<path d="M474.13 514.11L474.63 514.95L475.13 515.78L475.63 516.61L476.12 517.44L476.62 518.26L477.12 519.07L477.62 519.88L478.12 520.67L478.61 521.47L479.11 522.25L479.61 523.04L480.11 523.83L480.60 524.62L481.10 525.41L481.60 526.20L482.10 526.99L482.60 527.78L483.09 528.57L483.59 529.35L484.09 530.14L484.59 530.92L485.09 531.70L485.58 532.47L486.08 533.24L486.58 534.01L487.08 534.77L487.58 535.53L488.07 536.28L488.57 537.02L489.07 537.76L489.57 538.49L490.06 539.21L490.56 539.92L491.06 540.63L491.56 541.32L492.06 542.01L492.55 542.68L493.05 543.35L493.55 544.00L494.05 544.65L494.55 545.28L495.04 545.93L495.54 546.57L496.04 547.22L496.54 547.87L497.04 548.52L497.53 549.17L498.03 549.81L498.53 550.45L499.03 551.07L499.53 551.70L500.02 552.31L500.52 552.90L501.02 553.49L501.52 554.06L502.01 554.61L502.51 555.15L503.01 555.66L503.51 556.15" fill="none" stroke="#000" stroke-width="1.45" stroke-dasharray="6.9 4.8" stroke-linecap="butt"/>
<path d="M503.51 556.15L504.01 556.62L504.50 557.07L505.00 557.48L505.50 557.87L506.00 558.23L506.50 558.56L506.99 558.88L507.49 559.20L507.99 559.52L508.49 559.84L508.99 560.15L509.48 560.46L509.98 560.77L510.48 561.06L510.98 561.35L511.48 561.62L511.97 561.88L512.47 562.13L512.97 562.36L513.47 562.58L513.96 562.77L514.46 562.95L514.96 563.10L515.46 563.23L515.96 563.33L516.45 563.40L516.95 563.45L517.45 563.46L517.95 563.46L518.45 563.44L518.94 563.41L519.44 563.38L519.94 563.33L520.44 563.28L520.94 563.21L521.43 563.14L521.93 563.06L522.43 562.98L522.93 562.89L523.43 562.80L523.92 562.70L524.42 562.60L524.92 562.48L525.42 562.33L525.91 562.13L526.41 561.90L526.91 561.63L527.41 561.34L527.91 561.03L528.40 560.70L528.90 560.37L529.40 560.03L529.90 559.70L530.40 559.38L530.89 559.05L531.39 558.72L531.89 558.37L532.39 558.00L532.89 557.63" fill="none" stroke="#000" stroke-width="1.45" stroke-dasharray="6.9 4.8" stroke-linecap="butt"/>
<path d="M532.89 557.63L533.38 557.24L533.88 556.85L534.38 556.44L534.88 556.03L535.38 555.62L535.87 555.20L536.37 554.78L536.87 554.36L537.37 553.93L537.86 553.51L538.36 553.09L538.86 552.68L539.36 552.27L539.86 551.86L540.35 551.46L540.85 551.08L541.35 550.70L541.85 550.33L542.35 549.98L542.84 549.64L543.34 549.31L543.84 549.00L544.34 548.68L544.84 548.37L545.33 548.05L545.83 547.73L546.33 547.41L546.83 547.10L547.33 546.78L547.82 546.47L548.32 546.17L548.82 545.87L549.32 545.58L549.81 545.29L550.31 545.01L550.81 544.74L551.31 544.48L551.81 544.23L552.30 543.99L552.80 543.76L553.30 543.55L553.80 543.35L554.30 543.16L554.79 542.99L555.29 542.84L555.79 542.71L556.29 542.58L556.79 542.46L557.28 542.34L557.78 542.22L558.28 542.10L558.78 541.99L559.27 541.88L559.77 541.77L560.27 541.66L560.77 541.56L561.27 541.47L561.76 541.37L562.26 541.29" fill="none" stroke="#000" stroke-width="1.45" stroke-dasharray="6.9 4.8" stroke-linecap="butt"/>
<path d="M562.26 541.29L562.76 541.21L563.26 541.14L563.76 541.07L564.25 541.01L564.75 540.96L565.25 540.92L565.75 540.89L566.25 540.86L566.74 540.85L567.24 540.84L567.74 540.85L568.24 540.86L568.74 540.89L569.23 540.92L569.73 540.96L570.23 541.00L570.73 541.05L571.22 541.11L571.72 541.18L572.22 541.25L572.72 541.32L573.22 541.40L573.71 541.48L574.21 541.56L574.71 541.65L575.21 541.74L575.71 541.83L576.20 541.92L576.70 542.02L577.20 542.11L577.70 542.20L578.20 542.30L578.69 542.39L579.19 542.49L579.69 542.60L580.19 542.71L580.69 542.84L581.18 542.97L581.68 543.11L582.18 543.25L582.68 543.40L583.17 543.56L583.67 543.72L584.17 543.88L584.67 544.05L585.17 544.22L585.66 544.39L586.16 544.56L586.66 544.74L587.16 544.91L587.66 545.08L588.15 545.26L588.65 545.43L589.15 545.60L589.65 545.77L590.15 545.94L590.64 546.10L591.14 546.26L591.64 546.42" fill="none" stroke="#000" stroke-width="1.45" stroke-dasharray="6.9 4.8" stroke-linecap="butt"/>
<path d="M591.64 546.42L592.14 546.57L592.64 546.71L593.13 546.85L593.63 546.98L594.13 547.11L594.63 547.24L595.12 547.37L595.62 547.51L596.12 547.64L596.62 547.77L597.12 547.89L597.61 548.02L598.11 548.15L598.61 548.28L599.11 548.40L599.61 548.53L600.10 548.65L600.60 548.78L601.10 548.90L601.60 549.02L602.10 549.14L602.59 549.26L603.09 549.37L603.59 549.49L604.09 549.60L604.59 549.71L605.08 549.82L605.58 549.93L606.08 550.04L606.58 550.14L607.07 550.25L607.57 550.35L608.07 550.44L608.57 550.54L609.07 550.63L609.56 550.72L610.06 550.81L610.56 550.90L611.06 550.98L611.56 551.06L612.05 551.14L612.55 551.22L613.05 551.30L613.55 551.37L614.05 551.44L614.54 551.52L615.04 551.59L615.54 551.65L616.04 551.72L616.54 551.79L617.03 551.85L617.53 551.92L618.03 551.98L618.53 552.04L619.02 552.10L619.52 552.16L620.02 552.23L620.52 552.29L621.02 552.35" fill="none" stroke="#000" stroke-width="1.45" stroke-dasharray="6.9 4.8" stroke-linecap="butt"/>
<path d="M621.02 552.35L621.51 552.40L622.01 552.46L622.51 552.52L623.01 552.58L623.51 552.64L624.00 552.70L624.50 552.76L625.00 552.82L625.50 552.88L626.00 552.94L626.49 553.01L626.99 553.07L627.49 553.13L627.99 553.19L628.49 553.26L628.98 553.33L629.48 553.40L629.98 553.47L630.48 553.55L630.97 553.62L631.47 553.70L631.97 553.79L632.47 553.87L632.97 553.95L633.46 554.04L633.96 554.12L634.46 554.21L634.96 554.29L635.46 554.37L635.95 554.46L636.45 554.54L636.95 554.62L637.45 554.70L637.95 554.78L638.44 554.85L638.94 554.93L639.44 555.00L639.94 555.07L640.43 555.13L640.93 555.19L641.43 555.25L641.93 555.30L642.43 555.35L642.92 555.39L643.42 555.43L643.92 555.47L644.42 555.49L644.92 555.52L645.41 555.53L645.91 555.54L646.41 555.55L646.91 555.55L647.41 555.56L647.90 555.57L648.40 555.57L648.90 555.58L649.40 555.58L649.90 555.59L650.39 555.60" fill="none" stroke="#000" stroke-width="1.45" stroke-dasharray="6.9 4.8" stroke-linecap="butt"/>
<path d="M650.39 555.60L650.89 555.60L651.39 555.61L651.89 555.61L652.38 555.61L652.88 555.62L653.38 555.62L653.88 555.63L654.38 555.63L654.87 555.63L655.37 555.64L655.87 555.64L656.37 555.64L656.87 555.64L657.36 555.65L657.86 555.65L658.36 555.65L658.86 555.65L659.36 555.65L659.85 555.65L660.35 555.66L660.85 555.66L661.35 555.66L661.85 555.66L662.34 555.66L662.84 555.66L663.34 555.66L663.84 555.66L664.33 555.66L664.83 555.66L665.33 555.66L665.83 555.66L666.33 555.66L666.82 555.66L667.32 555.66L667.82 555.66L668.32 555.66L668.82 555.66L669.31 555.66L669.81 555.66L670.31 555.66L670.81 555.66L671.31 555.66L671.80 555.66L672.30 555.66L672.80 555.66L673.30 555.66L673.80 555.66L674.29 555.66L674.79 555.66L675.29 555.66L675.79 555.66L676.28 555.66L676.78 555.66L677.28 555.66L677.78 555.66L678.28 555.66L678.77 555.66L679.27 555.66L679.77 555.66" fill="none" stroke="#000" stroke-width="1.45" stroke-dasharray="6.9 4.8" stroke-linecap="butt"/>
<path d="M679.77 555.66L680.27 555.66L680.77 555.66L681.26 555.66L681.76 555.66L682.26 555.66L682.76 555.66L683.26 555.66L683.75 555.66L684.25 555.66L684.75 555.66L685.25 555.66L685.75 555.66L686.24 555.66L686.74 555.66L687.24 555.66L687.74 555.66L688.23 555.66L688.73 555.66L689.23 555.66L689.73 555.66L690.23 555.66L690.72 555.66L691.22 555.66L691.72 555.66L692.22 555.66L692.72 555.66L693.21 555.66L693.71 555.66L694.21 555.66L694.71 555.66L695.21 555.66L695.70 555.66L696.20 555.66L696.70 555.66L697.20 555.66L697.70 555.66L698.19 555.66L698.69 555.66L699.19 555.66L699.69 555.66L700.18 555.66L700.68 555.66L701.18 555.66L701.68 555.66L702.18 555.66L702.67 555.66L703.17 555.66L703.67 555.66L704.17 555.66L704.67 555.66L705.16 555.66L705.66 555.66L706.16 555.66L706.66 555.66L707.16 555.66L707.65 555.66L708.15 555.66L708.65 555.66L709.15 555.66" fill="none" stroke="#000" stroke-width="1.45" stroke-dasharray="6.9 4.8" stroke-linecap="butt"/>
<path d="M709.15 555.66L709.64 555.66L710.14 555.66L710.64 555.66L711.14 555.66L711.64 555.66L712.13 555.66L712.63 555.66L713.13 555.66L713.63 555.66L714.13 555.66L714.62 555.66L715.12 555.66L715.62 555.66L716.12 555.66L716.62 555.66L717.11 555.66L717.61 555.66L718.11 555.66L718.61 555.66L719.11 555.66L719.60 555.66L720.10 555.66L720.60 555.66L721.10 555.66L721.59 555.66L722.09 555.66L722.59 555.66L723.09 555.66L723.59 555.66L724.08 555.66L724.58 555.66L725.08 555.66L725.58 555.66L726.08 555.66L726.57 555.66L727.07 555.66L727.57 555.66L728.07 555.66L728.57 555.66L729.06 555.66L729.56 555.66L730.06 555.66L730.56 555.66L731.06 555.66L731.55 555.66L732.05 555.66L732.55 555.66L733.05 555.66L733.54 555.66L734.04 555.66L734.54 555.66L735.04 555.66L735.54 555.66L736.03 555.66L736.53 555.66L737.03 555.66L737.53 555.66L738.03 555.66L738.52 555.66" fill="none" stroke="#000" stroke-width="1.45" stroke-dasharray="6.9 4.8" stroke-linecap="butt"/>
<path d="M738.52 555.66L738.78 555.66L739.04 555.66L739.30 555.66L739.56 555.66L739.82 555.66L740.08 555.66L740.34 555.66L740.60 555.66L740.85 555.66L741.11 555.66L741.37 555.66L741.63 555.66L741.89 555.66L742.15 555.66L742.41 555.66L742.67 555.66L742.93 555.66L743.18 555.66L743.44 555.66L743.70 555.66L743.96 555.66L744.22 555.66L744.48 555.66L744.74 555.66L745.00 555.66L745.26 555.66L745.51 555.66L745.77 555.66L746.03 555.66L746.29 555.66L746.55 555.66L746.81 555.66L747.07 555.66L747.33 555.66L747.59 555.66L747.84 555.66L748.10 555.66L748.36 555.66L748.62 555.66L748.88 555.66L749.14 555.66L749.40 555.66L749.66 555.66L749.92 555.66L750.18 555.66L750.43 555.66L750.69 555.66L750.95 555.66L751.21 555.66L751.47 555.66L751.73 555.66L751.99 555.66L752.25 555.66L752.51 555.66L752.76 555.66L753.02 555.66L753.28 555.66L753.54 555.66L753.80 555.66" fill="none" stroke="#000" stroke-width="1.45" stroke-dasharray="6.9 4.8" stroke-linecap="butt"/>
</svg>
</body>
</html>
